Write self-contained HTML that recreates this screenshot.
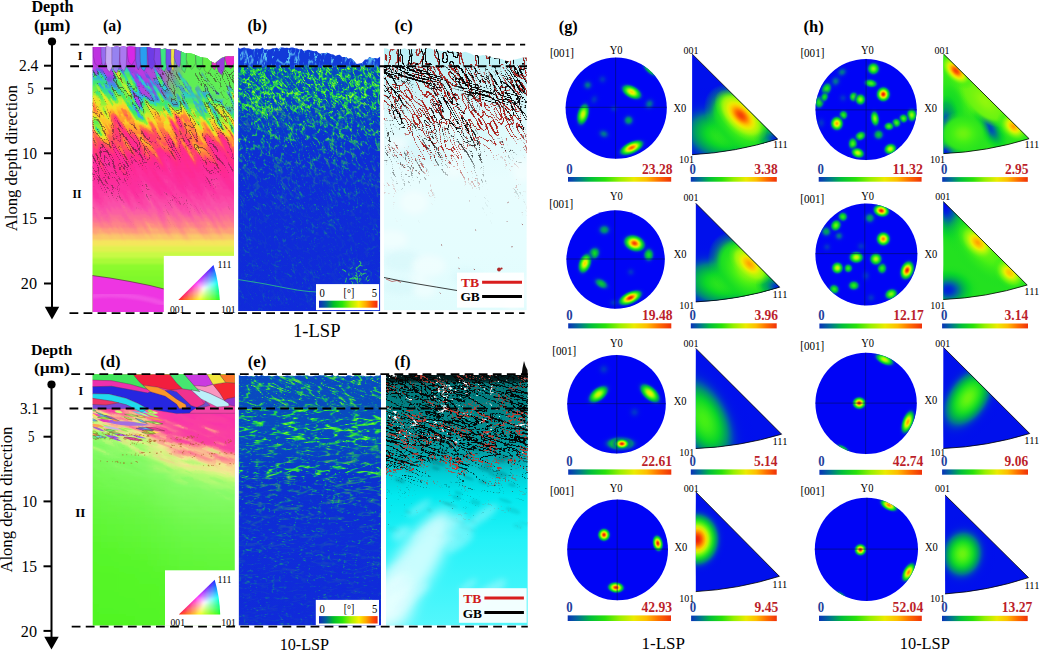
<!DOCTYPE html>
<html><head><meta charset="utf-8"><title>EBSD figure</title>
<style>html,body{margin:0;padding:0;background:#fff;overflow:hidden}svg{display:block}text{font-family:'Liberation Serif','DejaVu Serif',serif}</style></head>
<body>
<svg width="1039" height="652" viewBox="0 0 1039 652">
<defs>
<linearGradient id="cb" x1="0" x2="1" y1="0" y2="0"><stop offset="0%" stop-color="#0a32b9"/><stop offset="10%" stop-color="#006e96"/><stop offset="22%" stop-color="#00be3c"/><stop offset="36%" stop-color="#28e10a"/><stop offset="50%" stop-color="#96f000"/><stop offset="64%" stop-color="#ebeb00"/><stop offset="76%" stop-color="#ffbe00"/><stop offset="88%" stop-color="#ff6e00"/><stop offset="100%" stop-color="#f0320a"/></linearGradient>
<filter id="bl1" x="-5%" y="-5%" width="110%" height="110%"><feGaussianBlur stdDeviation="0.45"/></filter>
<filter id="bl2" x="-5%" y="-5%" width="110%" height="110%"><feGaussianBlur stdDeviation="1.2"/></filter>
<filter id="bl3" x="-10%" y="-10%" width="120%" height="120%"><feGaussianBlur stdDeviation="3"/></filter>
<filter id="bl1k" x="-10%" y="-10%" width="120%" height="120%"><feGaussianBlur stdDeviation="0.9"/></filter>
<filter id="bl4" x="-30%" y="-30%" width="160%" height="160%"><feGaussianBlur stdDeviation="7"/></filter>
<filter id="bl0" x="-5%" y="-5%" width="110%" height="110%"><feGaussianBlur stdDeviation="0.3"/></filter>
<clipPath id="cp1"><path d="M92.5 47L96 47.2L99.5 47L103 47.4L106.5 46.7L110 47L113.3 46.9L116.7 46.6L120 47L123.3 46.5L126.7 46.9L130 46.6L133.3 46.7L136.7 47.1L140 47.6L143.3 47L146.7 47.1L150 47.6L153 48.2L156 48.2L159 48.3L162 49.2L165 48.5L168.5 49.6L171.9 49.3L175.4 49.3L178.6 50.4L181.8 51.7L185 53.3L189 53.2L193 54.1L196.5 55.6L200 56.9L203.5 57.8L207 58.1L210 61.1L215 63.2L218 60.7L221.5 57.9L224.8 56.8L228 56.1L231 56.2L234 56L234 312L92.5 312Z"/></clipPath>
<linearGradient id="r2"><stop offset="0" stop-color="#ae3ce5"/><stop offset="0.1" stop-color="#aa3ce6"/><stop offset="0.2" stop-color="#aa3ce6"/><stop offset="0.4" stop-color="#aa3ce6"/><stop offset="0.5" stop-color="#9f56d1"/><stop offset="0.6" stop-color="#5fee55"/><stop offset="0.8" stop-color="#5fee55"/><stop offset="0.9" stop-color="#5fee55"/><stop offset="1" stop-color="#5fee55"/></linearGradient>
<linearGradient id="r3"><stop offset="0" stop-color="#b33ce4"/><stop offset="0.1" stop-color="#af3ce5"/><stop offset="0.2" stop-color="#ab3ce6"/><stop offset="0.4" stop-color="#aa3ce6"/><stop offset="0.5" stop-color="#9f56d1"/><stop offset="0.6" stop-color="#5fee55"/><stop offset="0.8" stop-color="#5fee55"/><stop offset="0.9" stop-color="#5fee55"/><stop offset="1" stop-color="#5fee55"/></linearGradient>
<linearGradient id="r4"><stop offset="0" stop-color="#b83ce3"/><stop offset="0.1" stop-color="#b43ce4"/><stop offset="0.2" stop-color="#b03ce5"/><stop offset="0.4" stop-color="#ac3ce6"/><stop offset="0.5" stop-color="#9f56d1"/><stop offset="0.6" stop-color="#5fee55"/><stop offset="0.8" stop-color="#5fee55"/><stop offset="0.9" stop-color="#5fee55"/><stop offset="1" stop-color="#5fee55"/></linearGradient>
<linearGradient id="r5"><stop offset="0" stop-color="#bd3ce1"/><stop offset="0.1" stop-color="#b93ce2"/><stop offset="0.2" stop-color="#b53ce3"/><stop offset="0.4" stop-color="#b13ce4"/><stop offset="0.5" stop-color="#a156d0"/><stop offset="0.6" stop-color="#5fee55"/><stop offset="0.8" stop-color="#5fee55"/><stop offset="0.9" stop-color="#5fee55"/><stop offset="1" stop-color="#5fee55"/></linearGradient>
<linearGradient id="r6"><stop offset="0" stop-color="#983ce1"/><stop offset="0.1" stop-color="#be3ce1"/><stop offset="0.2" stop-color="#ba3ce2"/><stop offset="0.4" stop-color="#b63ce3"/><stop offset="0.5" stop-color="#a656cf"/><stop offset="0.6" stop-color="#5fee55"/><stop offset="0.8" stop-color="#5fee55"/><stop offset="0.9" stop-color="#5fee55"/><stop offset="1" stop-color="#5fee55"/></linearGradient>
<linearGradient id="r7"><stop offset="0" stop-color="#4269eb"/><stop offset="0.1" stop-color="#8741e3"/><stop offset="0.2" stop-color="#b53ce1"/><stop offset="0.4" stop-color="#bb3ce2"/><stop offset="0.5" stop-color="#aa56ce"/><stop offset="0.6" stop-color="#5fee55"/><stop offset="0.8" stop-color="#5fee55"/><stop offset="0.9" stop-color="#5fee55"/><stop offset="1" stop-color="#5fee55"/></linearGradient>
<linearGradient id="r8"><stop offset="0" stop-color="#2bd3c0"/><stop offset="0.1" stop-color="#3b84eb"/><stop offset="0.2" stop-color="#7449e5"/><stop offset="0.4" stop-color="#ab3ce1"/><stop offset="0.5" stop-color="#ae56cd"/><stop offset="0.6" stop-color="#5fee55"/><stop offset="0.8" stop-color="#5fee55"/><stop offset="0.9" stop-color="#5fee55"/><stop offset="1" stop-color="#5fee55"/></linearGradient>
<linearGradient id="r9"><stop offset="0" stop-color="#47eb5f"/><stop offset="0.1" stop-color="#2edba2"/><stop offset="0.2" stop-color="#339feb"/><stop offset="0.4" stop-color="#6150e8"/><stop offset="0.5" stop-color="#9856cc"/><stop offset="0.6" stop-color="#5fee55"/><stop offset="0.8" stop-color="#5fee55"/><stop offset="0.9" stop-color="#5fee55"/><stop offset="1" stop-color="#5fee55"/></linearGradient>
<linearGradient id="r10"><stop offset="0" stop-color="#76f23e"/><stop offset="0.1" stop-color="#50ec58"/><stop offset="0.2" stop-color="#30e284"/><stop offset="0.4" stop-color="#2cbaeb"/><stop offset="0.5" stop-color="#4f65dd"/><stop offset="0.6" stop-color="#5fee55"/><stop offset="0.8" stop-color="#5fee55"/><stop offset="0.9" stop-color="#5fee55"/><stop offset="1" stop-color="#5fee55"/></linearGradient>
<linearGradient id="r11"><stop offset="0" stop-color="#bcf12e"/><stop offset="0.1" stop-color="#83f23a"/><stop offset="0.2" stop-color="#5aee52"/><stop offset="0.4" stop-color="#35e86c"/><stop offset="0.5" stop-color="#29ccdd"/><stop offset="0.6" stop-color="#4a93bd"/><stop offset="0.8" stop-color="#5fee55"/><stop offset="0.9" stop-color="#5fee55"/><stop offset="1" stop-color="#5fee55"/></linearGradient>
<linearGradient id="r12"><stop offset="0" stop-color="#e7e628"/><stop offset="0.1" stop-color="#caf02b"/><stop offset="0.2" stop-color="#91f137"/><stop offset="0.4" stop-color="#63ef4b"/><stop offset="0.5" stop-color="#3eea65"/><stop offset="0.6" stop-color="#2cd3bf"/><stop offset="0.8" stop-color="#3a86ea"/><stop offset="0.9" stop-color="#5fee55"/><stop offset="1" stop-color="#5fee55"/></linearGradient>
<linearGradient id="r13"><stop offset="0" stop-color="#ffd328"/><stop offset="0.1" stop-color="#ede228"/><stop offset="0.2" stop-color="#d8f028"/><stop offset="0.4" stop-color="#a0f134"/><stop offset="0.5" stop-color="#6df044"/><stop offset="0.6" stop-color="#48eb5f"/><stop offset="0.8" stop-color="#2edba0"/><stop offset="0.9" stop-color="#33a0eb"/><stop offset="1" stop-color="#5fde64"/></linearGradient>
<linearGradient id="r14"><stop offset="0" stop-color="#ffb02b"/><stop offset="0.1" stop-color="#ffcc29"/><stop offset="0.2" stop-color="#f3df28"/><stop offset="0.4" stop-color="#deec28"/><stop offset="0.5" stop-color="#b1f130"/><stop offset="0.6" stop-color="#79f23c"/><stop offset="0.8" stop-color="#54ed56"/><stop offset="0.9" stop-color="#31e676"/><stop offset="1" stop-color="#28c7eb"/></linearGradient>
<linearGradient id="r15"><stop offset="0" stop-color="#ff9031"/><stop offset="0.1" stop-color="#ffa92c"/><stop offset="0.2" stop-color="#ffc22a"/><stop offset="0.4" stop-color="#fcd928"/><stop offset="0.5" stop-color="#e9e528"/><stop offset="0.6" stop-color="#d6f028"/><stop offset="0.8" stop-color="#a4f133"/><stop offset="0.9" stop-color="#74f13f"/><stop offset="1" stop-color="#53ed57"/></linearGradient>
<linearGradient id="r16"><stop offset="0" stop-color="#ff7146"/><stop offset="0.1" stop-color="#ff8637"/><stop offset="0.2" stop-color="#ff9c2d"/><stop offset="0.4" stop-color="#ffb22b"/><stop offset="0.5" stop-color="#ffc829"/><stop offset="0.6" stop-color="#f9db28"/><stop offset="0.8" stop-color="#e9e528"/><stop offset="0.9" stop-color="#d8ef28"/><stop offset="1" stop-color="#adf131"/></linearGradient>
<linearGradient id="r17"><stop offset="0" stop-color="#ff515b"/><stop offset="0.1" stop-color="#ff644e"/><stop offset="0.2" stop-color="#ff7742"/><stop offset="0.4" stop-color="#ff8a35"/><stop offset="0.5" stop-color="#ff9d2c"/><stop offset="0.6" stop-color="#ffb02b"/><stop offset="0.8" stop-color="#ffc429"/><stop offset="0.9" stop-color="#ffd728"/><stop offset="1" stop-color="#f0e028"/></linearGradient>
<linearGradient id="r18"><stop offset="0" stop-color="#ff426b"/><stop offset="0.1" stop-color="#ff4863"/><stop offset="0.2" stop-color="#ff525a"/><stop offset="0.4" stop-color="#ff624f"/><stop offset="0.5" stop-color="#ff7245"/><stop offset="0.6" stop-color="#ff833a"/><stop offset="0.8" stop-color="#ff932f"/><stop offset="0.9" stop-color="#ffa32c"/><stop offset="1" stop-color="#ffb42b"/></linearGradient>
<linearGradient id="r19"><stop offset="0" stop-color="#ff367a"/><stop offset="0.1" stop-color="#ff3b74"/><stop offset="0.2" stop-color="#ff406d"/><stop offset="0.4" stop-color="#ff4567"/><stop offset="0.5" stop-color="#ff4a60"/><stop offset="0.6" stop-color="#ff5558"/><stop offset="0.8" stop-color="#ff634f"/><stop offset="0.9" stop-color="#ff7046"/><stop offset="1" stop-color="#ff7d3d"/></linearGradient>
<linearGradient id="r20"><stop offset="0" stop-color="#ff2a8a"/><stop offset="0.1" stop-color="#ff2e85"/><stop offset="0.2" stop-color="#ff327f"/><stop offset="0.4" stop-color="#ff367a"/><stop offset="0.5" stop-color="#ff3a75"/><stop offset="0.6" stop-color="#ff3e70"/><stop offset="0.8" stop-color="#ff426b"/><stop offset="0.9" stop-color="#ff4666"/><stop offset="1" stop-color="#ff4a60"/></linearGradient>
<linearGradient id="r21"><stop offset="0" stop-color="#ff298e"/><stop offset="0.1" stop-color="#ff298e"/><stop offset="0.2" stop-color="#ff288d"/><stop offset="0.4" stop-color="#ff288c"/><stop offset="0.5" stop-color="#ff2a8a"/><stop offset="0.6" stop-color="#ff2d86"/><stop offset="0.8" stop-color="#ff3082"/><stop offset="0.9" stop-color="#ff337e"/><stop offset="1" stop-color="#ff367a"/></linearGradient>
<linearGradient id="r22"><stop offset="0" stop-color="#fe2a91"/><stop offset="0.1" stop-color="#fe2a91"/><stop offset="0.2" stop-color="#fe2a90"/><stop offset="0.4" stop-color="#fe2a90"/><stop offset="0.5" stop-color="#fe298f"/><stop offset="0.6" stop-color="#ff298f"/><stop offset="0.8" stop-color="#ff298f"/><stop offset="0.9" stop-color="#ff298e"/><stop offset="1" stop-color="#ff298e"/></linearGradient>
<linearGradient id="r23"><stop offset="0" stop-color="#fe2b94"/><stop offset="0.1" stop-color="#fe2b94"/><stop offset="0.2" stop-color="#fe2b94"/><stop offset="0.4" stop-color="#fe2b94"/><stop offset="0.5" stop-color="#fe2b93"/><stop offset="0.6" stop-color="#fe2b93"/><stop offset="0.8" stop-color="#fe2b93"/><stop offset="0.9" stop-color="#fe2b93"/><stop offset="1" stop-color="#fe2b92"/></linearGradient>
<g id="baseA" filter="url(#bl2)"><rect x="32.5" y="20" width="261.5" height="330" fill="#ff2c96"/><rect x="62.5" y="36" width="201.5" height="6.7" fill="url(#r2)"/><rect x="62.5" y="42" width="201.5" height="6.7" fill="url(#r3)"/><rect x="62.5" y="48" width="201.5" height="6.7" fill="url(#r4)"/><rect x="62.5" y="54" width="201.5" height="6.7" fill="url(#r5)"/><rect x="62.5" y="60" width="201.5" height="6.7" fill="url(#r6)"/><rect x="62.5" y="66" width="201.5" height="6.7" fill="url(#r7)"/><rect x="62.5" y="72" width="201.5" height="6.7" fill="url(#r8)"/><rect x="62.5" y="78" width="201.5" height="6.7" fill="url(#r9)"/><rect x="62.5" y="84" width="201.5" height="6.7" fill="url(#r10)"/><rect x="62.5" y="90" width="201.5" height="6.7" fill="url(#r11)"/><rect x="62.5" y="96" width="201.5" height="6.7" fill="url(#r12)"/><rect x="62.5" y="102" width="201.5" height="6.7" fill="url(#r13)"/><rect x="62.5" y="108" width="201.5" height="6.7" fill="url(#r14)"/><rect x="62.5" y="114" width="201.5" height="6.7" fill="url(#r15)"/><rect x="62.5" y="120" width="201.5" height="6.7" fill="url(#r16)"/><rect x="62.5" y="126" width="201.5" height="6.7" fill="url(#r17)"/><rect x="62.5" y="132" width="201.5" height="6.7" fill="url(#r18)"/><rect x="62.5" y="138" width="201.5" height="6.7" fill="url(#r19)"/><rect x="62.5" y="144" width="201.5" height="6.7" fill="url(#r20)"/><rect x="62.5" y="150" width="201.5" height="6.7" fill="url(#r21)"/><rect x="62.5" y="156" width="201.5" height="6.7" fill="url(#r22)"/><rect x="62.5" y="162" width="201.5" height="6.7" fill="url(#r23)"/><rect x="62.5" y="168" width="201.5" height="6.7" fill="#fd2c97"/><rect x="62.5" y="174" width="201.5" height="6.7" fill="#fd2e9a"/><rect x="62.5" y="180" width="201.5" height="6.7" fill="#fc2f9d"/><rect x="62.5" y="186" width="201.5" height="6.7" fill="#fc32a0"/><rect x="62.5" y="192" width="201.5" height="6.7" fill="#fb3ca3"/><rect x="62.5" y="198" width="201.5" height="6.7" fill="#fb46a6"/><rect x="62.5" y="204" width="201.5" height="6.7" fill="#fa50a9"/><rect x="62.5" y="210" width="201.5" height="6.7" fill="#fb5ea3"/><rect x="62.5" y="216" width="201.5" height="6.7" fill="#fc7096"/><rect x="62.5" y="222" width="201.5" height="6.7" fill="#fe8389"/><rect x="62.5" y="228" width="201.5" height="6.7" fill="#fe9f7a"/><rect x="62.5" y="234" width="201.5" height="6.7" fill="#fcc56c"/><rect x="62.5" y="240" width="201.5" height="6.7" fill="#f6e65d"/><rect x="62.5" y="246" width="201.5" height="6.7" fill="#e0f150"/><rect x="62.5" y="252" width="201.5" height="6.7" fill="#c8fa44"/><rect x="62.5" y="258" width="201.5" height="6.7" fill="#aafa39"/><rect x="62.5" y="264" width="201.5" height="6.7" fill="#8cfa2d"/><rect x="62.5" y="270" width="201.5" height="6.7" fill="#85f92b"/><rect x="62.5" y="276" width="201.5" height="6.7" fill="#7ff82a"/><rect x="62.5" y="282" width="201.5" height="6.7" fill="#78f728"/><rect x="62.5" y="288" width="201.5" height="6.7" fill="#78f728"/><rect x="62.5" y="294" width="201.5" height="6.7" fill="#78f728"/><rect x="62.5" y="300" width="201.5" height="6.7" fill="#78f728"/><rect x="62.5" y="306" width="201.5" height="6.7" fill="#78f728"/><rect x="62.5" y="312" width="201.5" height="6.7" fill="#78f728"/><rect x="62.5" y="318" width="201.5" height="6.7" fill="#78f728"/><rect x="62.5" y="324" width="201.5" height="6.7" fill="#78f728"/><rect x="62.5" y="330" width="201.5" height="6.7" fill="#78f728"/></g>
<filter id="ga1" filterUnits="userSpaceOnUse" x="-7" y="10" width="340" height="340" color-interpolation-filters="sRGB"><feTurbulence type="fractalNoise" baseFrequency="0.028 0.14" numOctaves="2" seed="4"/><feColorMatrix type="matrix" values="1 0 0 0 0 1 0 0 0 0 1 0 0 0 0 0 0 0 0 1"/><feComponentTransfer result="n"><feFuncR type="discrete" tableValues="0 0.1 0.22 0.32 0.4 0.46 0.54 0.6 0.68 0.78 0.9 1"/><feFuncG type="discrete" tableValues="0 0.1 0.22 0.32 0.4 0.46 0.54 0.6 0.68 0.78 0.9 1"/></feComponentTransfer><feDisplacementMap in="SourceGraphic" in2="n" scale="75" xChannelSelector="R" yChannelSelector="G"/></filter>
<filter id="ga2" filterUnits="userSpaceOnUse" x="-7" y="10" width="340" height="340" color-interpolation-filters="sRGB"><feTurbulence type="fractalNoise" baseFrequency="0.028 0.14" numOctaves="2" seed="4"/><feColorMatrix type="matrix" values="1 0 0 0 0 1 0 0 0 0 1 0 0 0 0 0 0 0 0 1"/><feComponentTransfer result="n"><feFuncR type="discrete" tableValues="0 0.1 0.22 0.32 0.4 0.46 0.54 0.6 0.68 0.78 0.9 1"/><feFuncG type="discrete" tableValues="0 0.1 0.22 0.32 0.4 0.46 0.54 0.6 0.68 0.78 0.9 1"/></feComponentTransfer><feDisplacementMap in="SourceGraphic" in2="n" scale="25" xChannelSelector="R" yChannelSelector="G"/></filter>
<linearGradient id="mg25" gradientUnits="userSpaceOnUse" x1="0" x2="0" y1="40" y2="320"><stop offset="0%" stop-color="#ffffff"/><stop offset="35.7%" stop-color="#ffffff"/><stop offset="55.4%" stop-color="#000000"/><stop offset="100%" stop-color="#000000"/></linearGradient>
<mask id="m24" maskUnits="userSpaceOnUse" x="92.5" y="40" width="141.5" height="280"><rect x="92.5" y="40" width="141.5" height="280" fill="url(#mg25)"/></mask>
<linearGradient id="mg27" gradientUnits="userSpaceOnUse" x1="0" x2="0" y1="40" y2="320"><stop offset="0%" stop-color="#ffffff"/><stop offset="58.9%" stop-color="#ffffff"/><stop offset="73.2%" stop-color="#000000"/><stop offset="100%" stop-color="#000000"/></linearGradient>
<mask id="m26" maskUnits="userSpaceOnUse" x="92.5" y="40" width="141.5" height="280"><rect x="92.5" y="40" width="141.5" height="280" fill="url(#mg27)"/></mask>
<filter id="al1" x="0" y="0" width="100%" height="100%" color-interpolation-filters="sRGB"><feTurbulence type="fractalNoise" baseFrequency="0.028 0.14" numOctaves="2" seed="4"/><feColorMatrix type="matrix" values="0 0 0 0 0.235 0 0 0 0 0.118 0 0 0 0 0.157 1 0 0 0 0"/><feComponentTransfer result="T"><feFuncA type="discrete" tableValues="0 0 1 1 0 0 1 1 0 0 1 1 0 0 1 1"/></feComponentTransfer><feMorphology in="T" operator="dilate" radius="1" result="D"/><feComposite in="D" in2="T" operator="out"/><feComposite in2="SourceGraphic" operator="in" result="v"/><feTurbulence type="fractalNoise" baseFrequency="0.02 0.05" numOctaves="2" seed="13"/><feColorMatrix type="matrix" values="0 0 0 0 0 0 0 0 0 0 0 0 0 0 0 1 0 0 0 0"/><feComponentTransfer result="p"><feFuncA type="table" tableValues="0.4 0.4 0.4 0.49 0.7 0.91 1 1 1 1"/></feComponentTransfer><feComposite in="v" in2="p" operator="in"/><feComponentTransfer><feFuncA type="table" tableValues="0 0 0 0 0 0.7 1 1 1 1 1"/></feComponentTransfer></filter>
<linearGradient id="dg28" gradientUnits="userSpaceOnUse" x1="163" x2="163" y1="40" y2="320" gradientTransform="rotate(-60 163 180)"><stop offset="0%" stop-color="#000" stop-opacity="0.00"/><stop offset="9.3%" stop-color="#000" stop-opacity="0.00"/><stop offset="11.4%" stop-color="#000" stop-opacity="0.70"/><stop offset="35.7%" stop-color="#000" stop-opacity="0.66"/><stop offset="46.4%" stop-color="#000" stop-opacity="0.56"/><stop offset="55.4%" stop-color="#000" stop-opacity="0.50"/><stop offset="62.5%" stop-color="#000" stop-opacity="0.42"/><stop offset="100%" stop-color="#000" stop-opacity="0.30"/></linearGradient>
<clipPath id="cp29"><path d="M238.1 47.4L240.1 48.7L242.2 48L244.2 47.4L246.2 48.3L248.3 48.2L250.3 48.7L252.3 49.5L254.4 48.9L256.4 48.6L258.4 48.8L260.5 48.9L262.5 47.6L264.5 49.4L266.6 49.2L268.6 49.4L270.6 49.2L272.7 48.3L274.7 48.3L276.7 47.7L278.8 48.9L280.8 47.6L282.8 47.6L284.9 47.9L286.9 47.8L288.9 48.2L291 47.6L293 47.5L295.1 48.2L297.3 48.5L299.5 49.4L301.6 49.1L303.7 51L305.8 50.6L307.9 49.7L310 50.1L312.1 50.7L314.3 51.2L316.5 51L318.6 53.1L320.7 53.7L322.8 52.9L324.9 53.2L327 52.7L329.1 53.2L331.2 54.2L333.4 54.4L335.5 56.1L337.7 54.9L339.8 54.8L342 57.1L344.1 57L346.1 57L348.2 58.7L350.6 58.1L353 59.7L356.7 64L359.4 63.5L362 63L365 59.6L367.3 59.4L369.4 56.9L372.2 58.3L375 58L377.6 58.4L380.3 56.5L380.3 311L238.1 311Z"/></clipPath>
<linearGradient id="vg30" gradientUnits="userSpaceOnUse" x1="0" x2="0" y1="40" y2="320"><stop offset="0%" stop-color="#123ad8"/><stop offset="9.3%" stop-color="#123ad8"/><stop offset="10.7%" stop-color="#0846c4"/><stop offset="25%" stop-color="#083acc"/><stop offset="42.9%" stop-color="#0e2cd6"/><stop offset="100%" stop-color="#102ada"/></linearGradient>
<filter id="kv1" x="0" y="0" width="100%" height="100%" color-interpolation-filters="sRGB"><feTurbulence type="turbulence" baseFrequency="0.095 0.21" numOctaves="2" seed="5"/><feColorMatrix type="matrix" values="1 0 0 0 0 1 0 0 0 0 1 0 0 0 0 1 0 0 0 0"/><feComponentTransfer><feFuncR type="table" tableValues="0.78 0.47 0.2 0.08 0.04 0.04 0.04 0.04 0.04 0.04 0.04 0.04 0.04 0.04 0.04 0.04 0.04 0.04 0.04 0.04 0.04 0.04 0.04 0.04 0.04 0.04"/><feFuncG type="table" tableValues="0.96 0.94 0.88 0.75 0.47 0.47 0.47 0.47 0.47 0.47 0.47 0.47 0.47 0.47 0.47 0.47 0.47 0.47 0.47 0.47 0.47 0.47 0.47 0.47 0.47 0.47"/><feFuncB type="table" tableValues="0.2 0.2 0.24 0.39 0.67 0.67 0.67 0.67 0.67 0.67 0.67 0.67 0.67 0.67 0.67 0.67 0.67 0.67 0.67 0.67 0.67 0.67 0.67 0.67 0.67 0.67"/><feFuncA type="table" tableValues="1 1 1 0.9 0.55 0.2 0 0 0 0 0 0 0 0 0 0 0 0 0 0 0 0 0 0 0 0"/></feComponentTransfer></filter>
<filter id="kv6" x="0" y="0" width="100%" height="100%" color-interpolation-filters="sRGB"><feTurbulence type="turbulence" baseFrequency="0.13 0.25" numOctaves="2" seed="31"/><feColorMatrix type="matrix" values="1 0 0 0 0 1 0 0 0 0 1 0 0 0 0 1 0 0 0 0"/><feComponentTransfer><feFuncR type="table" tableValues="0.8 0.59 0.35 0.16 0.06 0.06 0.06 0.06 0.06 0.06 0.06 0.06 0.06 0.06 0.06 0.06 0.06 0.06 0.06 0.06 0.06 0.06 0.06 0.06 0.06 0.06"/><feFuncG type="table" tableValues="0.97 0.96 0.92 0.84 0.63 0.63 0.63 0.63 0.63 0.63 0.63 0.63 0.63 0.63 0.63 0.63 0.63 0.63 0.63 0.63 0.63 0.63 0.63 0.63 0.63 0.63"/><feFuncB type="table" tableValues="0.2 0.2 0.22 0.31 0.51 0.51 0.51 0.51 0.51 0.51 0.51 0.51 0.51 0.51 0.51 0.51 0.51 0.51 0.51 0.51 0.51 0.51 0.51 0.51 0.51 0.51"/><feFuncA type="table" tableValues="1 1 1 1 0.75 0.35 0.1 0 0 0 0 0 0 0 0 0 0 0 0 0 0 0 0 0 0 0"/></feComponentTransfer></filter>
<filter id="kv2" x="0" y="0" width="100%" height="100%" color-interpolation-filters="sRGB"><feTurbulence type="turbulence" baseFrequency="0.09 0.21" numOctaves="2" seed="12"/><feColorMatrix type="matrix" values="1 0 0 0 0 1 0 0 0 0 1 0 0 0 0 1 0 0 0 0"/><feComponentTransfer><feFuncR type="table" tableValues="0.24 0.12 0.04 0.04 0.04 0.04 0.04 0.04 0.04 0.04 0.04 0.04 0.04 0.04 0.04 0.04 0.04 0.04 0.04 0.04 0.04 0.04 0.04 0.04 0.04 0.04"/><feFuncG type="table" tableValues="0.88 0.78 0.59 0.43 0.43 0.43 0.43 0.43 0.43 0.43 0.43 0.43 0.43 0.43 0.43 0.43 0.43 0.43 0.43 0.43 0.43 0.43 0.43 0.43 0.43 0.43"/><feFuncB type="table" tableValues="0.24 0.35 0.55 0.71 0.71 0.71 0.71 0.71 0.71 0.71 0.71 0.71 0.71 0.71 0.71 0.71 0.71 0.71 0.71 0.71 0.71 0.71 0.71 0.71 0.71 0.71"/><feFuncA type="table" tableValues="1 1 0.7 0.3 0 0 0 0 0 0 0 0 0 0 0 0 0 0 0 0 0 0 0 0 0 0"/></feComponentTransfer></filter>
<filter id="kv3" x="0" y="0" width="100%" height="100%" color-interpolation-filters="sRGB"><feTurbulence type="turbulence" baseFrequency="0.22 0.06" numOctaves="1" seed="3"/><feColorMatrix type="matrix" values="1 0 0 0 0 1 0 0 0 0 1 0 0 0 0 1 0 0 0 0"/><feComponentTransfer><feFuncR type="table" tableValues="0.35 0.27 0.16 0.16 0.16 0.16 0.16 0.16 0.16 0.16 0.16 0.16 0.16 0.16 0.16 0.16 0.16 0.16 0.16 0.16 0.16 0.16 0.16 0.16 0.16 0.16"/><feFuncG type="table" tableValues="0.75 0.59 0.39 0.39 0.39 0.39 0.39 0.39 0.39 0.39 0.39 0.39 0.39 0.39 0.39 0.39 0.39 0.39 0.39 0.39 0.39 0.39 0.39 0.39 0.39 0.39"/><feFuncB type="table" tableValues="0.94 0.92 0.88 0.88 0.88 0.88 0.88 0.88 0.88 0.88 0.88 0.88 0.88 0.88 0.88 0.88 0.88 0.88 0.88 0.88 0.88 0.88 0.88 0.88 0.88 0.88"/><feFuncA type="table" tableValues="1 0.9 0.45 0 0 0 0 0 0 0 0 0 0 0 0 0 0 0 0 0 0 0 0 0 0 0"/></feComponentTransfer></filter>
<linearGradient id="mg32" gradientUnits="userSpaceOnUse" x1="0" x2="0" y1="40" y2="320"><stop offset="0%" stop-color="#000000"/><stop offset="8.6%" stop-color="#000000"/><stop offset="10%" stop-color="#ffffff"/><stop offset="25.7%" stop-color="#ffffff"/><stop offset="32.1%" stop-color="#cccccc"/><stop offset="40%" stop-color="#808080"/><stop offset="48.2%" stop-color="#383838"/><stop offset="60.7%" stop-color="#141414"/><stop offset="100%" stop-color="#080808"/></linearGradient>
<mask id="m31" maskUnits="userSpaceOnUse" x="238.1" y="40" width="142.2" height="280"><rect x="238.1" y="40" width="142.2" height="280" fill="url(#mg32)"/></mask>
<linearGradient id="mg34" gradientUnits="userSpaceOnUse" x1="0" x2="0" y1="40" y2="320"><stop offset="0%" stop-color="#000000"/><stop offset="8.9%" stop-color="#000000"/><stop offset="10%" stop-color="#ffffff"/><stop offset="20.7%" stop-color="#ffffff"/><stop offset="27.1%" stop-color="#595959"/><stop offset="33.9%" stop-color="#000000"/><stop offset="100%" stop-color="#000000"/></linearGradient>
<mask id="m33" maskUnits="userSpaceOnUse" x="238.1" y="40" width="142.2" height="280"><rect x="238.1" y="40" width="142.2" height="280" fill="url(#mg34)"/></mask>
<linearGradient id="mg36" gradientUnits="userSpaceOnUse" x1="0" x2="0" y1="40" y2="320"><stop offset="0%" stop-color="#000000"/><stop offset="9.3%" stop-color="#000000"/><stop offset="10.7%" stop-color="#e6e6e6"/><stop offset="35.7%" stop-color="#cccccc"/><stop offset="50%" stop-color="#8c8c8c"/><stop offset="71.4%" stop-color="#4c4c4c"/><stop offset="100%" stop-color="#404040"/></linearGradient>
<mask id="m35" maskUnits="userSpaceOnUse" x="238.1" y="40" width="142.2" height="280"><rect x="238.1" y="40" width="142.2" height="280" fill="url(#mg36)"/></mask>
<linearGradient id="mg38" gradientUnits="userSpaceOnUse" x1="0" x2="0" y1="40" y2="320"><stop offset="0%" stop-color="#ffffff"/><stop offset="7.9%" stop-color="#ffffff"/><stop offset="10%" stop-color="#000000"/><stop offset="100%" stop-color="#000000"/></linearGradient>
<mask id="m37" maskUnits="userSpaceOnUse" x="238.1" y="40" width="142.2" height="280"><rect x="238.1" y="40" width="142.2" height="280" fill="url(#mg38)"/></mask>
<clipPath id="cp39"><path d="M383.9 48.2L386.5 48.4L389.1 49.5L391.7 49.1L394.3 49.2L396.9 49.2L399.5 49.3L402.1 49L404.7 48.2L407.2 49.5L409.8 49.4L412.4 49L415 49.1L417.6 49.3L420.2 48.3L422.8 49.4L425.4 48.6L428 48.3L430.6 48.6L433.5 49.7L436.4 49.1L439.3 50.2L442.2 50.9L445.1 50.4L448 50.5L450.9 51L453.8 51.6L456.6 52L459.5 52.1L462.4 52.4L465.3 51.8L468.2 52.8L471.1 53.8L474 55.5L477 55L480 55.7L483 55L485.8 55.4L488.5 56.1L491.3 57.1L494.1 57.9L497 58.6L501.7 59.1L504.9 60.4L508 61.2L510.9 60.7L513.8 59.7L517.3 59.1L522 57.8L526.8 57.2L526.8 310.4L383.9 310.4Z"/></clipPath>
<linearGradient id="vg40" gradientUnits="userSpaceOnUse" x1="0" x2="0" y1="40" y2="315"><stop offset="0%" stop-color="#b8f0f6"/><stop offset="12.7%" stop-color="#c4f2f7"/><stop offset="29.1%" stop-color="#defafc"/><stop offset="50.9%" stop-color="#e8fdfe"/><stop offset="76.4%" stop-color="#e5fdfe"/><stop offset="100%" stop-color="#e0fcfd"/></linearGradient>
<filter id="cl1" x="0" y="0" width="100%" height="100%" color-interpolation-filters="sRGB"><feTurbulence type="fractalNoise" baseFrequency="0.03 0.11" numOctaves="2" seed="4"/><feColorMatrix type="matrix" values="0 0 0 0 0.675 0 0 0 0 0.141 0 0 0 0 0.125 1 0 0 0 0"/><feComponentTransfer result="T"><feFuncA type="discrete" tableValues="0 0 1 1 0 0 1 1 0 0 1 1 0 0 1 1"/></feComponentTransfer><feMorphology in="T" operator="dilate" radius="1" result="D"/><feComposite in="D" in2="T" operator="out"/><feComposite in2="SourceGraphic" operator="in" result="v"/><feTurbulence type="fractalNoise" baseFrequency="0.02 0.05" numOctaves="2" seed="3"/><feColorMatrix type="matrix" values="0 0 0 0 0 0 0 0 0 0 0 0 0 0 0 1 0 0 0 0"/><feComponentTransfer result="p"><feFuncA type="table" tableValues="0.45 0.45 0.45 0.53 0.73 0.92 1 1 1 1"/></feComponentTransfer><feComposite in="v" in2="p" operator="in"/><feComponentTransfer><feFuncA type="table" tableValues="0 0 0 0 0 0.7 1 1 1 1 1"/></feComponentTransfer></filter>
<filter id="cl2" x="0" y="0" width="100%" height="100%" color-interpolation-filters="sRGB"><feTurbulence type="fractalNoise" baseFrequency="0.026 0.1" numOctaves="2" seed="17"/><feColorMatrix type="matrix" values="0 0 0 0 0.039 0 0 0 0 0.039 0 0 0 0 0.039 1 0 0 0 0"/><feComponentTransfer result="T"><feFuncA type="discrete" tableValues="0 0 1 1 0 0 1 1 0 0 1 1 0 0 1 1"/></feComponentTransfer><feMorphology in="T" operator="dilate" radius="1" result="D"/><feComposite in="D" in2="T" operator="out"/><feComposite in2="SourceGraphic" operator="in" result="v"/><feTurbulence type="fractalNoise" baseFrequency="0.018 0.05" numOctaves="2" seed="8"/><feColorMatrix type="matrix" values="0 0 0 0 0 0 0 0 0 0 0 0 0 0 0 1 0 0 0 0"/><feComponentTransfer result="p"><feFuncA type="table" tableValues="0.45 0.45 0.45 0.53 0.73 0.92 1 1 1 1"/></feComponentTransfer><feComposite in="v" in2="p" operator="in"/><feComponentTransfer><feFuncA type="table" tableValues="0 0 0 0 0 0.7 1 1 1 1 1"/></feComponentTransfer></filter>
<filter id="cl3" x="0" y="0" width="100%" height="100%" color-interpolation-filters="sRGB"><feTurbulence type="fractalNoise" baseFrequency="0.1 0.03" numOctaves="2" seed="6"/><feColorMatrix type="matrix" values="0 0 0 0 0.627 0 0 0 0 0.157 0 0 0 0 0.141 1 0 0 0 0"/><feComponentTransfer result="T"><feFuncA type="discrete" tableValues="0 0 0 1 1 1 0 0 0 1 1 1"/></feComponentTransfer><feMorphology in="T" operator="dilate" radius="1" result="D"/><feComposite in="D" in2="T" operator="out"/><feComposite in2="SourceGraphic" operator="in" result="v"/><feComponentTransfer><feFuncA type="table" tableValues="0 0 0 0 0 0.7 1 1 1 1 1"/></feComponentTransfer></filter>
<filter id="cl5" x="0" y="0" width="100%" height="100%" color-interpolation-filters="sRGB"><feTurbulence type="fractalNoise" baseFrequency="0.09 0.028" numOctaves="2" seed="29"/><feColorMatrix type="matrix" values="0 0 0 0 0.047 0 0 0 0 0.047 0 0 0 0 0.047 1 0 0 0 0"/><feComponentTransfer result="T"><feFuncA type="discrete" tableValues="0 0 0 1 1 1 0 0 0 1 1 1"/></feComponentTransfer><feMorphology in="T" operator="dilate" radius="1" result="D"/><feComposite in="D" in2="T" operator="out"/><feComposite in2="SourceGraphic" operator="in" result="v"/><feComponentTransfer><feFuncA type="table" tableValues="0 0 0 0 0 0.7 1 1 1 1 1"/></feComponentTransfer></filter>
<filter id="cl4" x="0" y="0" width="100%" height="100%" color-interpolation-filters="sRGB"><feTurbulence type="fractalNoise" baseFrequency="0.02 0.16" numOctaves="2" seed="31"/><feColorMatrix type="matrix" values="0 0 0 0 0.031 0 0 0 0 0.031 0 0 0 0 0.031 1 0 0 0 0"/><feComponentTransfer result="T"><feFuncA type="discrete" tableValues="0 0 1 1 0 0 1 1 0 0 1 1 0 0 1 1"/></feComponentTransfer><feMorphology in="T" operator="dilate" radius="1" result="D"/><feComposite in="D" in2="T" operator="out"/><feComposite in2="SourceGraphic" operator="in" result="v"/><feTurbulence type="fractalNoise" baseFrequency="0.03 0.08" numOctaves="2" seed="21"/><feColorMatrix type="matrix" values="0 0 0 0 0 0 0 0 0 0 0 0 0 0 0 1 0 0 0 0"/><feComponentTransfer result="p"><feFuncA type="table" tableValues="0.5 0.5 0.5 0.57 0.75 0.93 1 1 1 1"/></feComponentTransfer><feComposite in="v" in2="p" operator="in"/><feComponentTransfer><feFuncA type="table" tableValues="0 0 0 0 0 0.7 1 1 1 1 1"/></feComponentTransfer></filter>
<linearGradient id="dg41" gradientUnits="userSpaceOnUse" x1="455" x2="455" y1="40" y2="320" gradientTransform="rotate(-60 455 180)"><stop offset="0%" stop-color="#000" stop-opacity="0.00"/><stop offset="7.9%" stop-color="#000" stop-opacity="0.00"/><stop offset="9.6%" stop-color="#000" stop-opacity="1.00"/><stop offset="21.4%" stop-color="#000" stop-opacity="0.96"/><stop offset="30.4%" stop-color="#000" stop-opacity="0.76"/><stop offset="37.5%" stop-color="#000" stop-opacity="0.62"/><stop offset="42.9%" stop-color="#000" stop-opacity="0.52"/><stop offset="50%" stop-color="#000" stop-opacity="0.45"/><stop offset="58.9%" stop-color="#000" stop-opacity="0.41"/><stop offset="100%" stop-color="#000" stop-opacity="0.37"/></linearGradient>
<linearGradient id="dg42" gradientUnits="userSpaceOnUse" x1="455" x2="455" y1="40" y2="320" gradientTransform="rotate(-60 455 180)"><stop offset="0%" stop-color="#000" stop-opacity="0.00"/><stop offset="7.9%" stop-color="#000" stop-opacity="0.00"/><stop offset="9.6%" stop-color="#000" stop-opacity="0.80"/><stop offset="19.6%" stop-color="#000" stop-opacity="0.76"/><stop offset="25.7%" stop-color="#000" stop-opacity="0.68"/><stop offset="33.9%" stop-color="#000" stop-opacity="0.60"/><stop offset="41.1%" stop-color="#000" stop-opacity="0.51"/><stop offset="48.2%" stop-color="#000" stop-opacity="0.45"/><stop offset="57.1%" stop-color="#000" stop-opacity="0.41"/><stop offset="100%" stop-color="#000" stop-opacity="0.37"/></linearGradient>
<linearGradient id="dg43" gradientUnits="userSpaceOnUse" x1="455" x2="455" y1="40" y2="320" gradientTransform="rotate(-5 455 60)"><stop offset="0%" stop-color="#000" stop-opacity="1.00"/><stop offset="8.2%" stop-color="#000" stop-opacity="1.00"/><stop offset="10.4%" stop-color="#000" stop-opacity="0.00"/><stop offset="100%" stop-color="#000" stop-opacity="0.00"/></linearGradient>
<linearGradient id="dg44" gradientUnits="userSpaceOnUse" x1="455" x2="455" y1="40" y2="320" gradientTransform="rotate(4 455 60)"><stop offset="0%" stop-color="#000" stop-opacity="1.00"/><stop offset="8.2%" stop-color="#000" stop-opacity="1.00"/><stop offset="10.4%" stop-color="#000" stop-opacity="0.00"/><stop offset="100%" stop-color="#000" stop-opacity="0.00"/></linearGradient>
<clipPath id="cp45"><path d="M383 65L400 65L450 76L527 98L527 110L470 98L420 86L383 78Z"/></clipPath>
<linearGradient id="dg46" gradientUnits="userSpaceOnUse" x1="455" x2="455" y1="40" y2="320" gradientTransform="rotate(-16 455 90)"><stop offset="0%" stop-color="#000" stop-opacity="0.85"/><stop offset="100%" stop-color="#000" stop-opacity="0.85"/></linearGradient>
<clipPath id="cp47"><path d="M92.7 374.4L234.8 374.4L234.8 625.5L92.7 625.5Z"/></clipPath>
<linearGradient id="r48"><stop offset="0" stop-color="#fc6797"/><stop offset="0.1" stop-color="#fa41a0"/><stop offset="0.2" stop-color="#fa3ba4"/><stop offset="0.4" stop-color="#fa35a8"/><stop offset="0.5" stop-color="#fa32aa"/><stop offset="0.6" stop-color="#fa32aa"/><stop offset="0.8" stop-color="#fa32aa"/><stop offset="0.9" stop-color="#fa32aa"/><stop offset="1" stop-color="#fa32aa"/></linearGradient>
<linearGradient id="r49"><stop offset="0" stop-color="#fe8b8f"/><stop offset="0.1" stop-color="#fc5d9a"/><stop offset="0.2" stop-color="#fa3ea2"/><stop offset="0.4" stop-color="#fa38a6"/><stop offset="0.5" stop-color="#fa32aa"/><stop offset="0.6" stop-color="#fa32aa"/><stop offset="0.8" stop-color="#fa32aa"/><stop offset="0.9" stop-color="#fa32aa"/><stop offset="1" stop-color="#fa32aa"/></linearGradient>
<linearGradient id="r50"><stop offset="0" stop-color="#fbba90"/><stop offset="0.1" stop-color="#fe8191"/><stop offset="0.2" stop-color="#fa41a1"/><stop offset="0.4" stop-color="#fa3ba5"/><stop offset="0.5" stop-color="#fa35a8"/><stop offset="0.6" stop-color="#fa32aa"/><stop offset="0.8" stop-color="#fa32aa"/><stop offset="0.9" stop-color="#fa32aa"/><stop offset="1" stop-color="#fa32aa"/></linearGradient>
<linearGradient id="r51"><stop offset="0" stop-color="#f5ec95"/><stop offset="0.1" stop-color="#fdac8f"/><stop offset="0.2" stop-color="#fb549c"/><stop offset="0.4" stop-color="#fa3da3"/><stop offset="0.5" stop-color="#fa37a7"/><stop offset="0.6" stop-color="#fa32aa"/><stop offset="0.8" stop-color="#fa32aa"/><stop offset="0.9" stop-color="#fa32aa"/><stop offset="1" stop-color="#fa32aa"/></linearGradient>
<linearGradient id="r52"><stop offset="0" stop-color="#d6f681"/><stop offset="0.1" stop-color="#f7df95"/><stop offset="0.2" stop-color="#fd7893"/><stop offset="0.4" stop-color="#fa40a1"/><stop offset="0.5" stop-color="#fa3aa5"/><stop offset="0.6" stop-color="#fa35a8"/><stop offset="0.8" stop-color="#fa32aa"/><stop offset="0.9" stop-color="#fa32aa"/><stop offset="1" stop-color="#fa32aa"/></linearGradient>
<linearGradient id="r53"><stop offset="0" stop-color="#bafa75"/><stop offset="0.1" stop-color="#dff387"/><stop offset="0.2" stop-color="#fe9f8d"/><stop offset="0.4" stop-color="#fa499e"/><stop offset="0.5" stop-color="#fa3da3"/><stop offset="0.6" stop-color="#fa37a7"/><stop offset="0.8" stop-color="#fa34a8"/><stop offset="0.9" stop-color="#fa33a9"/><stop offset="1" stop-color="#fa33aa"/></linearGradient>
<linearGradient id="r54"><stop offset="0" stop-color="#a0fa6f"/><stop offset="0.1" stop-color="#c1fa76"/><stop offset="0.2" stop-color="#f9d293"/><stop offset="0.4" stop-color="#fd6d96"/><stop offset="0.5" stop-color="#fa3fa2"/><stop offset="0.6" stop-color="#fa3aa5"/><stop offset="0.8" stop-color="#fa37a7"/><stop offset="0.9" stop-color="#fa36a8"/><stop offset="1" stop-color="#fa35a8"/></linearGradient>
<linearGradient id="r55"><stop offset="0" stop-color="#87fa69"/><stop offset="0.1" stop-color="#a7fa70"/><stop offset="0.2" stop-color="#e7f18c"/><stop offset="0.4" stop-color="#ff918d"/><stop offset="0.5" stop-color="#fa42a0"/><stop offset="0.6" stop-color="#fa3da3"/><stop offset="0.8" stop-color="#fa3aa5"/><stop offset="0.9" stop-color="#fa39a6"/><stop offset="1" stop-color="#fa38a6"/></linearGradient>
<linearGradient id="r56"><stop offset="0" stop-color="#83fa65"/><stop offset="0.1" stop-color="#8dfa6a"/><stop offset="0.2" stop-color="#c8fa78"/><stop offset="0.4" stop-color="#fac291"/><stop offset="0.5" stop-color="#fc6498"/><stop offset="0.6" stop-color="#fa3fa2"/><stop offset="0.8" stop-color="#fa3ca3"/><stop offset="0.9" stop-color="#fa3ba4"/><stop offset="1" stop-color="#fa3ba5"/></linearGradient>
<linearGradient id="r57"><stop offset="0" stop-color="#80f960"/><stop offset="0.1" stop-color="#84fa66"/><stop offset="0.2" stop-color="#aefa72"/><stop offset="0.4" stop-color="#f0ee92"/><stop offset="0.5" stop-color="#fe888f"/><stop offset="0.6" stop-color="#fa44a0"/><stop offset="0.8" stop-color="#fa3fa2"/><stop offset="0.9" stop-color="#fa3ea3"/><stop offset="1" stop-color="#fa3da3"/></linearGradient>
<linearGradient id="r58"><stop offset="0" stop-color="#7cf95c"/><stop offset="0.1" stop-color="#81fa61"/><stop offset="0.2" stop-color="#94fa6c"/><stop offset="0.4" stop-color="#d2f77e"/><stop offset="0.5" stop-color="#fcb690"/><stop offset="0.6" stop-color="#fc6897"/><stop offset="0.8" stop-color="#fa42a0"/><stop offset="0.9" stop-color="#fa41a1"/><stop offset="1" stop-color="#fa40a1"/></linearGradient>
<linearGradient id="r59"><stop offset="0" stop-color="#79f958"/><stop offset="0.1" stop-color="#7df95d"/><stop offset="0.2" stop-color="#85fa67"/><stop offset="0.4" stop-color="#b6fa74"/><stop offset="0.5" stop-color="#f6e996"/><stop offset="0.6" stop-color="#fe8c8e"/><stop offset="0.8" stop-color="#fc6398"/><stop offset="0.9" stop-color="#fb529c"/><stop offset="1" stop-color="#fa4a9e"/></linearGradient>
<linearGradient id="r60"><stop offset="0" stop-color="#75f953"/><stop offset="0.1" stop-color="#7af959"/><stop offset="0.2" stop-color="#82fa63"/><stop offset="0.4" stop-color="#9cfa6e"/><stop offset="0.5" stop-color="#d9f583"/><stop offset="0.6" stop-color="#fbbb90"/><stop offset="0.8" stop-color="#fe8790"/><stop offset="0.9" stop-color="#fd7694"/><stop offset="1" stop-color="#fd6e96"/></linearGradient>
<linearGradient id="r61"><stop offset="0" stop-color="#72f84f"/><stop offset="0.1" stop-color="#76f955"/><stop offset="0.2" stop-color="#7ef95e"/><stop offset="0.4" stop-color="#86fa68"/><stop offset="0.5" stop-color="#bcfa75"/><stop offset="0.6" stop-color="#f4ec95"/><stop offset="0.8" stop-color="#fcb48f"/><stop offset="0.9" stop-color="#fe9c8d"/><stop offset="1" stop-color="#ff928d"/></linearGradient>
<linearGradient id="r62"><stop offset="0" stop-color="#6ef84b"/><stop offset="0.1" stop-color="#73f850"/><stop offset="0.2" stop-color="#7bf95a"/><stop offset="0.4" stop-color="#83fa64"/><stop offset="0.5" stop-color="#a2fa6f"/><stop offset="0.6" stop-color="#d6f681"/><stop offset="0.8" stop-color="#f6e895"/><stop offset="0.9" stop-color="#f9d093"/><stop offset="1" stop-color="#fac491"/></linearGradient>
<linearGradient id="r63"><stop offset="0" stop-color="#6bf847"/><stop offset="0.1" stop-color="#6ff84c"/><stop offset="0.2" stop-color="#77f956"/><stop offset="0.4" stop-color="#7ff960"/><stop offset="0.5" stop-color="#88fa69"/><stop offset="0.6" stop-color="#bafa75"/><stop offset="0.8" stop-color="#daf584"/><stop offset="0.9" stop-color="#e8f08d"/><stop offset="1" stop-color="#efee92"/></linearGradient>
<linearGradient id="r64"><stop offset="0" stop-color="#69f844"/><stop offset="0.1" stop-color="#6cf848"/><stop offset="0.2" stop-color="#74f951"/><stop offset="0.4" stop-color="#7cf95b"/><stop offset="0.5" stop-color="#84fa65"/><stop offset="0.6" stop-color="#a0fa6f"/><stop offset="0.8" stop-color="#bdfa76"/><stop offset="0.9" stop-color="#c9fa79"/><stop offset="1" stop-color="#d1f77e"/></linearGradient>
<linearGradient id="r65"><stop offset="0" stop-color="#67f841"/><stop offset="0.1" stop-color="#6af845"/><stop offset="0.2" stop-color="#70f84d"/><stop offset="0.4" stop-color="#78f957"/><stop offset="0.5" stop-color="#80f961"/><stop offset="0.6" stop-color="#87fa69"/><stop offset="0.8" stop-color="#a3fa70"/><stop offset="0.9" stop-color="#affa72"/><stop offset="1" stop-color="#b5fa74"/></linearGradient>
<linearGradient id="r66"><stop offset="0" stop-color="#65f73e"/><stop offset="0.1" stop-color="#68f842"/><stop offset="0.2" stop-color="#6df849"/><stop offset="0.4" stop-color="#75f953"/><stop offset="0.5" stop-color="#7df95c"/><stop offset="0.6" stop-color="#83fa64"/><stop offset="0.8" stop-color="#89fa6a"/><stop offset="0.9" stop-color="#95fa6c"/><stop offset="1" stop-color="#9bfa6e"/></linearGradient>
<linearGradient id="r67"><stop offset="0" stop-color="#63f73b"/><stop offset="0.1" stop-color="#66f73f"/><stop offset="0.2" stop-color="#6af845"/><stop offset="0.4" stop-color="#71f84e"/><stop offset="0.5" stop-color="#79f958"/><stop offset="0.6" stop-color="#80f960"/><stop offset="0.8" stop-color="#84fa65"/><stop offset="0.9" stop-color="#85fa67"/><stop offset="1" stop-color="#86fa68"/></linearGradient>
<linearGradient id="r68"><stop offset="0" stop-color="#61f738"/><stop offset="0.1" stop-color="#64f73c"/><stop offset="0.2" stop-color="#68f842"/><stop offset="0.4" stop-color="#6ef84a"/><stop offset="0.5" stop-color="#76f954"/><stop offset="0.6" stop-color="#7cf95c"/><stop offset="0.8" stop-color="#80fa61"/><stop offset="0.9" stop-color="#82fa63"/><stop offset="1" stop-color="#83fa64"/></linearGradient>
<linearGradient id="r69"><stop offset="0" stop-color="#5ff735"/><stop offset="0.1" stop-color="#62f739"/><stop offset="0.2" stop-color="#66f73f"/><stop offset="0.4" stop-color="#6bf846"/><stop offset="0.5" stop-color="#72f84f"/><stop offset="0.6" stop-color="#79f958"/><stop offset="0.8" stop-color="#7df95c"/><stop offset="0.9" stop-color="#7ef95e"/><stop offset="1" stop-color="#7ff95f"/></linearGradient>
<linearGradient id="r70"><stop offset="0" stop-color="#5df732"/><stop offset="0.1" stop-color="#60f736"/><stop offset="0.2" stop-color="#64f73c"/><stop offset="0.4" stop-color="#69f843"/><stop offset="0.5" stop-color="#6ff84b"/><stop offset="0.6" stop-color="#75f953"/><stop offset="0.8" stop-color="#79f958"/><stop offset="0.9" stop-color="#7bf95a"/><stop offset="1" stop-color="#7cf95b"/></linearGradient>
<linearGradient id="r71"><stop offset="0" stop-color="#5bf62f"/><stop offset="0.1" stop-color="#5ef733"/><stop offset="0.2" stop-color="#62f739"/><stop offset="0.4" stop-color="#67f740"/><stop offset="0.5" stop-color="#6bf847"/><stop offset="0.6" stop-color="#72f84f"/><stop offset="0.8" stop-color="#76f954"/><stop offset="0.9" stop-color="#77f956"/><stop offset="1" stop-color="#78f957"/></linearGradient>
<linearGradient id="r72"><stop offset="0" stop-color="#59f62c"/><stop offset="0.1" stop-color="#5cf630"/><stop offset="0.2" stop-color="#60f736"/><stop offset="0.4" stop-color="#65f73d"/><stop offset="0.5" stop-color="#69f844"/><stop offset="0.6" stop-color="#6ef84b"/><stop offset="0.8" stop-color="#72f850"/><stop offset="0.9" stop-color="#74f952"/><stop offset="1" stop-color="#75f953"/></linearGradient>
<linearGradient id="r73"><stop offset="0" stop-color="#58f62a"/><stop offset="0.1" stop-color="#5af62d"/><stop offset="0.2" stop-color="#5ef733"/><stop offset="0.4" stop-color="#63f73a"/><stop offset="0.5" stop-color="#67f841"/><stop offset="0.6" stop-color="#6bf847"/><stop offset="0.8" stop-color="#6ff84b"/><stop offset="0.9" stop-color="#70f84d"/><stop offset="1" stop-color="#71f84e"/></linearGradient>
<linearGradient id="r74"><stop offset="0" stop-color="#57f629"/><stop offset="0.1" stop-color="#58f62a"/><stop offset="0.2" stop-color="#5cf630"/><stop offset="0.4" stop-color="#61f737"/><stop offset="0.5" stop-color="#65f73e"/><stop offset="0.6" stop-color="#69f844"/><stop offset="0.8" stop-color="#6cf847"/><stop offset="0.9" stop-color="#6df849"/><stop offset="1" stop-color="#6ef84a"/></linearGradient>
<linearGradient id="r75"><stop offset="0" stop-color="#56f629"/><stop offset="0.1" stop-color="#57f629"/><stop offset="0.2" stop-color="#5af62d"/><stop offset="0.4" stop-color="#5ff734"/><stop offset="0.5" stop-color="#63f73b"/><stop offset="0.6" stop-color="#67f841"/><stop offset="0.8" stop-color="#6af844"/><stop offset="0.9" stop-color="#6af846"/><stop offset="1" stop-color="#6bf846"/></linearGradient>
<linearGradient id="r76"><stop offset="0" stop-color="#56f628"/><stop offset="0.1" stop-color="#57f629"/><stop offset="0.2" stop-color="#58f62a"/><stop offset="0.4" stop-color="#5df631"/><stop offset="0.5" stop-color="#61f738"/><stop offset="0.6" stop-color="#65f73e"/><stop offset="0.8" stop-color="#68f841"/><stop offset="0.9" stop-color="#68f843"/><stop offset="1" stop-color="#69f843"/></linearGradient>
<linearGradient id="r77"><stop offset="0" stop-color="#55f528"/><stop offset="0.1" stop-color="#56f628"/><stop offset="0.2" stop-color="#57f62a"/><stop offset="0.4" stop-color="#5bf62e"/><stop offset="0.5" stop-color="#5ff735"/><stop offset="0.6" stop-color="#63f73b"/><stop offset="0.8" stop-color="#66f73e"/><stop offset="0.9" stop-color="#66f740"/><stop offset="1" stop-color="#67f740"/></linearGradient>
<linearGradient id="r78"><stop offset="0" stop-color="#54f527"/><stop offset="0.1" stop-color="#55f528"/><stop offset="0.2" stop-color="#57f629"/><stop offset="0.4" stop-color="#59f62b"/><stop offset="0.5" stop-color="#5df732"/><stop offset="0.6" stop-color="#61f738"/><stop offset="0.8" stop-color="#64f73b"/><stop offset="0.9" stop-color="#64f73d"/><stop offset="1" stop-color="#65f73d"/></linearGradient>
<linearGradient id="r79"><stop offset="0" stop-color="#54f527"/><stop offset="0.1" stop-color="#55f527"/><stop offset="0.2" stop-color="#56f628"/><stop offset="0.4" stop-color="#58f62a"/><stop offset="0.5" stop-color="#5bf62f"/><stop offset="0.6" stop-color="#5ff735"/><stop offset="0.8" stop-color="#62f738"/><stop offset="0.9" stop-color="#62f73a"/><stop offset="1" stop-color="#63f73a"/></linearGradient>
<linearGradient id="r80"><stop offset="0" stop-color="#53f526"/><stop offset="0.1" stop-color="#54f527"/><stop offset="0.2" stop-color="#55f528"/><stop offset="0.4" stop-color="#57f629"/><stop offset="0.5" stop-color="#59f62c"/><stop offset="0.6" stop-color="#5df732"/><stop offset="0.8" stop-color="#60f735"/><stop offset="0.9" stop-color="#60f737"/><stop offset="1" stop-color="#61f737"/></linearGradient>
<linearGradient id="r81"><stop offset="0" stop-color="#52f526"/><stop offset="0.1" stop-color="#53f526"/><stop offset="0.2" stop-color="#55f527"/><stop offset="0.4" stop-color="#56f629"/><stop offset="0.5" stop-color="#58f62a"/><stop offset="0.6" stop-color="#5bf62f"/><stop offset="0.8" stop-color="#5ef732"/><stop offset="0.9" stop-color="#5ef734"/><stop offset="1" stop-color="#5ff734"/></linearGradient>
<linearGradient id="r82"><stop offset="0" stop-color="#52f525"/><stop offset="0.1" stop-color="#53f526"/><stop offset="0.2" stop-color="#54f527"/><stop offset="0.4" stop-color="#56f628"/><stop offset="0.5" stop-color="#57f629"/><stop offset="0.6" stop-color="#59f62c"/><stop offset="0.8" stop-color="#5cf62f"/><stop offset="0.9" stop-color="#5cf631"/><stop offset="1" stop-color="#5df631"/></linearGradient>
<linearGradient id="r83"><stop offset="0" stop-color="#51f524"/><stop offset="0.1" stop-color="#52f525"/><stop offset="0.2" stop-color="#53f526"/><stop offset="0.4" stop-color="#55f528"/><stop offset="0.5" stop-color="#56f629"/><stop offset="0.6" stop-color="#58f62a"/><stop offset="0.8" stop-color="#5af62c"/><stop offset="0.9" stop-color="#5af62e"/><stop offset="1" stop-color="#5bf62e"/></linearGradient>
<linearGradient id="r84"><stop offset="0" stop-color="#50f424"/><stop offset="0.1" stop-color="#51f525"/><stop offset="0.2" stop-color="#53f526"/><stop offset="0.4" stop-color="#54f527"/><stop offset="0.5" stop-color="#56f628"/><stop offset="0.6" stop-color="#57f629"/><stop offset="0.8" stop-color="#58f62a"/><stop offset="0.9" stop-color="#58f62b"/><stop offset="1" stop-color="#59f62b"/></linearGradient>
<linearGradient id="r85"><stop offset="0" stop-color="#50f423"/><stop offset="0.1" stop-color="#51f524"/><stop offset="0.2" stop-color="#52f525"/><stop offset="0.4" stop-color="#54f527"/><stop offset="0.5" stop-color="#55f528"/><stop offset="0.6" stop-color="#56f629"/><stop offset="0.8" stop-color="#57f629"/><stop offset="0.9" stop-color="#57f62a"/><stop offset="1" stop-color="#58f62a"/></linearGradient>
<linearGradient id="r86"><stop offset="0" stop-color="#4ff423"/><stop offset="0.1" stop-color="#50f424"/><stop offset="0.2" stop-color="#51f525"/><stop offset="0.4" stop-color="#53f526"/><stop offset="0.5" stop-color="#54f527"/><stop offset="0.6" stop-color="#56f628"/><stop offset="0.8" stop-color="#57f629"/><stop offset="0.9" stop-color="#57f629"/><stop offset="1" stop-color="#57f629"/></linearGradient>
<linearGradient id="r87"><stop offset="0" stop-color="#4ef422"/><stop offset="0.1" stop-color="#4ff423"/><stop offset="0.2" stop-color="#51f524"/><stop offset="0.4" stop-color="#52f525"/><stop offset="0.5" stop-color="#54f527"/><stop offset="0.6" stop-color="#55f528"/><stop offset="0.8" stop-color="#56f628"/><stop offset="0.9" stop-color="#56f629"/><stop offset="1" stop-color="#56f629"/></linearGradient>
<linearGradient id="r88"><stop offset="0" stop-color="#4ef422"/><stop offset="0.1" stop-color="#4ff422"/><stop offset="0.2" stop-color="#50f424"/><stop offset="0.4" stop-color="#52f525"/><stop offset="0.5" stop-color="#53f526"/><stop offset="0.6" stop-color="#54f527"/><stop offset="0.8" stop-color="#55f528"/><stop offset="0.9" stop-color="#55f528"/><stop offset="1" stop-color="#56f628"/></linearGradient>
<linearGradient id="r89"><stop offset="0" stop-color="#4ef422"/><stop offset="0.1" stop-color="#4ef422"/><stop offset="0.2" stop-color="#4ff423"/><stop offset="0.4" stop-color="#51f524"/><stop offset="0.5" stop-color="#52f526"/><stop offset="0.6" stop-color="#54f527"/><stop offset="0.8" stop-color="#55f527"/><stop offset="0.9" stop-color="#55f527"/><stop offset="1" stop-color="#55f528"/></linearGradient>
<linearGradient id="r90"><stop offset="0" stop-color="#4ef422"/><stop offset="0.1" stop-color="#4ef422"/><stop offset="0.2" stop-color="#4ff423"/><stop offset="0.4" stop-color="#50f424"/><stop offset="0.5" stop-color="#52f525"/><stop offset="0.6" stop-color="#53f526"/><stop offset="0.8" stop-color="#54f527"/><stop offset="0.9" stop-color="#54f527"/><stop offset="1" stop-color="#54f527"/></linearGradient>
<linearGradient id="r91"><stop offset="0" stop-color="#4ef422"/><stop offset="0.1" stop-color="#4ef422"/><stop offset="0.2" stop-color="#4ef422"/><stop offset="0.4" stop-color="#50f423"/><stop offset="0.5" stop-color="#51f525"/><stop offset="0.6" stop-color="#52f526"/><stop offset="0.8" stop-color="#53f526"/><stop offset="0.9" stop-color="#53f526"/><stop offset="1" stop-color="#54f527"/></linearGradient>
<linearGradient id="r92"><stop offset="0" stop-color="#4ef422"/><stop offset="0.1" stop-color="#4ef422"/><stop offset="0.2" stop-color="#4ef422"/><stop offset="0.4" stop-color="#4ff423"/><stop offset="0.5" stop-color="#50f424"/><stop offset="0.6" stop-color="#52f525"/><stop offset="0.8" stop-color="#53f526"/><stop offset="0.9" stop-color="#53f526"/><stop offset="1" stop-color="#53f526"/></linearGradient>
<g id="baseD" filter="url(#bl2)"><rect x="32.7" y="340" width="262.1" height="330" fill="#55ee35"/><rect x="62.7" y="380" width="202.1" height="6.7" fill="url(#r48)"/><rect x="62.7" y="386" width="202.1" height="6.7" fill="url(#r49)"/><rect x="62.7" y="392" width="202.1" height="6.7" fill="url(#r50)"/><rect x="62.7" y="398" width="202.1" height="6.7" fill="url(#r51)"/><rect x="62.7" y="404" width="202.1" height="6.7" fill="url(#r52)"/><rect x="62.7" y="410" width="202.1" height="6.7" fill="url(#r53)"/><rect x="62.7" y="416" width="202.1" height="6.7" fill="url(#r54)"/><rect x="62.7" y="422" width="202.1" height="6.7" fill="url(#r55)"/><rect x="62.7" y="428" width="202.1" height="6.7" fill="url(#r56)"/><rect x="62.7" y="434" width="202.1" height="6.7" fill="url(#r57)"/><rect x="62.7" y="440" width="202.1" height="6.7" fill="url(#r58)"/><rect x="62.7" y="446" width="202.1" height="6.7" fill="url(#r59)"/><rect x="62.7" y="452" width="202.1" height="6.7" fill="url(#r60)"/><rect x="62.7" y="458" width="202.1" height="6.7" fill="url(#r61)"/><rect x="62.7" y="464" width="202.1" height="6.7" fill="url(#r62)"/><rect x="62.7" y="470" width="202.1" height="6.7" fill="url(#r63)"/><rect x="62.7" y="476" width="202.1" height="6.7" fill="url(#r64)"/><rect x="62.7" y="482" width="202.1" height="6.7" fill="url(#r65)"/><rect x="62.7" y="488" width="202.1" height="6.7" fill="url(#r66)"/><rect x="62.7" y="494" width="202.1" height="6.7" fill="url(#r67)"/><rect x="62.7" y="500" width="202.1" height="6.7" fill="url(#r68)"/><rect x="62.7" y="506" width="202.1" height="6.7" fill="url(#r69)"/><rect x="62.7" y="512" width="202.1" height="6.7" fill="url(#r70)"/><rect x="62.7" y="518" width="202.1" height="6.7" fill="url(#r71)"/><rect x="62.7" y="524" width="202.1" height="6.7" fill="url(#r72)"/><rect x="62.7" y="530" width="202.1" height="6.7" fill="url(#r73)"/><rect x="62.7" y="536" width="202.1" height="6.7" fill="url(#r74)"/><rect x="62.7" y="542" width="202.1" height="6.7" fill="url(#r75)"/><rect x="62.7" y="548" width="202.1" height="6.7" fill="url(#r76)"/><rect x="62.7" y="554" width="202.1" height="6.7" fill="url(#r77)"/><rect x="62.7" y="560" width="202.1" height="6.7" fill="url(#r78)"/><rect x="62.7" y="566" width="202.1" height="6.7" fill="url(#r79)"/><rect x="62.7" y="572" width="202.1" height="6.7" fill="url(#r80)"/><rect x="62.7" y="578" width="202.1" height="6.7" fill="url(#r81)"/><rect x="62.7" y="584" width="202.1" height="6.7" fill="url(#r82)"/><rect x="62.7" y="590" width="202.1" height="6.7" fill="url(#r83)"/><rect x="62.7" y="596" width="202.1" height="6.7" fill="url(#r84)"/><rect x="62.7" y="602" width="202.1" height="6.7" fill="url(#r85)"/><rect x="62.7" y="608" width="202.1" height="6.7" fill="url(#r86)"/><rect x="62.7" y="614" width="202.1" height="6.7" fill="url(#r87)"/><rect x="62.7" y="620" width="202.1" height="6.7" fill="url(#r88)"/><rect x="62.7" y="626" width="202.1" height="6.7" fill="url(#r89)"/><rect x="62.7" y="632" width="202.1" height="6.7" fill="url(#r90)"/><rect x="62.7" y="638" width="202.1" height="6.7" fill="url(#r91)"/><rect x="62.7" y="644" width="202.1" height="6.7" fill="url(#r92)"/></g>
<filter id="gd1" filterUnits="userSpaceOnUse" x="-6" y="330" width="340" height="340" color-interpolation-filters="sRGB"><feTurbulence type="fractalNoise" baseFrequency="0.03 0.15" numOctaves="2" seed="9"/><feColorMatrix type="matrix" values="1 0 0 0 0 1 0 0 0 0 1 0 0 0 0 0 0 0 0 1"/><feComponentTransfer result="n"><feFuncR type="discrete" tableValues="0 0.1 0.22 0.32 0.4 0.46 0.54 0.6 0.68 0.78 0.9 1"/><feFuncG type="discrete" tableValues="0 0.1 0.22 0.32 0.4 0.46 0.54 0.6 0.68 0.78 0.9 1"/></feComponentTransfer><feDisplacementMap in="SourceGraphic" in2="n" scale="70" xChannelSelector="R" yChannelSelector="G"/></filter>
<filter id="gd2" filterUnits="userSpaceOnUse" x="-6" y="330" width="340" height="340" color-interpolation-filters="sRGB"><feTurbulence type="fractalNoise" baseFrequency="0.03 0.15" numOctaves="2" seed="9"/><feColorMatrix type="matrix" values="1 0 0 0 0 1 0 0 0 0 1 0 0 0 0 0 0 0 0 1"/><feComponentTransfer result="n"><feFuncR type="discrete" tableValues="0 0.1 0.22 0.32 0.4 0.46 0.54 0.6 0.68 0.78 0.9 1"/><feFuncG type="discrete" tableValues="0 0.1 0.22 0.32 0.4 0.46 0.54 0.6 0.68 0.78 0.9 1"/></feComponentTransfer><feDisplacementMap in="SourceGraphic" in2="n" scale="22" xChannelSelector="R" yChannelSelector="G"/></filter>
<linearGradient id="mg94" gradientUnits="userSpaceOnUse" x1="0" x2="0" y1="370" y2="630"><stop offset="0%" stop-color="#ffffff"/><stop offset="26.9%" stop-color="#ffffff"/><stop offset="39.2%" stop-color="#000000"/><stop offset="100%" stop-color="#000000"/></linearGradient>
<mask id="m93" maskUnits="userSpaceOnUse" x="92.7" y="370" width="142.1" height="260"><rect x="92.7" y="370" width="142.1" height="260" fill="url(#mg94)"/></mask>
<linearGradient id="mg96" gradientUnits="userSpaceOnUse" x1="0" x2="0" y1="370" y2="630"><stop offset="0%" stop-color="#ffffff"/><stop offset="38.5%" stop-color="#ffffff"/><stop offset="57.7%" stop-color="#000000"/><stop offset="100%" stop-color="#000000"/></linearGradient>
<mask id="m95" maskUnits="userSpaceOnUse" x="92.7" y="370" width="142.1" height="260"><rect x="92.7" y="370" width="142.1" height="260" fill="url(#mg96)"/></mask>
<clipPath id="cp97"><path d="M238.6 375L241.1 376.1L243.7 376.1L246.2 375.7L248.8 376.2L251.3 376.1L253.9 376.4L256.4 375.2L258.9 376.3L261.5 375L264 376.1L266.6 375.9L269.1 375.7L271.7 376.4L274.2 375.9L276.7 375.6L279.3 376.2L281.8 376.3L284.4 375.9L286.9 375.6L289.5 375.7L292 375.7L294.5 376.1L297.1 375.4L299.6 375.6L302.2 375.8L304.7 375.6L307.3 375.5L309.8 376.2L312.3 376.3L314.9 375.7L317.4 375.7L320 375.3L322.5 375.5L325.1 375.2L327.6 375.9L330.1 375.9L332.7 375.1L335.2 376.4L337.8 375.5L340.3 376.3L342.9 376.3L345.4 376.4L347.9 375.3L350.5 375.6L353 376.4L355.6 375L358.1 375.1L360.7 375.8L363.2 375.7L365.7 376.4L368.3 376.2L370.8 375.8L373.4 376.5L375.9 375.8L378.5 375.8L381 375L381 625.6L238.6 625.6Z"/></clipPath>
<linearGradient id="vg98" gradientUnits="userSpaceOnUse" x1="0" x2="0" y1="375" y2="626"><stop offset="0%" stop-color="#0a48c4"/><stop offset="13.1%" stop-color="#084cbe"/><stop offset="29.9%" stop-color="#0842c6"/><stop offset="41.8%" stop-color="#0c30d0"/><stop offset="65.7%" stop-color="#0f2cd8"/><stop offset="100%" stop-color="#102ada"/></linearGradient>
<filter id="kv4" x="0" y="0" width="100%" height="100%" color-interpolation-filters="sRGB"><feTurbulence type="turbulence" baseFrequency="0.05 0.21" numOctaves="2" seed="21"/><feColorMatrix type="matrix" values="1 0 0 0 0 1 0 0 0 0 1 0 0 0 0 1 0 0 0 0"/><feComponentTransfer><feFuncR type="table" tableValues="0.78 0.47 0.2 0.08 0.04 0.04 0.04 0.04 0.04 0.04 0.04 0.04 0.04 0.04 0.04 0.04 0.04 0.04 0.04 0.04 0.04 0.04 0.04 0.04 0.04 0.04"/><feFuncG type="table" tableValues="0.96 0.94 0.88 0.75 0.47 0.47 0.47 0.47 0.47 0.47 0.47 0.47 0.47 0.47 0.47 0.47 0.47 0.47 0.47 0.47 0.47 0.47 0.47 0.47 0.47 0.47"/><feFuncB type="table" tableValues="0.2 0.2 0.24 0.39 0.67 0.67 0.67 0.67 0.67 0.67 0.67 0.67 0.67 0.67 0.67 0.67 0.67 0.67 0.67 0.67 0.67 0.67 0.67 0.67 0.67 0.67"/><feFuncA type="table" tableValues="1 1 1 0.9 0.55 0.2 0 0 0 0 0 0 0 0 0 0 0 0 0 0 0 0 0 0 0 0"/></feComponentTransfer></filter>
<filter id="kv7" x="0" y="0" width="100%" height="100%" color-interpolation-filters="sRGB"><feTurbulence type="turbulence" baseFrequency="0.06 0.22" numOctaves="2" seed="37"/><feColorMatrix type="matrix" values="1 0 0 0 0 1 0 0 0 0 1 0 0 0 0 1 0 0 0 0"/><feComponentTransfer><feFuncR type="table" tableValues="0.78 0.47 0.2 0.08 0.04 0.04 0.04 0.04 0.04 0.04 0.04 0.04 0.04 0.04 0.04 0.04 0.04 0.04 0.04 0.04 0.04 0.04 0.04 0.04 0.04 0.04"/><feFuncG type="table" tableValues="0.96 0.94 0.88 0.75 0.47 0.47 0.47 0.47 0.47 0.47 0.47 0.47 0.47 0.47 0.47 0.47 0.47 0.47 0.47 0.47 0.47 0.47 0.47 0.47 0.47 0.47"/><feFuncB type="table" tableValues="0.2 0.2 0.24 0.39 0.67 0.67 0.67 0.67 0.67 0.67 0.67 0.67 0.67 0.67 0.67 0.67 0.67 0.67 0.67 0.67 0.67 0.67 0.67 0.67 0.67 0.67"/><feFuncA type="table" tableValues="1 1 1 0.9 0.55 0.2 0 0 0 0 0 0 0 0 0 0 0 0 0 0 0 0 0 0 0 0"/></feComponentTransfer></filter>
<filter id="kv5" x="0" y="0" width="100%" height="100%" color-interpolation-filters="sRGB"><feTurbulence type="turbulence" baseFrequency="0.09 0.26" numOctaves="2" seed="9"/><feColorMatrix type="matrix" values="1 0 0 0 0 1 0 0 0 0 1 0 0 0 0 1 0 0 0 0"/><feComponentTransfer><feFuncR type="table" tableValues="0.24 0.12 0.04 0.04 0.04 0.04 0.04 0.04 0.04 0.04 0.04 0.04 0.04 0.04 0.04 0.04 0.04 0.04 0.04 0.04 0.04 0.04 0.04 0.04 0.04 0.04"/><feFuncG type="table" tableValues="0.88 0.78 0.59 0.43 0.43 0.43 0.43 0.43 0.43 0.43 0.43 0.43 0.43 0.43 0.43 0.43 0.43 0.43 0.43 0.43 0.43 0.43 0.43 0.43 0.43 0.43"/><feFuncB type="table" tableValues="0.24 0.35 0.55 0.71 0.71 0.71 0.71 0.71 0.71 0.71 0.71 0.71 0.71 0.71 0.71 0.71 0.71 0.71 0.71 0.71 0.71 0.71 0.71 0.71 0.71 0.71"/><feFuncA type="table" tableValues="1 1 0.7 0.3 0 0 0 0 0 0 0 0 0 0 0 0 0 0 0 0 0 0 0 0 0 0"/></feComponentTransfer></filter>
<linearGradient id="mg100" gradientUnits="userSpaceOnUse" x1="0" x2="0" y1="370" y2="630"><stop offset="0%" stop-color="#cccccc"/><stop offset="13.1%" stop-color="#cccccc"/><stop offset="15%" stop-color="#000000"/><stop offset="100%" stop-color="#000000"/></linearGradient>
<mask id="m99" maskUnits="userSpaceOnUse" x="238.6" y="370" width="142.4" height="260"><rect x="238.6" y="370" width="142.4" height="260" fill="url(#mg100)"/></mask>
<linearGradient id="mg102" gradientUnits="userSpaceOnUse" x1="0" x2="0" y1="370" y2="630"><stop offset="0%" stop-color="#000000"/><stop offset="13.5%" stop-color="#000000"/><stop offset="15.4%" stop-color="#ffffff"/><stop offset="26.9%" stop-color="#ffffff"/><stop offset="31.5%" stop-color="#808080"/><stop offset="35.4%" stop-color="#8c8c8c"/><stop offset="37.3%" stop-color="#f2f2f2"/><stop offset="40%" stop-color="#f2f2f2"/><stop offset="42.3%" stop-color="#666666"/><stop offset="50%" stop-color="#474747"/><stop offset="61.5%" stop-color="#1f1f1f"/><stop offset="100%" stop-color="#080808"/></linearGradient>
<mask id="m101" maskUnits="userSpaceOnUse" x="238.6" y="370" width="142.4" height="260"><rect x="238.6" y="370" width="142.4" height="260" fill="url(#mg102)"/></mask>
<linearGradient id="mg104" gradientUnits="userSpaceOnUse" x1="0" x2="0" y1="370" y2="630"><stop offset="0%" stop-color="#e6e6e6"/><stop offset="38.5%" stop-color="#d9d9d9"/><stop offset="57.7%" stop-color="#999999"/><stop offset="80.8%" stop-color="#666666"/><stop offset="100%" stop-color="#4c4c4c"/></linearGradient>
<mask id="m103" maskUnits="userSpaceOnUse" x="238.6" y="370" width="142.4" height="260"><rect x="238.6" y="370" width="142.4" height="260" fill="url(#mg104)"/></mask>
<clipPath id="cp105"><path d="M386 375L527.8 375L527.8 625.6L386 625.6Z"/></clipPath>
<linearGradient id="vg106" gradientUnits="userSpaceOnUse" x1="0" x2="0" y1="375" y2="626"><stop offset="0%" stop-color="#003c3e"/><stop offset="3.2%" stop-color="#007678"/><stop offset="13.9%" stop-color="#008486"/><stop offset="25.9%" stop-color="#02969a"/><stop offset="33.1%" stop-color="#02a8ae"/><stop offset="39.4%" stop-color="#00ced6"/><stop offset="47.8%" stop-color="#00e8ee"/><stop offset="65.7%" stop-color="#24f2f8"/><stop offset="100%" stop-color="#54f7fc"/></linearGradient>
<filter id="fl1" x="0" y="0" width="100%" height="100%" color-interpolation-filters="sRGB"><feTurbulence type="fractalNoise" baseFrequency="0.014 0.075" numOctaves="2" seed="14"/><feColorMatrix type="matrix" values="0 0 0 0 0.016 0 0 0 0 0.024 0 0 0 0 0.024 1 0 0 0 0"/><feComponentTransfer result="T"><feFuncA type="discrete" tableValues="0 0 1 1 0 0 1 1 0 0 1 1 0 0 1 1"/></feComponentTransfer><feMorphology in="T" operator="dilate" radius="1" result="D"/><feComposite in="D" in2="T" operator="out"/><feComposite in2="SourceGraphic" operator="in" result="v"/><feTurbulence type="fractalNoise" baseFrequency="0.02 0.05" numOctaves="2" seed="5"/><feColorMatrix type="matrix" values="0 0 0 0 0 0 0 0 0 0 0 0 0 0 0 1 0 0 0 0"/><feComponentTransfer result="p"><feFuncA type="table" tableValues="0.6 0.6 0.6 0.66 0.8 0.94 1 1 1 1"/></feComponentTransfer><feComposite in="v" in2="p" operator="in"/><feComponentTransfer><feFuncA type="table" tableValues="0 0 0 0 0 0.7 1 1 1 1 1"/></feComponentTransfer></filter>
<filter id="fl4" x="0" y="0" width="100%" height="100%" color-interpolation-filters="sRGB"><feTurbulence type="fractalNoise" baseFrequency="0.05 0.15" numOctaves="2" seed="33"/><feColorMatrix type="matrix" values="0 0 0 0 0.016 0 0 0 0 0.024 0 0 0 0 0.024 1 0 0 0 0"/><feComponentTransfer result="T"><feFuncA type="discrete" tableValues="0 0 1 1 0 0 1 1 0 0 1 1 0 0 1 1"/></feComponentTransfer><feMorphology in="T" operator="dilate" radius="1" result="D"/><feComposite in="D" in2="T" operator="out"/><feComposite in2="SourceGraphic" operator="in" result="v"/><feTurbulence type="fractalNoise" baseFrequency="0.025 0.06" numOctaves="2" seed="15"/><feColorMatrix type="matrix" values="0 0 0 0 0 0 0 0 0 0 0 0 0 0 0 1 0 0 0 0"/><feComponentTransfer result="p"><feFuncA type="table" tableValues="0.45 0.45 0.45 0.53 0.73 0.92 1 1 1 1"/></feComponentTransfer><feComposite in="v" in2="p" operator="in"/><feComponentTransfer><feFuncA type="table" tableValues="0 0 0 0 0 0.7 1 1 1 1 1"/></feComponentTransfer></filter>
<filter id="fl2" x="0" y="0" width="100%" height="100%" color-interpolation-filters="sRGB"><feTurbulence type="fractalNoise" baseFrequency="0.05 0.16" numOctaves="2" seed="23"/><feColorMatrix type="matrix" values="0 0 0 0 0.745 0 0 0 0 0.243 0 0 0 0 0.204 1 0 0 0 0"/><feComponentTransfer result="T"><feFuncA type="discrete" tableValues="0 0 1 1 0 0 1 1 0 0 1 1 0 0 1 1"/></feComponentTransfer><feMorphology in="T" operator="dilate" radius="1" result="D"/><feComposite in="D" in2="T" operator="out"/><feComposite in2="SourceGraphic" operator="in" result="v"/><feTurbulence type="fractalNoise" baseFrequency="0.05 0.1" numOctaves="2" seed="9"/><feColorMatrix type="matrix" values="0 0 0 0 0 0 0 0 0 0 0 0 0 0 0 1 0 0 0 0"/><feComponentTransfer result="p"><feFuncA type="table" tableValues="0.2 0.2 0.2 0.32 0.6 0.88 1 1 1 1"/></feComponentTransfer><feComposite in="v" in2="p" operator="in"/><feComponentTransfer><feFuncA type="table" tableValues="0 0 0 0 0 0.7 1 1 1 1 1"/></feComponentTransfer></filter>
<filter id="fl3" x="0" y="0" width="100%" height="100%" color-interpolation-filters="sRGB"><feTurbulence type="turbulence" baseFrequency="0.09 0.2" numOctaves="2" seed="41"/><feColorMatrix type="matrix" values="0 0 0 0 0.941 0 0 0 0 0.965 0 0 0 0 0.965 1 0 0 0 0"/><feComponentTransfer><feFuncA type="table" tableValues="1 0.8 0.6 0.4 0.2 0 0 0 0 0 0 0 0 0 0 0 0 0 0 0 0 0 0 0 0 0"/></feComponentTransfer><feComposite in2="SourceGraphic" operator="in" result="v"/><feTurbulence type="fractalNoise" baseFrequency="0.03 0.06" numOctaves="2" seed="19"/><feColorMatrix type="matrix" values="0 0 0 0 0 0 0 0 0 0 0 0 0 0 0 1 0 0 0 0"/><feComponentTransfer result="p"><feFuncA type="table" tableValues="0.4 0.4 0.4 0.49 0.7 0.91 1 1 1 1"/></feComponentTransfer><feComposite in="v" in2="p" operator="in"/><feComponentTransfer><feFuncA type="table" tableValues="0 0 0 0 0 0.6 1 1 1 1 1"/></feComponentTransfer></filter>
<linearGradient id="dg107" gradientUnits="userSpaceOnUse" x1="457" x2="457" y1="370" y2="630" gradientTransform="rotate(-18 457 500)"><stop offset="0%" stop-color="#000" stop-opacity="1.00"/><stop offset="26.9%" stop-color="#000" stop-opacity="0.95"/><stop offset="31.5%" stop-color="#000" stop-opacity="0.80"/><stop offset="36.2%" stop-color="#000" stop-opacity="0.66"/><stop offset="40.8%" stop-color="#000" stop-opacity="0.54"/><stop offset="48.1%" stop-color="#000" stop-opacity="0.46"/><stop offset="61.5%" stop-color="#000" stop-opacity="0.40"/><stop offset="100%" stop-color="#000" stop-opacity="0.34"/></linearGradient>
<linearGradient id="dg108" gradientUnits="userSpaceOnUse" x1="457" x2="457" y1="370" y2="630" gradientTransform="rotate(-18 457 500)"><stop offset="0%" stop-color="#000" stop-opacity="1.00"/><stop offset="6.2%" stop-color="#000" stop-opacity="1.00"/><stop offset="9.2%" stop-color="#000" stop-opacity="0.62"/><stop offset="14.6%" stop-color="#000" stop-opacity="0.62"/><stop offset="16.9%" stop-color="#000" stop-opacity="0.74"/><stop offset="26.9%" stop-color="#000" stop-opacity="0.74"/><stop offset="31.5%" stop-color="#000" stop-opacity="0.60"/><stop offset="36.9%" stop-color="#000" stop-opacity="0.50"/><stop offset="50%" stop-color="#000" stop-opacity="0.40"/><stop offset="100%" stop-color="#000" stop-opacity="0.34"/></linearGradient>
<linearGradient id="dg109" gradientUnits="userSpaceOnUse" x1="457" x2="457" y1="370" y2="630" gradientTransform="rotate(-18 457 500)"><stop offset="0%" stop-color="#000" stop-opacity="0.56"/><stop offset="13.1%" stop-color="#000" stop-opacity="0.56"/><stop offset="16.2%" stop-color="#000" stop-opacity="0.66"/><stop offset="26.9%" stop-color="#000" stop-opacity="0.68"/><stop offset="36.9%" stop-color="#000" stop-opacity="0.66"/><stop offset="40.8%" stop-color="#000" stop-opacity="0.54"/><stop offset="45.4%" stop-color="#000" stop-opacity="0.44"/><stop offset="100%" stop-color="#000" stop-opacity="0.34"/></linearGradient>
<linearGradient id="dg110" gradientUnits="userSpaceOnUse" x1="457" x2="457" y1="370" y2="630" gradientTransform="rotate(-18 457 500)"><stop offset="0%" stop-color="#000" stop-opacity="0.95"/><stop offset="26.9%" stop-color="#000" stop-opacity="0.92"/><stop offset="32.7%" stop-color="#000" stop-opacity="0.60"/><stop offset="100%" stop-color="#000" stop-opacity="0.30"/></linearGradient>
<clipPath id="kc111"><path d="M178.3 300.1L219.8 300.1A141.7 141.7 0 0 0 213.5 264.9Z"/></clipPath>
<clipPath id="kc112"><path d="M178.8 614.4L220.2 614.4A141.3 141.3 0 0 0 214.7 579.7Z"/></clipPath>
<linearGradient id="cb2" x1="0" x2="1" y1="0" y2="0"><stop offset="0%" stop-color="#1028be"/><stop offset="12%" stop-color="#006496"/><stop offset="25%" stop-color="#00be28"/><stop offset="40%" stop-color="#28e60a"/><stop offset="55%" stop-color="#aaf000"/><stop offset="68%" stop-color="#faf000"/><stop offset="80%" stop-color="#ffaa00"/><stop offset="92%" stop-color="#ff5000"/><stop offset="100%" stop-color="#f02814"/></linearGradient>
<clipPath id="pc113"><circle cx="616.2" cy="108.2" r="50.6"/></clipPath>
<radialGradient id="b3_0"><stop offset="0%" stop-color="#007a8c" stop-opacity="1.00"/><stop offset="7.1%" stop-color="#00778f" stop-opacity="0.98"/><stop offset="14.3%" stop-color="#006f99" stop-opacity="0.91"/><stop offset="21.4%" stop-color="#0062a6" stop-opacity="0.81"/><stop offset="28.6%" stop-color="#0051b5" stop-opacity="0.69"/><stop offset="35.7%" stop-color="#003fc4" stop-opacity="0.56"/><stop offset="42.9%" stop-color="#002dd3" stop-opacity="0.44"/><stop offset="50%" stop-color="#0021dd" stop-opacity="0.32"/><stop offset="57.1%" stop-color="#0019e4" stop-opacity="0.23"/><stop offset="64.3%" stop-color="#0012ea" stop-opacity="0.16"/><stop offset="71.4%" stop-color="#000dee" stop-opacity="0.10"/><stop offset="78.6%" stop-color="#000af1" stop-opacity="0.06"/><stop offset="85.7%" stop-color="#0007f3" stop-opacity="0.04"/><stop offset="92.9%" stop-color="#0006f4" stop-opacity="0.02"/><stop offset="100%" stop-color="#0005f5" stop-opacity="0.00"/></radialGradient>
<radialGradient id="b2_0"><stop offset="0%" stop-color="#004db8" stop-opacity="0.67"/><stop offset="7.1%" stop-color="#004bb9" stop-opacity="0.65"/><stop offset="14.3%" stop-color="#0045be" stop-opacity="0.61"/><stop offset="21.4%" stop-color="#003cc6" stop-opacity="0.54"/><stop offset="28.6%" stop-color="#0031d0" stop-opacity="0.46"/><stop offset="35.7%" stop-color="#0026d9" stop-opacity="0.38"/><stop offset="42.9%" stop-color="#001edf" stop-opacity="0.29"/><stop offset="50%" stop-color="#0017e5" stop-opacity="0.22"/><stop offset="57.1%" stop-color="#0012ea" stop-opacity="0.15"/><stop offset="64.3%" stop-color="#000dee" stop-opacity="0.10"/><stop offset="71.4%" stop-color="#000af1" stop-opacity="0.07"/><stop offset="78.6%" stop-color="#0008f3" stop-opacity="0.04"/><stop offset="85.7%" stop-color="#0006f4" stop-opacity="0.02"/><stop offset="92.9%" stop-color="#0005f5" stop-opacity="0.01"/><stop offset="100%" stop-color="#0005f5" stop-opacity="0.00"/></radialGradient>
<radialGradient id="b4_0"><stop offset="0%" stop-color="#00a55a" stop-opacity="1.00"/><stop offset="7.1%" stop-color="#00a15f" stop-opacity="1.00"/><stop offset="14.3%" stop-color="#00966c" stop-opacity="1.00"/><stop offset="21.4%" stop-color="#00857f" stop-opacity="1.00"/><stop offset="28.6%" stop-color="#007097" stop-opacity="0.92"/><stop offset="35.7%" stop-color="#0059ae" stop-opacity="0.75"/><stop offset="42.9%" stop-color="#0042c1" stop-opacity="0.58"/><stop offset="50%" stop-color="#002dd3" stop-opacity="0.43"/><stop offset="57.1%" stop-color="#0020de" stop-opacity="0.31"/><stop offset="64.3%" stop-color="#0017e6" stop-opacity="0.21"/><stop offset="71.4%" stop-color="#0010ec" stop-opacity="0.13"/><stop offset="78.6%" stop-color="#000bf0" stop-opacity="0.08"/><stop offset="85.7%" stop-color="#0008f2" stop-opacity="0.05"/><stop offset="92.9%" stop-color="#0006f4" stop-opacity="0.03"/><stop offset="100%" stop-color="#0005f5" stop-opacity="0.00"/></radialGradient>
<radialGradient id="b7_0"><stop offset="0%" stop-color="#2de61c" stop-opacity="1.00"/><stop offset="7.1%" stop-color="#29e41e" stop-opacity="1.00"/><stop offset="14.3%" stop-color="#1edf21" stop-opacity="1.00"/><stop offset="21.4%" stop-color="#0cd827" stop-opacity="1.00"/><stop offset="28.6%" stop-color="#05bf40" stop-opacity="1.00"/><stop offset="35.7%" stop-color="#00a35d" stop-opacity="1.00"/><stop offset="42.9%" stop-color="#007d89" stop-opacity="1.00"/><stop offset="50%" stop-color="#005aad" stop-opacity="0.76"/><stop offset="57.1%" stop-color="#003bc7" stop-opacity="0.54"/><stop offset="64.3%" stop-color="#0025da" stop-opacity="0.36"/><stop offset="71.4%" stop-color="#0019e4" stop-opacity="0.23"/><stop offset="78.6%" stop-color="#0011eb" stop-opacity="0.15"/><stop offset="85.7%" stop-color="#000cef" stop-opacity="0.09"/><stop offset="92.9%" stop-color="#0008f2" stop-opacity="0.05"/><stop offset="100%" stop-color="#0006f4" stop-opacity="0.00"/></radialGradient>
<radialGradient id="b12_0"><stop offset="0%" stop-color="#d2f303" stop-opacity="1.00"/><stop offset="7.1%" stop-color="#c9f404" stop-opacity="1.00"/><stop offset="14.3%" stop-color="#b1f608" stop-opacity="1.00"/><stop offset="21.4%" stop-color="#88f60d" stop-opacity="1.00"/><stop offset="28.6%" stop-color="#52f113" stop-opacity="1.00"/><stop offset="35.7%" stop-color="#27e31e" stop-opacity="1.00"/><stop offset="42.9%" stop-color="#08cc33" stop-opacity="1.00"/><stop offset="50%" stop-color="#00a15f" stop-opacity="1.00"/><stop offset="57.1%" stop-color="#007098" stop-opacity="0.92"/><stop offset="64.3%" stop-color="#0047bd" stop-opacity="0.62"/><stop offset="71.4%" stop-color="#0028d7" stop-opacity="0.40"/><stop offset="78.6%" stop-color="#001ae3" stop-opacity="0.25"/><stop offset="85.7%" stop-color="#0011eb" stop-opacity="0.15"/><stop offset="92.9%" stop-color="#000bf0" stop-opacity="0.08"/><stop offset="100%" stop-color="#0008f3" stop-opacity="0.00"/></radialGradient>
<radialGradient id="b14_0"><stop offset="0%" stop-color="#f5d700" stop-opacity="1.00"/><stop offset="7.1%" stop-color="#f2de00" stop-opacity="1.00"/><stop offset="14.3%" stop-color="#eaf000" stop-opacity="1.00"/><stop offset="21.4%" stop-color="#bff506" stop-opacity="1.00"/><stop offset="28.6%" stop-color="#86f60d" stop-opacity="1.00"/><stop offset="35.7%" stop-color="#43ef15" stop-opacity="1.00"/><stop offset="42.9%" stop-color="#17dc24" stop-opacity="1.00"/><stop offset="50%" stop-color="#03b649" stop-opacity="1.00"/><stop offset="57.1%" stop-color="#008481" stop-opacity="1.00"/><stop offset="64.3%" stop-color="#0056b0" stop-opacity="0.73"/><stop offset="71.4%" stop-color="#0032cf" stop-opacity="0.47"/><stop offset="78.6%" stop-color="#001ee0" stop-opacity="0.29"/><stop offset="85.7%" stop-color="#0013e9" stop-opacity="0.17"/><stop offset="92.9%" stop-color="#000def" stop-opacity="0.10"/><stop offset="100%" stop-color="#0009f2" stop-opacity="0.00"/></radialGradient>
<radialGradient id="b18_0"><stop offset="0%" stop-color="#fc6102" stop-opacity="1.00"/><stop offset="7.1%" stop-color="#ff6e00" stop-opacity="1.00"/><stop offset="14.3%" stop-color="#ff9500" stop-opacity="1.00"/><stop offset="21.4%" stop-color="#faca00" stop-opacity="1.00"/><stop offset="28.6%" stop-color="#e1f101" stop-opacity="1.00"/><stop offset="35.7%" stop-color="#96f70b" stop-opacity="1.00"/><stop offset="42.9%" stop-color="#43ef15" stop-opacity="1.00"/><stop offset="50%" stop-color="#10da26" stop-opacity="1.00"/><stop offset="57.1%" stop-color="#01a956" stop-opacity="1.00"/><stop offset="64.3%" stop-color="#007296" stop-opacity="0.93"/><stop offset="71.4%" stop-color="#0044bf" stop-opacity="0.60"/><stop offset="78.6%" stop-color="#0026d9" stop-opacity="0.37"/><stop offset="85.7%" stop-color="#0018e5" stop-opacity="0.22"/><stop offset="92.9%" stop-color="#000fec" stop-opacity="0.12"/><stop offset="100%" stop-color="#000af1" stop-opacity="0.00"/></radialGradient>
<clipPath id="tc114"><path d="M692.1 53.9L692.1 154.7A344.2 344.2 0 0 0 777.6 139.1Z"/></clipPath>
<radialGradient id="b10_14"><stop offset="0%" stop-color="#91f70c" stop-opacity="1.00"/><stop offset="7.1%" stop-color="#8df60c" stop-opacity="1.00"/><stop offset="14.3%" stop-color="#83f50d" stop-opacity="1.00"/><stop offset="21.4%" stop-color="#72f40f" stop-opacity="1.00"/><stop offset="28.6%" stop-color="#5ef211" stop-opacity="1.00"/><stop offset="35.7%" stop-color="#49f014" stop-opacity="1.00"/><stop offset="42.9%" stop-color="#3aeb18" stop-opacity="1.00"/><stop offset="50%" stop-color="#2ee61c" stop-opacity="1.00"/><stop offset="57.1%" stop-color="#23e220" stop-opacity="1.00"/><stop offset="64.3%" stop-color="#1bde22" stop-opacity="1.00"/><stop offset="71.4%" stop-color="#15dc24" stop-opacity="0.84"/><stop offset="78.6%" stop-color="#11da26" stop-opacity="0.52"/><stop offset="85.7%" stop-color="#0ed927" stop-opacity="0.31"/><stop offset="92.9%" stop-color="#0cd827" stop-opacity="0.17"/><stop offset="100%" stop-color="#0bd828" stop-opacity="0.00"/></radialGradient>
<radialGradient id="b1_13"><stop offset="0%" stop-color="#0022dc" stop-opacity="1.00"/><stop offset="7.1%" stop-color="#0025da" stop-opacity="1.00"/><stop offset="14.3%" stop-color="#0030d0" stop-opacity="1.00"/><stop offset="21.4%" stop-color="#0043c0" stop-opacity="1.00"/><stop offset="28.6%" stop-color="#005bac" stop-opacity="1.00"/><stop offset="35.7%" stop-color="#007394" stop-opacity="1.00"/><stop offset="42.9%" stop-color="#008a7a" stop-opacity="1.00"/><stop offset="50%" stop-color="#009e62" stop-opacity="1.00"/><stop offset="57.1%" stop-color="#01ac53" stop-opacity="1.00"/><stop offset="64.3%" stop-color="#03b649" stop-opacity="1.00"/><stop offset="71.4%" stop-color="#05bd42" stop-opacity="0.84"/><stop offset="78.6%" stop-color="#06c23d" stop-opacity="0.52"/><stop offset="85.7%" stop-color="#07c639" stop-opacity="0.31"/><stop offset="92.9%" stop-color="#07c837" stop-opacity="0.17"/><stop offset="100%" stop-color="#07c936" stop-opacity="0.00"/></radialGradient>
<radialGradient id="b19_23"><stop offset="0%" stop-color="#f33f06" stop-opacity="1.00"/><stop offset="7.1%" stop-color="#f54705" stop-opacity="1.00"/><stop offset="14.3%" stop-color="#fa5c02" stop-opacity="1.00"/><stop offset="21.4%" stop-color="#ff7c00" stop-opacity="1.00"/><stop offset="28.6%" stop-color="#ffa400" stop-opacity="1.00"/><stop offset="35.7%" stop-color="#fbc800" stop-opacity="1.00"/><stop offset="42.9%" stop-color="#f1e200" stop-opacity="1.00"/><stop offset="50%" stop-color="#def102" stop-opacity="1.00"/><stop offset="57.1%" stop-color="#c1f406" stop-opacity="1.00"/><stop offset="64.3%" stop-color="#aaf709" stop-opacity="1.00"/><stop offset="71.4%" stop-color="#98f70b" stop-opacity="0.84"/><stop offset="78.6%" stop-color="#8af60c" stop-opacity="0.52"/><stop offset="85.7%" stop-color="#80f50e" stop-opacity="0.31"/><stop offset="92.9%" stop-color="#7bf50e" stop-opacity="0.17"/><stop offset="100%" stop-color="#77f40f" stop-opacity="0.00"/></radialGradient>
<clipPath id="pc115"><circle cx="615.6" cy="259.5" r="49.2"/></clipPath>
<radialGradient id="b5_0"><stop offset="0%" stop-color="#06c43b" stop-opacity="1.00"/><stop offset="7.1%" stop-color="#06c13e" stop-opacity="1.00"/><stop offset="14.3%" stop-color="#04b748" stop-opacity="1.00"/><stop offset="21.4%" stop-color="#00a758" stop-opacity="1.00"/><stop offset="28.6%" stop-color="#008e75" stop-opacity="1.00"/><stop offset="35.7%" stop-color="#007295" stop-opacity="0.94"/><stop offset="42.9%" stop-color="#0056b0" stop-opacity="0.73"/><stop offset="50%" stop-color="#003cc6" stop-opacity="0.54"/><stop offset="57.1%" stop-color="#0027d8" stop-opacity="0.38"/><stop offset="64.3%" stop-color="#001be2" stop-opacity="0.26"/><stop offset="71.4%" stop-color="#0013e9" stop-opacity="0.17"/><stop offset="78.6%" stop-color="#000dee" stop-opacity="0.10"/><stop offset="85.7%" stop-color="#0009f1" stop-opacity="0.06"/><stop offset="92.9%" stop-color="#0007f3" stop-opacity="0.03"/><stop offset="100%" stop-color="#0006f5" stop-opacity="0.00"/></radialGradient>
<radialGradient id="b6_0"><stop offset="0%" stop-color="#14db25" stop-opacity="1.00"/><stop offset="7.1%" stop-color="#11da26" stop-opacity="1.00"/><stop offset="14.3%" stop-color="#09d32c" stop-opacity="1.00"/><stop offset="21.4%" stop-color="#05c03f" stop-opacity="1.00"/><stop offset="28.6%" stop-color="#01aa55" stop-opacity="1.00"/><stop offset="35.7%" stop-color="#008a79" stop-opacity="1.00"/><stop offset="42.9%" stop-color="#006a9f" stop-opacity="0.88"/><stop offset="50%" stop-color="#004bba" stop-opacity="0.65"/><stop offset="57.1%" stop-color="#0030d0" stop-opacity="0.46"/><stop offset="64.3%" stop-color="#0020de" stop-opacity="0.31"/><stop offset="71.4%" stop-color="#0016e6" stop-opacity="0.20"/><stop offset="78.6%" stop-color="#000fec" stop-opacity="0.12"/><stop offset="85.7%" stop-color="#000bf0" stop-opacity="0.07"/><stop offset="92.9%" stop-color="#0008f3" stop-opacity="0.04"/><stop offset="100%" stop-color="#0006f4" stop-opacity="0.00"/></radialGradient>
<radialGradient id="b19_0"><stop offset="0%" stop-color="#f33f06" stop-opacity="1.00"/><stop offset="7.1%" stop-color="#f74e04" stop-opacity="1.00"/><stop offset="14.3%" stop-color="#ff7700" stop-opacity="1.00"/><stop offset="21.4%" stop-color="#ffb600" stop-opacity="1.00"/><stop offset="28.6%" stop-color="#eee900" stop-opacity="1.00"/><stop offset="35.7%" stop-color="#a9f709" stop-opacity="1.00"/><stop offset="42.9%" stop-color="#52f113" stop-opacity="1.00"/><stop offset="50%" stop-color="#18dd23" stop-opacity="1.00"/><stop offset="57.1%" stop-color="#02b14e" stop-opacity="1.00"/><stop offset="64.3%" stop-color="#00788e" stop-opacity="0.99"/><stop offset="71.4%" stop-color="#0049bb" stop-opacity="0.64"/><stop offset="78.6%" stop-color="#0027d7" stop-opacity="0.39"/><stop offset="85.7%" stop-color="#0019e4" stop-opacity="0.23"/><stop offset="92.9%" stop-color="#0010ec" stop-opacity="0.13"/><stop offset="100%" stop-color="#000af1" stop-opacity="0.00"/></radialGradient>
<radialGradient id="b20_0"><stop offset="0%" stop-color="#eb1e0a" stop-opacity="1.00"/><stop offset="7.1%" stop-color="#ef2d08" stop-opacity="1.00"/><stop offset="14.3%" stop-color="#fa5803" stop-opacity="1.00"/><stop offset="21.4%" stop-color="#ff9a00" stop-opacity="1.00"/><stop offset="28.6%" stop-color="#f4da00" stop-opacity="1.00"/><stop offset="35.7%" stop-color="#bbf506" stop-opacity="1.00"/><stop offset="42.9%" stop-color="#62f311" stop-opacity="1.00"/><stop offset="50%" stop-color="#20e021" stop-opacity="1.00"/><stop offset="57.1%" stop-color="#04b847" stop-opacity="1.00"/><stop offset="64.3%" stop-color="#007f86" stop-opacity="1.00"/><stop offset="71.4%" stop-color="#004eb7" stop-opacity="0.67"/><stop offset="78.6%" stop-color="#002ad5" stop-opacity="0.41"/><stop offset="85.7%" stop-color="#001ae3" stop-opacity="0.24"/><stop offset="92.9%" stop-color="#0010eb" stop-opacity="0.14"/><stop offset="100%" stop-color="#000bf0" stop-opacity="0.00"/></radialGradient>
<clipPath id="tc116"><path d="M695.8 203.3L695.8 301.9A336.6 336.6 0 0 0 779.6 287.2Z"/></clipPath>
<radialGradient id="b16_23"><stop offset="0%" stop-color="#ffa300" stop-opacity="1.00"/><stop offset="7.1%" stop-color="#ffa800" stop-opacity="1.00"/><stop offset="14.3%" stop-color="#ffb700" stop-opacity="1.00"/><stop offset="21.4%" stop-color="#fbc800" stop-opacity="1.00"/><stop offset="28.6%" stop-color="#f4d900" stop-opacity="1.00"/><stop offset="35.7%" stop-color="#edeb00" stop-opacity="1.00"/><stop offset="42.9%" stop-color="#d7f203" stop-opacity="1.00"/><stop offset="50%" stop-color="#bff506" stop-opacity="1.00"/><stop offset="57.1%" stop-color="#abf708" stop-opacity="1.00"/><stop offset="64.3%" stop-color="#9bf80b" stop-opacity="1.00"/><stop offset="71.4%" stop-color="#8df60c" stop-opacity="0.84"/><stop offset="78.6%" stop-color="#83f50d" stop-opacity="0.52"/><stop offset="85.7%" stop-color="#7cf50e" stop-opacity="0.31"/><stop offset="92.9%" stop-color="#78f40e" stop-opacity="0.17"/><stop offset="100%" stop-color="#76f40f" stop-opacity="0.00"/></radialGradient>
<clipPath id="pc117"><circle cx="616.5" cy="404.2" r="49.3"/></clipPath>
<radialGradient id="b13_0"><stop offset="0%" stop-color="#edec00" stop-opacity="1.00"/><stop offset="7.1%" stop-color="#e8f000" stop-opacity="1.00"/><stop offset="14.3%" stop-color="#cef304" stop-opacity="1.00"/><stop offset="21.4%" stop-color="#a5f709" stop-opacity="1.00"/><stop offset="28.6%" stop-color="#6cf310" stop-opacity="1.00"/><stop offset="35.7%" stop-color="#35e91a" stop-opacity="1.00"/><stop offset="42.9%" stop-color="#0cd827" stop-opacity="1.00"/><stop offset="50%" stop-color="#01ac53" stop-opacity="1.00"/><stop offset="57.1%" stop-color="#007a8c" stop-opacity="1.00"/><stop offset="64.3%" stop-color="#004eb7" stop-opacity="0.67"/><stop offset="71.4%" stop-color="#002dd3" stop-opacity="0.44"/><stop offset="78.6%" stop-color="#001ce1" stop-opacity="0.27"/><stop offset="85.7%" stop-color="#0012ea" stop-opacity="0.16"/><stop offset="92.9%" stop-color="#000cef" stop-opacity="0.09"/><stop offset="100%" stop-color="#0008f2" stop-opacity="0.00"/></radialGradient>
<radialGradient id="b9_0"><stop offset="0%" stop-color="#6cf310" stop-opacity="1.00"/><stop offset="7.1%" stop-color="#64f311" stop-opacity="1.00"/><stop offset="14.3%" stop-color="#4ef113" stop-opacity="1.00"/><stop offset="21.4%" stop-color="#35e91a" stop-opacity="1.00"/><stop offset="28.6%" stop-color="#1ade23" stop-opacity="1.00"/><stop offset="35.7%" stop-color="#07c639" stop-opacity="1.00"/><stop offset="42.9%" stop-color="#00a25d" stop-opacity="1.00"/><stop offset="50%" stop-color="#007790" stop-opacity="0.97"/><stop offset="57.1%" stop-color="#0050b5" stop-opacity="0.69"/><stop offset="64.3%" stop-color="#0031cf" stop-opacity="0.47"/><stop offset="71.4%" stop-color="#001fdf" stop-opacity="0.30"/><stop offset="78.6%" stop-color="#0015e8" stop-opacity="0.19"/><stop offset="85.7%" stop-color="#000eed" stop-opacity="0.11"/><stop offset="92.9%" stop-color="#000af1" stop-opacity="0.06"/><stop offset="100%" stop-color="#0007f3" stop-opacity="0.00"/></radialGradient>
<clipPath id="tc118"><path d="M695.8 348.4L695.8 448.5A341.8 341.8 0 0 0 781.6 434.2Z"/></clipPath>
<radialGradient id="b8_0"><stop offset="0%" stop-color="#46f014" stop-opacity="1.00"/><stop offset="7.1%" stop-color="#41ee16" stop-opacity="1.00"/><stop offset="14.3%" stop-color="#34e91a" stop-opacity="1.00"/><stop offset="21.4%" stop-color="#21e020" stop-opacity="1.00"/><stop offset="28.6%" stop-color="#0ad52a" stop-opacity="1.00"/><stop offset="35.7%" stop-color="#03b54a" stop-opacity="1.00"/><stop offset="42.9%" stop-color="#009073" stop-opacity="1.00"/><stop offset="50%" stop-color="#0069a0" stop-opacity="0.87"/><stop offset="57.1%" stop-color="#0046be" stop-opacity="0.61"/><stop offset="64.3%" stop-color="#002ad5" stop-opacity="0.42"/><stop offset="71.4%" stop-color="#001ce1" stop-opacity="0.27"/><stop offset="78.6%" stop-color="#0013e9" stop-opacity="0.17"/><stop offset="85.7%" stop-color="#000dee" stop-opacity="0.10"/><stop offset="92.9%" stop-color="#0009f2" stop-opacity="0.06"/><stop offset="100%" stop-color="#0007f4" stop-opacity="0.00"/></radialGradient>
<clipPath id="pc119"><circle cx="617.6" cy="549.9" r="50.4"/></clipPath>
<clipPath id="tc120"><path d="M695.8 491.9L695.8 591.6A340.4 340.4 0 0 0 779.4 576.3Z"/></clipPath>
<clipPath id="pc121"><circle cx="866.1" cy="109.5" r="50.6"/></clipPath>
<radialGradient id="b10_0"><stop offset="0%" stop-color="#91f70c" stop-opacity="1.00"/><stop offset="7.1%" stop-color="#88f60d" stop-opacity="1.00"/><stop offset="14.3%" stop-color="#70f40f" stop-opacity="1.00"/><stop offset="21.4%" stop-color="#4bf013" stop-opacity="1.00"/><stop offset="28.6%" stop-color="#2be51d" stop-opacity="1.00"/><stop offset="35.7%" stop-color="#0bd728" stop-opacity="1.00"/><stop offset="42.9%" stop-color="#02b14e" stop-opacity="1.00"/><stop offset="50%" stop-color="#008580" stop-opacity="1.00"/><stop offset="57.1%" stop-color="#005bac" stop-opacity="0.77"/><stop offset="64.3%" stop-color="#0039c9" stop-opacity="0.52"/><stop offset="71.4%" stop-color="#0022dc" stop-opacity="0.34"/><stop offset="78.6%" stop-color="#0017e6" stop-opacity="0.21"/><stop offset="85.7%" stop-color="#000fed" stop-opacity="0.12"/><stop offset="92.9%" stop-color="#000af1" stop-opacity="0.07"/><stop offset="100%" stop-color="#0007f3" stop-opacity="0.00"/></radialGradient>
<radialGradient id="b16_0"><stop offset="0%" stop-color="#ffa300" stop-opacity="1.00"/><stop offset="7.1%" stop-color="#ffaf00" stop-opacity="1.00"/><stop offset="14.3%" stop-color="#facb00" stop-opacity="1.00"/><stop offset="21.4%" stop-color="#edec00" stop-opacity="1.00"/><stop offset="28.6%" stop-color="#b5f607" stop-opacity="1.00"/><stop offset="35.7%" stop-color="#6cf310" stop-opacity="1.00"/><stop offset="42.9%" stop-color="#2de61c" stop-opacity="1.00"/><stop offset="50%" stop-color="#07ca35" stop-opacity="1.00"/><stop offset="57.1%" stop-color="#00976a" stop-opacity="1.00"/><stop offset="64.3%" stop-color="#0064a4" stop-opacity="0.83"/><stop offset="71.4%" stop-color="#003bc7" stop-opacity="0.54"/><stop offset="78.6%" stop-color="#0022dc" stop-opacity="0.33"/><stop offset="85.7%" stop-color="#0016e7" stop-opacity="0.20"/><stop offset="92.9%" stop-color="#000eed" stop-opacity="0.11"/><stop offset="100%" stop-color="#0009f1" stop-opacity="0.00"/></radialGradient>
<clipPath id="tc122"><path d="M943.5 53.9L943.5 153.6A340.4 340.4 0 0 0 1029.1 138.7Z"/></clipPath>
<radialGradient id="b9_17"><stop offset="0%" stop-color="#6cf310" stop-opacity="1.00"/><stop offset="7.1%" stop-color="#6af310" stop-opacity="1.00"/><stop offset="14.3%" stop-color="#64f311" stop-opacity="1.00"/><stop offset="21.4%" stop-color="#5cf212" stop-opacity="1.00"/><stop offset="28.6%" stop-color="#52f113" stop-opacity="1.00"/><stop offset="35.7%" stop-color="#47f014" stop-opacity="1.00"/><stop offset="42.9%" stop-color="#40ee16" stop-opacity="1.00"/><stop offset="50%" stop-color="#3aeb18" stop-opacity="1.00"/><stop offset="57.1%" stop-color="#35e91a" stop-opacity="1.00"/><stop offset="64.3%" stop-color="#31e71b" stop-opacity="1.00"/><stop offset="71.4%" stop-color="#2ee61c" stop-opacity="0.84"/><stop offset="78.6%" stop-color="#2be51d" stop-opacity="0.52"/><stop offset="85.7%" stop-color="#2ae41d" stop-opacity="0.31"/><stop offset="92.9%" stop-color="#29e41e" stop-opacity="0.17"/><stop offset="100%" stop-color="#29e41e" stop-opacity="0.00"/></radialGradient>
<radialGradient id="b4_17"><stop offset="0%" stop-color="#00a55a" stop-opacity="1.00"/><stop offset="7.1%" stop-color="#00a758" stop-opacity="1.00"/><stop offset="14.3%" stop-color="#02ad52" stop-opacity="1.00"/><stop offset="21.4%" stop-color="#03b54a" stop-opacity="1.00"/><stop offset="28.6%" stop-color="#05c03f" stop-opacity="1.00"/><stop offset="35.7%" stop-color="#08cb34" stop-opacity="1.00"/><stop offset="42.9%" stop-color="#0ad629" stop-opacity="1.00"/><stop offset="50%" stop-color="#11da26" stop-opacity="1.00"/><stop offset="57.1%" stop-color="#18dd23" stop-opacity="1.00"/><stop offset="64.3%" stop-color="#1ddf22" stop-opacity="1.00"/><stop offset="71.4%" stop-color="#21e120" stop-opacity="0.84"/><stop offset="78.6%" stop-color="#24e21f" stop-opacity="0.52"/><stop offset="85.7%" stop-color="#25e21f" stop-opacity="0.31"/><stop offset="92.9%" stop-color="#27e31e" stop-opacity="0.17"/><stop offset="100%" stop-color="#27e31e" stop-opacity="0.00"/></radialGradient>
<radialGradient id="b1_15"><stop offset="0%" stop-color="#0022dc" stop-opacity="1.00"/><stop offset="7.1%" stop-color="#0025d9" stop-opacity="1.00"/><stop offset="14.3%" stop-color="#0033ce" stop-opacity="1.00"/><stop offset="21.4%" stop-color="#004aba" stop-opacity="1.00"/><stop offset="28.6%" stop-color="#0066a2" stop-opacity="1.00"/><stop offset="35.7%" stop-color="#008283" stop-opacity="1.00"/><stop offset="42.9%" stop-color="#009d63" stop-opacity="1.00"/><stop offset="50%" stop-color="#02b14e" stop-opacity="1.00"/><stop offset="57.1%" stop-color="#05c03f" stop-opacity="1.00"/><stop offset="64.3%" stop-color="#08cb34" stop-opacity="1.00"/><stop offset="71.4%" stop-color="#09d42b" stop-opacity="0.84"/><stop offset="78.6%" stop-color="#0cd827" stop-opacity="0.52"/><stop offset="85.7%" stop-color="#0fd926" stop-opacity="0.31"/><stop offset="92.9%" stop-color="#11da26" stop-opacity="0.17"/><stop offset="100%" stop-color="#13db25" stop-opacity="0.00"/></radialGradient>
<radialGradient id="b2_12"><stop offset="0%" stop-color="#004db8" stop-opacity="1.00"/><stop offset="7.1%" stop-color="#0050b5" stop-opacity="1.00"/><stop offset="14.3%" stop-color="#0059ae" stop-opacity="1.00"/><stop offset="21.4%" stop-color="#0065a3" stop-opacity="1.00"/><stop offset="28.6%" stop-color="#007493" stop-opacity="1.00"/><stop offset="35.7%" stop-color="#008481" stop-opacity="1.00"/><stop offset="42.9%" stop-color="#00936f" stop-opacity="1.00"/><stop offset="50%" stop-color="#00a05f" stop-opacity="1.00"/><stop offset="57.1%" stop-color="#01aa55" stop-opacity="1.00"/><stop offset="64.3%" stop-color="#02b04f" stop-opacity="1.00"/><stop offset="71.4%" stop-color="#03b54a" stop-opacity="0.84"/><stop offset="78.6%" stop-color="#04b946" stop-opacity="0.52"/><stop offset="85.7%" stop-color="#04bb44" stop-opacity="0.31"/><stop offset="92.9%" stop-color="#05bc43" stop-opacity="0.17"/><stop offset="100%" stop-color="#05bd42" stop-opacity="0.00"/></radialGradient>
<radialGradient id="b2_17"><stop offset="0%" stop-color="#004db8" stop-opacity="1.00"/><stop offset="7.1%" stop-color="#0052b3" stop-opacity="1.00"/><stop offset="14.3%" stop-color="#0061a7" stop-opacity="1.00"/><stop offset="21.4%" stop-color="#007691" stop-opacity="1.00"/><stop offset="28.6%" stop-color="#008f74" stop-opacity="1.00"/><stop offset="35.7%" stop-color="#01a857" stop-opacity="1.00"/><stop offset="42.9%" stop-color="#04bb44" stop-opacity="1.00"/><stop offset="50%" stop-color="#08cc33" stop-opacity="1.00"/><stop offset="57.1%" stop-color="#0cd827" stop-opacity="1.00"/><stop offset="64.3%" stop-color="#15dc24" stop-opacity="1.00"/><stop offset="71.4%" stop-color="#1cde22" stop-opacity="0.84"/><stop offset="78.6%" stop-color="#21e020" stop-opacity="0.52"/><stop offset="85.7%" stop-color="#24e21f" stop-opacity="0.31"/><stop offset="92.9%" stop-color="#26e21f" stop-opacity="0.17"/><stop offset="100%" stop-color="#27e31e" stop-opacity="0.00"/></radialGradient>
<radialGradient id="b10_22"><stop offset="0%" stop-color="#91f70c" stop-opacity="1.00"/><stop offset="7.1%" stop-color="#90f70c" stop-opacity="1.00"/><stop offset="14.3%" stop-color="#8df60c" stop-opacity="1.00"/><stop offset="21.4%" stop-color="#89f60d" stop-opacity="1.00"/><stop offset="28.6%" stop-color="#83f50d" stop-opacity="1.00"/><stop offset="35.7%" stop-color="#7df50e" stop-opacity="1.00"/><stop offset="42.9%" stop-color="#78f40e" stop-opacity="1.00"/><stop offset="50%" stop-color="#73f40f" stop-opacity="1.00"/><stop offset="57.1%" stop-color="#6ef410" stop-opacity="1.00"/><stop offset="64.3%" stop-color="#6bf310" stop-opacity="1.00"/><stop offset="71.4%" stop-color="#69f310" stop-opacity="0.84"/><stop offset="78.6%" stop-color="#67f310" stop-opacity="0.52"/><stop offset="85.7%" stop-color="#66f310" stop-opacity="0.31"/><stop offset="92.9%" stop-color="#65f311" stop-opacity="0.17"/><stop offset="100%" stop-color="#64f311" stop-opacity="0.00"/></radialGradient>
<radialGradient id="b16_18"><stop offset="0%" stop-color="#ffa300" stop-opacity="1.00"/><stop offset="7.1%" stop-color="#ffaa00" stop-opacity="1.00"/><stop offset="14.3%" stop-color="#ffbd00" stop-opacity="1.00"/><stop offset="21.4%" stop-color="#f8d000" stop-opacity="1.00"/><stop offset="28.6%" stop-color="#efe600" stop-opacity="1.00"/><stop offset="35.7%" stop-color="#d7f203" stop-opacity="1.00"/><stop offset="42.9%" stop-color="#b4f607" stop-opacity="1.00"/><stop offset="50%" stop-color="#93f70b" stop-opacity="1.00"/><stop offset="57.1%" stop-color="#74f40f" stop-opacity="1.00"/><stop offset="64.3%" stop-color="#5bf212" stop-opacity="1.00"/><stop offset="71.4%" stop-color="#49f014" stop-opacity="0.84"/><stop offset="78.6%" stop-color="#40ed16" stop-opacity="0.52"/><stop offset="85.7%" stop-color="#3aeb18" stop-opacity="0.31"/><stop offset="92.9%" stop-color="#37ea19" stop-opacity="0.17"/><stop offset="100%" stop-color="#34e91a" stop-opacity="0.00"/></radialGradient>
<radialGradient id="b19_18"><stop offset="0%" stop-color="#f33f06" stop-opacity="1.00"/><stop offset="7.1%" stop-color="#f64805" stop-opacity="1.00"/><stop offset="14.3%" stop-color="#fc6202" stop-opacity="1.00"/><stop offset="21.4%" stop-color="#ff8900" stop-opacity="1.00"/><stop offset="28.6%" stop-color="#ffb800" stop-opacity="1.00"/><stop offset="35.7%" stop-color="#f4da00" stop-opacity="1.00"/><stop offset="42.9%" stop-color="#ddf102" stop-opacity="1.00"/><stop offset="50%" stop-color="#b4f607" stop-opacity="1.00"/><stop offset="57.1%" stop-color="#8ef60c" stop-opacity="1.00"/><stop offset="64.3%" stop-color="#6df310" stop-opacity="1.00"/><stop offset="71.4%" stop-color="#55f112" stop-opacity="0.84"/><stop offset="78.6%" stop-color="#44ef15" stop-opacity="0.52"/><stop offset="85.7%" stop-color="#3dec17" stop-opacity="0.31"/><stop offset="92.9%" stop-color="#38ea19" stop-opacity="0.17"/><stop offset="100%" stop-color="#35e91a" stop-opacity="0.00"/></radialGradient>
<clipPath id="pc123"><circle cx="866.4" cy="254.5" r="51"/></clipPath>
<radialGradient id="b11_0"><stop offset="0%" stop-color="#b3f607" stop-opacity="1.00"/><stop offset="7.1%" stop-color="#abf709" stop-opacity="1.00"/><stop offset="14.3%" stop-color="#92f70c" stop-opacity="1.00"/><stop offset="21.4%" stop-color="#69f310" stop-opacity="1.00"/><stop offset="28.6%" stop-color="#3cec17" stop-opacity="1.00"/><stop offset="35.7%" stop-color="#19dd23" stop-opacity="1.00"/><stop offset="42.9%" stop-color="#05be41" stop-opacity="1.00"/><stop offset="50%" stop-color="#00936f" stop-opacity="1.00"/><stop offset="57.1%" stop-color="#0066a3" stop-opacity="0.84"/><stop offset="64.3%" stop-color="#0040c3" stop-opacity="0.57"/><stop offset="71.4%" stop-color="#0025d9" stop-opacity="0.37"/><stop offset="78.6%" stop-color="#0019e4" stop-opacity="0.23"/><stop offset="85.7%" stop-color="#0010ec" stop-opacity="0.13"/><stop offset="92.9%" stop-color="#000bf0" stop-opacity="0.08"/><stop offset="100%" stop-color="#0008f3" stop-opacity="0.00"/></radialGradient>
<radialGradient id="b17_0"><stop offset="0%" stop-color="#ff8200" stop-opacity="1.00"/><stop offset="7.1%" stop-color="#ff8f00" stop-opacity="1.00"/><stop offset="14.3%" stop-color="#ffb400" stop-opacity="1.00"/><stop offset="21.4%" stop-color="#f4db00" stop-opacity="1.00"/><stop offset="28.6%" stop-color="#cbf304" stop-opacity="1.00"/><stop offset="35.7%" stop-color="#81f50d" stop-opacity="1.00"/><stop offset="42.9%" stop-color="#38ea19" stop-opacity="1.00"/><stop offset="50%" stop-color="#09d42b" stop-opacity="1.00"/><stop offset="57.1%" stop-color="#00a15e" stop-opacity="1.00"/><stop offset="64.3%" stop-color="#006b9e" stop-opacity="0.88"/><stop offset="71.4%" stop-color="#0040c3" stop-opacity="0.57"/><stop offset="78.6%" stop-color="#0024db" stop-opacity="0.35"/><stop offset="85.7%" stop-color="#0017e6" stop-opacity="0.21"/><stop offset="92.9%" stop-color="#000fed" stop-opacity="0.12"/><stop offset="100%" stop-color="#000af1" stop-opacity="0.00"/></radialGradient>
<clipPath id="tc124"><path d="M943.3 201.6L943.3 299.5A334.3 334.3 0 0 0 1027.2 285Z"/></clipPath>
<radialGradient id="b0_16"><stop offset="0%" stop-color="#0004f6" stop-opacity="1.00"/><stop offset="7.1%" stop-color="#0008f2" stop-opacity="1.00"/><stop offset="14.3%" stop-color="#0015e7" stop-opacity="1.00"/><stop offset="21.4%" stop-color="#0028d7" stop-opacity="1.00"/><stop offset="28.6%" stop-color="#004cb9" stop-opacity="1.00"/><stop offset="35.7%" stop-color="#007196" stop-opacity="1.00"/><stop offset="42.9%" stop-color="#00946e" stop-opacity="1.00"/><stop offset="50%" stop-color="#02af50" stop-opacity="1.00"/><stop offset="57.1%" stop-color="#06c23d" stop-opacity="1.00"/><stop offset="64.3%" stop-color="#09d12e" stop-opacity="1.00"/><stop offset="71.4%" stop-color="#0ed927" stop-opacity="0.84"/><stop offset="78.6%" stop-color="#14db25" stop-opacity="0.52"/><stop offset="85.7%" stop-color="#18dd23" stop-opacity="0.31"/><stop offset="92.9%" stop-color="#1bde22" stop-opacity="0.17"/><stop offset="100%" stop-color="#1cdf22" stop-opacity="0.00"/></radialGradient>
<radialGradient id="b1_16"><stop offset="0%" stop-color="#0022dc" stop-opacity="1.00"/><stop offset="7.1%" stop-color="#0026d9" stop-opacity="1.00"/><stop offset="14.3%" stop-color="#0035cc" stop-opacity="1.00"/><stop offset="21.4%" stop-color="#004eb7" stop-opacity="1.00"/><stop offset="28.6%" stop-color="#006c9d" stop-opacity="1.00"/><stop offset="35.7%" stop-color="#00897a" stop-opacity="1.00"/><stop offset="42.9%" stop-color="#00a659" stop-opacity="1.00"/><stop offset="50%" stop-color="#04b946" stop-opacity="1.00"/><stop offset="57.1%" stop-color="#07c936" stop-opacity="1.00"/><stop offset="64.3%" stop-color="#0ad629" stop-opacity="1.00"/><stop offset="71.4%" stop-color="#10da26" stop-opacity="0.84"/><stop offset="78.6%" stop-color="#16dc24" stop-opacity="0.52"/><stop offset="85.7%" stop-color="#19dd23" stop-opacity="0.31"/><stop offset="92.9%" stop-color="#1bde22" stop-opacity="0.17"/><stop offset="100%" stop-color="#1ddf22" stop-opacity="0.00"/></radialGradient>
<radialGradient id="b9_16"><stop offset="0%" stop-color="#6cf310" stop-opacity="1.00"/><stop offset="7.1%" stop-color="#69f310" stop-opacity="1.00"/><stop offset="14.3%" stop-color="#63f311" stop-opacity="1.00"/><stop offset="21.4%" stop-color="#59f212" stop-opacity="1.00"/><stop offset="28.6%" stop-color="#4ef113" stop-opacity="1.00"/><stop offset="35.7%" stop-color="#43ef15" stop-opacity="1.00"/><stop offset="42.9%" stop-color="#3aeb18" stop-opacity="1.00"/><stop offset="50%" stop-color="#33e81a" stop-opacity="1.00"/><stop offset="57.1%" stop-color="#2de61c" stop-opacity="1.00"/><stop offset="64.3%" stop-color="#28e41e" stop-opacity="1.00"/><stop offset="71.4%" stop-color="#25e21f" stop-opacity="0.84"/><stop offset="78.6%" stop-color="#22e120" stop-opacity="0.52"/><stop offset="85.7%" stop-color="#20e021" stop-opacity="0.31"/><stop offset="92.9%" stop-color="#1fe021" stop-opacity="0.17"/><stop offset="100%" stop-color="#1fe021" stop-opacity="0.00"/></radialGradient>
<radialGradient id="b16_20"><stop offset="0%" stop-color="#ffa300" stop-opacity="1.00"/><stop offset="7.1%" stop-color="#ffa900" stop-opacity="1.00"/><stop offset="14.3%" stop-color="#ffbb00" stop-opacity="1.00"/><stop offset="21.4%" stop-color="#f9cc00" stop-opacity="1.00"/><stop offset="28.6%" stop-color="#f1e100" stop-opacity="1.00"/><stop offset="35.7%" stop-color="#e2f101" stop-opacity="1.00"/><stop offset="42.9%" stop-color="#c2f405" stop-opacity="1.00"/><stop offset="50%" stop-color="#a6f709" stop-opacity="1.00"/><stop offset="57.1%" stop-color="#8bf60c" stop-opacity="1.00"/><stop offset="64.3%" stop-color="#75f40f" stop-opacity="1.00"/><stop offset="71.4%" stop-color="#64f311" stop-opacity="0.84"/><stop offset="78.6%" stop-color="#59f212" stop-opacity="0.52"/><stop offset="85.7%" stop-color="#51f113" stop-opacity="0.31"/><stop offset="92.9%" stop-color="#4cf113" stop-opacity="0.17"/><stop offset="100%" stop-color="#49f014" stop-opacity="0.00"/></radialGradient>
<radialGradient id="b15_19"><stop offset="0%" stop-color="#fdc200" stop-opacity="1.00"/><stop offset="7.1%" stop-color="#fcc600" stop-opacity="1.00"/><stop offset="14.3%" stop-color="#f8d000" stop-opacity="1.00"/><stop offset="21.4%" stop-color="#f2df00" stop-opacity="1.00"/><stop offset="28.6%" stop-color="#e9f000" stop-opacity="1.00"/><stop offset="35.7%" stop-color="#cbf304" stop-opacity="1.00"/><stop offset="42.9%" stop-color="#aef708" stop-opacity="1.00"/><stop offset="50%" stop-color="#91f70c" stop-opacity="1.00"/><stop offset="57.1%" stop-color="#77f40f" stop-opacity="1.00"/><stop offset="64.3%" stop-color="#62f311" stop-opacity="1.00"/><stop offset="71.4%" stop-color="#53f113" stop-opacity="0.84"/><stop offset="78.6%" stop-color="#48f014" stop-opacity="0.52"/><stop offset="85.7%" stop-color="#43ef15" stop-opacity="0.31"/><stop offset="92.9%" stop-color="#40ed16" stop-opacity="0.17"/><stop offset="100%" stop-color="#3eed17" stop-opacity="0.00"/></radialGradient>
<clipPath id="pc125"><circle cx="866.1" cy="403.4" r="50.7"/></clipPath>
<clipPath id="tc126"><path d="M943.3 347.2L943.3 448.5A345.9 345.9 0 0 0 1029.7 433.5Z"/></clipPath>
<clipPath id="pc127"><circle cx="866.4" cy="549.3" r="51.6"/></clipPath>
<clipPath id="tc128"><path d="M945.1 495L945.1 593.9A337.7 337.7 0 0 0 1028.5 577.6Z"/></clipPath>
</defs>
<rect width="1039" height="652" fill="#fff"/>
<path d="M52 41.5V311.6" stroke="#000" stroke-width="2" fill="none"/>
<circle cx="52" cy="41.5" r="4.1"/>
<path d="M44.8 306.8L59.2 306.8L52 319.6Z"/>
<path d="M44 65.7H52" stroke="#000" stroke-width="2"/>
<text x="18.9" y="71.3" font-size="17" textLength="19.5" lengthAdjust="spacingAndGlyphs">2.4</text>
<path d="M44 88.5H52" stroke="#000" stroke-width="2"/>
<text x="27.3" y="94.1" font-size="17" textLength="6.5" lengthAdjust="spacingAndGlyphs">5</text>
<path d="M44 153.3H52" stroke="#000" stroke-width="2"/>
<text x="22" y="158.9" font-size="17" textLength="15" lengthAdjust="spacingAndGlyphs">10</text>
<path d="M44 218.1H52" stroke="#000" stroke-width="2"/>
<text x="21.5" y="223.7" font-size="17" textLength="15.5" lengthAdjust="spacingAndGlyphs">15</text>
<path d="M44 283.5H52" stroke="#000" stroke-width="2"/>
<text x="20.8" y="289.1" font-size="17" textLength="16.2" lengthAdjust="spacingAndGlyphs">20</text>
<text x="31.4" y="12.2" font-size="16" font-weight="bold" textLength="42.2" lengthAdjust="spacingAndGlyphs">Depth</text>
<text x="34" y="31.2" font-size="16" font-weight="bold" textLength="36.4" lengthAdjust="spacingAndGlyphs">(μm)</text>
<text x="17" y="231.2" font-size="16.5" textLength="146" lengthAdjust="spacingAndGlyphs" transform="rotate(-90 17 231.2)">Along depth direction</text>
<path d="M51.5 384.5V641.5" stroke="#000" stroke-width="2" fill="none"/>
<circle cx="51.5" cy="384.5" r="4.1"/>
<path d="M44.3 636.7L58.7 636.7L51.5 649.5Z"/>
<path d="M43.5 408.4H51.5" stroke="#000" stroke-width="2"/>
<text x="19.9" y="414" font-size="17" textLength="19" lengthAdjust="spacingAndGlyphs">3.1</text>
<path d="M43.5 436.7H51.5" stroke="#000" stroke-width="2"/>
<text x="27.9" y="442.3" font-size="17" textLength="6.5" lengthAdjust="spacingAndGlyphs">5</text>
<path d="M43.5 501.4H51.5" stroke="#000" stroke-width="2"/>
<text x="22" y="507" font-size="17" textLength="15" lengthAdjust="spacingAndGlyphs">10</text>
<path d="M43.5 566.3H51.5" stroke="#000" stroke-width="2"/>
<text x="21.5" y="571.9" font-size="17" textLength="15.5" lengthAdjust="spacingAndGlyphs">15</text>
<path d="M43.5 630.9H51.5" stroke="#000" stroke-width="2"/>
<text x="20.8" y="636.5" font-size="17" textLength="16.2" lengthAdjust="spacingAndGlyphs">20</text>
<text x="30.9" y="354.9" font-size="15.5" font-weight="bold" textLength="41.3" lengthAdjust="spacingAndGlyphs">Depth</text>
<text x="33.9" y="372.9" font-size="15.5" font-weight="bold" textLength="35.9" lengthAdjust="spacingAndGlyphs">(μm)</text>
<text x="11.7" y="572.6" font-size="16.5" textLength="146" lengthAdjust="spacingAndGlyphs" transform="rotate(-90 11.7 572.6)">Along depth direction</text>
<text x="77.8" y="60.4" font-size="12" font-weight="bold">I</text>
<text x="72.6" y="198.4" font-size="12" font-weight="bold" textLength="9" lengthAdjust="spacingAndGlyphs">II</text>
<text x="78.4" y="394.8" font-size="12" font-weight="bold">I</text>
<text x="75.2" y="516.6" font-size="13" font-weight="bold" textLength="10.3" lengthAdjust="spacingAndGlyphs">II</text>
<text x="103" y="31.2" font-size="16" font-weight="bold" textLength="18.4" lengthAdjust="spacingAndGlyphs">(a)</text>
<text x="247.5" y="31.2" font-size="16" font-weight="bold" textLength="19.5" lengthAdjust="spacingAndGlyphs">(b)</text>
<text x="394.5" y="31.2" font-size="16" font-weight="bold" textLength="18.4" lengthAdjust="spacingAndGlyphs">(c)</text>
<text x="100.3" y="366.9" font-size="16" font-weight="bold" textLength="20.3" lengthAdjust="spacingAndGlyphs">(d)</text>
<text x="247.8" y="366.9" font-size="16" font-weight="bold" textLength="18.5" lengthAdjust="spacingAndGlyphs">(e)</text>
<text x="394.6" y="366.9" font-size="16" font-weight="bold" textLength="16" lengthAdjust="spacingAndGlyphs">(f)</text>
<text x="293" y="336.8" font-size="18.5" textLength="47.5" lengthAdjust="spacingAndGlyphs">1-LSP</text>
<text x="279.7" y="649.5" font-size="17.5" textLength="49.4" lengthAdjust="spacingAndGlyphs">10-LSP</text>
<g clip-path="url(#cp1)"><use href="#baseA"/><g mask="url(#m26)"><g transform="rotate(60 163 180)" filter="url(#ga2)"><use href="#baseA" transform="rotate(-60 163 180)"/></g></g><g mask="url(#m24)"><g transform="rotate(60 163 180)" filter="url(#ga1)"><use href="#baseA" transform="rotate(-60 163 180)"/></g></g><path d="M93 44L103 44L103.6 60.7L99 66.7L95 63.7L93.4 56.7Z" fill="#be32e1" stroke="#503060" stroke-width="0.3" stroke-linejoin="round"/><path d="M101 44L106 44L106.1 60.4L104 66.4L102 63.4L101.1 56.4Z" fill="#966ef0" stroke="#503060" stroke-width="0.3" stroke-linejoin="round"/><path d="M106 44L112 44L112.5 66.1L109.6 72.1L107.2 69.1L105.6 62.1Z" fill="#c8aaf5" stroke="#503060" stroke-width="0.3" stroke-linejoin="round"/><path d="M112 44L120 44L119.2 67.2L116.8 73.2L113.6 70.2L111.8 63.2Z" fill="#9682f0" stroke="#503060" stroke-width="0.3" stroke-linejoin="round"/><path d="M120 44L127 44L126.3 65.4L124.2 71.4L121.4 68.4L120 61.4Z" fill="#aa78f0" stroke="#503060" stroke-width="0.3" stroke-linejoin="round"/><path d="M127 44L135 44L135.3 59L131.8 65L128.6 62L127.5 55Z" fill="#d728e6" stroke="#503060" stroke-width="0.3" stroke-linejoin="round"/><path d="M136 44L140 44L140.8 64L138.4 70L136.8 67L135.6 60Z" fill="#785aeb" stroke="#503060" stroke-width="0.3" stroke-linejoin="round"/><path d="M140 44L147 44L147.2 65.2L144.2 71.2L141.4 68.2L140.2 61.2Z" fill="#28a0f0" stroke="#503060" stroke-width="0.3" stroke-linejoin="round"/><path d="M147 44L155 44L155.7 63.2L151.8 69.2L148.6 66.2L147.9 59.2Z" fill="#6e3ce6" stroke="#503060" stroke-width="0.3" stroke-linejoin="round"/><path d="M155 44L161 44L161.3 63.5L158.6 69.5L156.2 66.5L154.1 59.5Z" fill="#8246eb" stroke="#503060" stroke-width="0.3" stroke-linejoin="round"/><path d="M160 44L167 44L167.3 65.7L164.2 71.7L161.4 68.7L161 61.7Z" fill="#3ce682" stroke="#503060" stroke-width="0.3" stroke-linejoin="round"/><path d="M166 44L172 44L171.6 66.9L169.6 72.9L167.2 69.9L165.8 62.9Z" fill="#6e50eb" stroke="#503060" stroke-width="0.3" stroke-linejoin="round"/><path d="M171 44L175 44L174 65.6L173.4 71.6L171.8 68.6L170.9 61.6Z" fill="#f0e646" stroke="#503060" stroke-width="0.3" stroke-linejoin="round"/><path d="M175 44L182 44L181.2 61.2L179.2 67.2L176.4 64.2L174.1 57.2Z" fill="#8c5aeb" stroke="#503060" stroke-width="0.3" stroke-linejoin="round"/><path d="M181 44L187 44L186.3 66.7L184.6 72.7L182.2 69.7L180.5 62.7Z" fill="#46eb6e" stroke="#503060" stroke-width="0.3" stroke-linejoin="round"/><path d="M187 44L195 44L195.7 63.4L191.8 69.4L188.6 66.4L186.2 59.4Z" fill="#5af050" stroke="#503060" stroke-width="0.3" stroke-linejoin="round"/><path d="M195 44L203 44L203.1 64.1L199.8 70.1L196.6 67.1L195.8 60.1Z" fill="#50ee5a" stroke="#503060" stroke-width="0.3" stroke-linejoin="round"/><path d="M203 44L211 44L211.7 67.6L207.8 73.6L204.6 70.6L202.6 63.6Z" fill="#64f046" stroke="#503060" stroke-width="0.3" stroke-linejoin="round"/><path d="M211 44L217 44L216.7 64.1L214.6 70.1L212.2 67.1L211.8 60.1Z" fill="#e63cc8" stroke="#503060" stroke-width="0.3" stroke-linejoin="round"/><path d="M217 44L225 44L224.3 69.1L221.8 75.1L218.6 72.1L216.4 65.1Z" fill="#963cdc" stroke="#503060" stroke-width="0.3" stroke-linejoin="round"/><path d="M225 44L235 44L234.5 62.7L231 68.7L227 65.7L225 58.7Z" fill="#eb28c8" stroke="#503060" stroke-width="0.3" stroke-linejoin="round"/><g opacity="0.6"><g transform="rotate(60 163 180)"><rect x="-7" y="10" width="340" height="340" fill="url(#dg28)" filter="url(#al1)"/></g></g><path d="M90.5 275.3L110 278L130 281.5L150 285.5L164 289L175 293L200 300L236 306L236 315L90.5 315Z" fill="#ee35e2" stroke="#5a3040" stroke-width="0.7" stroke-linejoin="round"/><path d="M92 296Q130 292 165 304" stroke="#f56ae8" stroke-width="5" fill="none" opacity="0.5" filter="url(#bl2)"/></g>
<g clip-path="url(#cp29)"><rect x="238.1" y="40" width="142.2" height="271" fill="url(#vg30)"/><g mask="url(#m35)"><g transform="rotate(62 309 180)"><rect x="119" y="-10" width="380" height="380" filter="url(#kv2)"/></g></g><g mask="url(#m31)"><g transform="rotate(58 309 180)"><rect x="119" y="-10" width="380" height="380" filter="url(#kv1)"/></g></g><g mask="url(#m33)"><g transform="rotate(50 309 180)"><rect x="119" y="-10" width="380" height="380" filter="url(#kv6)"/></g></g><g mask="url(#m37)"><g transform="rotate(8 309 60)"><rect x="199" y="-50" width="220" height="220" filter="url(#kv3)"/></g></g><path d="M238 279.5Q262 283 286 288T330 292" stroke="#30d080" stroke-width="0.9" fill="none" opacity="0.85"/><path d="M357.9 278.5L355.6 278.5L352.5 278.2M355.1 275.5L356.9 275.9L357.5 277.5M360.5 272.3L362.2 274.3L363.6 274.5M352.6 267.1L351.8 267.6L350.3 269.1M351.2 281.2L352.5 282.3L352.3 284.6M367.1 269.5L365 270L363.6 269.8M366.5 273.9L365.4 273.2L362.7 273.7M356.5 280.9L357.2 281.6L357.9 283.6M346.4 277.8L346.1 279.8L345.2 282.6M360 278L360 280.5L358.9 282.2M357.2 277.3L357.7 278.9L357.2 281.2M348.7 273.5L348.9 275L349.1 275.7M342.1 269.6L344.1 270.2L346.1 271.8M360.5 263.1L360.1 265.3L358.3 266.3M353.5 277.1L351.9 278.2L349.3 279.4M355.7 272L357 274L356.5 276.6M359 261.6L360.1 261.4L361.2 263.6M360.1 271.5L358.1 270.8L357.9 271.7M369.6 279.6L368 280.8L367 281.1M343.9 270.3L344.5 270.7L345.7 271.3M353.9 276.7L355 278.2L356.1 279.9M356.9 266.8L356.8 268.6L356.4 270.5M353.7 279.1L352.2 278.9L349.7 278.6M360.1 274.5L359.1 276.4L359.6 277M355.5 277.1L355.8 279.4L357.1 280.2M356.1 286.5L357.5 288L357.7 289.3M360.2 273.3L361 274.7L361.8 276.2M358.8 266.6L357.8 267.1L355.5 268.7M368.3 275.9L366.5 277.6L366.1 280.3M362.5 265.9L360 265.4L358.1 266.6" stroke="#38dc50" stroke-width="0.9" fill="none" opacity="0.9"/></g>
<g clip-path="url(#cp39)"><rect x="383.9" y="40" width="142.9" height="270.4" fill="url(#vg40)"/><g filter="url(#bl3)" opacity="0.4"><ellipse cx="523.7" cy="289.4" rx="13.5" ry="10.7" fill="#ffffff"/><ellipse cx="522.2" cy="170.1" rx="10.5" ry="11.6" fill="#ffffff"/><ellipse cx="414" cy="202.5" rx="14.3" ry="11.7" fill="#ffffff"/><ellipse cx="402.8" cy="261" rx="18.6" ry="9.9" fill="#ccf3f8"/><ellipse cx="417" cy="279.9" rx="8.3" ry="5" fill="#ffffff"/><ellipse cx="454.2" cy="170.4" rx="9.7" ry="7.4" fill="#ffffff"/><ellipse cx="429.1" cy="265.9" rx="17" ry="10.9" fill="#ffffff"/><ellipse cx="401.1" cy="287" rx="18.8" ry="7" fill="#ccf3f8"/><ellipse cx="437.1" cy="156.3" rx="15.1" ry="7.5" fill="#ccf3f8"/><ellipse cx="445.1" cy="127.4" rx="9.2" ry="10.8" fill="#ffffff"/><ellipse cx="424.7" cy="289.2" rx="11.2" ry="8.6" fill="#ffffff"/><ellipse cx="411" cy="151.5" rx="18.6" ry="10.7" fill="#ccf3f8"/><ellipse cx="474.1" cy="283.8" rx="14.6" ry="10" fill="#ccf3f8"/><ellipse cx="391" cy="239.4" rx="17" ry="9.5" fill="#ffffff"/><ellipse cx="424.8" cy="72" rx="9.5" ry="8.3" fill="#ccf3f8"/><ellipse cx="433" cy="133" rx="19.7" ry="6.8" fill="#ccf3f8"/><ellipse cx="477.6" cy="133.7" rx="12.7" ry="6.2" fill="#ccf3f8"/><ellipse cx="407" cy="110.9" rx="14" ry="6.5" fill="#ccf3f8"/><ellipse cx="513.4" cy="304.1" rx="9.7" ry="6.3" fill="#ffffff"/><ellipse cx="396.9" cy="143.8" rx="10.9" ry="6.8" fill="#ffffff"/><ellipse cx="465.3" cy="277.4" rx="13" ry="7.9" fill="#ccf3f8"/><ellipse cx="458.8" cy="152.3" rx="8.7" ry="6.9" fill="#ffffff"/></g><g transform="rotate(5 455 60)"><rect x="345" y="-50" width="220" height="220" fill="url(#dg43)" filter="url(#cl3)"/></g><g transform="rotate(-4 455 60)"><rect x="345" y="-50" width="220" height="220" fill="url(#dg44)" filter="url(#cl5)"/></g><g transform="rotate(60 455 180)"><rect x="265" y="-10" width="380" height="380" fill="url(#dg41)" filter="url(#cl1)"/></g><g transform="rotate(60 455 180)"><rect x="265" y="-10" width="380" height="380" fill="url(#dg42)" filter="url(#cl2)"/></g><g clip-path="url(#cp45)"><g transform="rotate(16 455 90)"><rect x="355" y="-10" width="200" height="200" fill="url(#dg46)" filter="url(#cl4)"/></g></g><path d="M522.2 212.6l0 0.3M507.2 221.6l-0.5 -0.6M441 244.6l1.1 0.8M508.6 202.2l-1.1 0.5M511.9 247.3l0.2 -1.2M439.8 292.7l0.8 0.9M522.8 224.8l-0.9 -0.8M458.5 268.2l1.1 0.5M476.4 276.5l-0.1 0.1M389.6 278.2l-0.6 1M476.1 230.4l-0.9 -0.6M474.8 269.9l-0.9 -1M458.8 258.3l-0.3 -0.7M469.8 201l-0.5 -0.1" stroke="#7a1818" stroke-width="0.9" fill="none" opacity="0.8"/><path d="M384 277.5Q400 281 418 284T457 290.5" stroke="#101010" stroke-width="0.8" fill="none"/><path d="M386 279l6 2.5l5 -1l4 2" stroke="#a02020" stroke-width="0.6" fill="none"/><circle cx="499" cy="269.5" r="1.9" fill="#b02828"/><circle cx="501.5" cy="268.5" r="1.1" fill="#b02828"/></g>
<g clip-path="url(#cp47)"><use href="#baseD"/><g mask="url(#m95)"><g transform="rotate(20 164 500)" filter="url(#gd2)"><use href="#baseD" transform="rotate(-20 164 500)"/></g></g><g mask="url(#m93)"><g transform="rotate(20 164 500)" filter="url(#gd1)"><use href="#baseD" transform="rotate(-20 164 500)"/></g></g><g filter="url(#bl0)"><path d="M145.6 427.1Q154.7 431.4 164.7 430.9Q155.6 426.6 145.6 427.1Z" fill="#ef3ca1" stroke="#5a3020" stroke-width="0.3"/><path d="M117.6 428Q122.6 431.9 128.8 431.8Q123.9 427.9 117.6 428Z" fill="#9beb57"/><path d="M109.1 420.3Q113.2 424.2 118.6 422.2Q114.4 418.4 109.1 420.3Z" fill="#a163e6"/><path d="M96.1 412.2Q103.9 417.8 113.3 419.5Q105.5 414 96.1 412.2Z" fill="#4cccf4" stroke="#5a3020" stroke-width="0.3"/><path d="M126.2 436.7Q129.6 438.9 133.7 438.4Q130.2 436.3 126.2 436.7Z" fill="#8c6bd9"/><path d="M140.4 430.8Q149.7 434.2 159.5 432.7Q150.2 429.2 140.4 430.8Z" fill="#ffe04f"/><path d="M111.2 419Q114.2 422.4 118.7 422.1Q115.7 418.8 111.2 419Z" fill="#f89241"/><path d="M135.2 418.2Q140.5 422.5 147.3 423.4Q142 419.1 135.2 418.2Z" fill="#66c6e0" stroke="#5a3020" stroke-width="0.3"/><path d="M108 435.3Q113.5 438.6 119.9 438.3Q114.4 435 108 435.3Z" fill="#9b51eb"/><path d="M83.4 413.3Q92.6 417.3 102.6 416.8Q93.4 412.8 83.4 413.3Z" fill="#fee052"/><path d="M101.7 414Q110.1 418.8 119.6 421.1Q111.1 416.3 101.7 414Z" fill="#9e5df1" stroke="#5a3020" stroke-width="0.3"/><path d="M133.9 423Q138.1 425.5 142.6 423.8Q138.5 421.4 133.9 423Z" fill="#b4ff65"/><path d="M103.9 429.8Q109.4 433 115.5 431.1Q110 427.9 103.9 429.8Z" fill="#7cef68" stroke="#5a3020" stroke-width="0.3"/><path d="M136.4 416.1Q140.6 418.6 145.4 417.2Q141.1 414.7 136.4 416.1Z" fill="#f5e55c" stroke="#5a3020" stroke-width="0.3"/><path d="M127.2 414Q131.4 417.3 136.8 417Q132.6 413.6 127.2 414Z" fill="#aafd58"/><path d="M135.4 434.3Q140.2 436.9 145.7 436.2Q140.8 433.6 135.4 434.3Z" fill="#fadf52"/><path d="M95.7 414.7Q100.8 419.2 107.4 417.9Q102.4 413.4 95.7 414.7Z" fill="#68cbea" stroke="#5a3020" stroke-width="0.3"/><path d="M135.8 428.3Q144.4 432.1 153.6 430.2Q145 426.4 135.8 428.3Z" fill="#8859f1" stroke="#5a3020" stroke-width="0.3"/><path d="M91 412.6Q96.4 416.4 103 417.1Q97.5 413.3 91 412.6Z" fill="#ff41b7"/><path d="M91.4 426.1Q95.5 429.1 100.6 428.9Q96.5 425.9 91.4 426.1Z" fill="#f09b43"/><path d="M98.9 408.3Q102.5 410.6 106.7 410.4Q103.1 408.1 98.9 408.3Z" fill="#f79b54"/><path d="M109.1 432.2Q116.6 435.6 124.9 435.2Q117.3 431.8 109.1 432.2Z" fill="#7de662" stroke="#5a3020" stroke-width="0.3"/><path d="M146.3 416.8Q154.2 421 163.3 420.6Q155.3 416.4 146.3 416.8Z" fill="#f78f5a"/><path d="M144.8 421.1Q153.7 424.5 163.1 423.8Q154.3 420.5 144.8 421.1Z" fill="#75ff6b" stroke="#5a3020" stroke-width="0.3"/><path d="M120.3 427.6Q126.7 430.3 133.6 430.1Q127.2 427.4 120.3 427.6Z" fill="#9bf955"/><path d="M147.4 411.8Q152.6 415.1 158.3 412.9Q153.1 409.7 147.4 411.8Z" fill="#d1ff83"/><path d="M101.9 424.3Q109.6 430 119.1 431.3Q111.4 425.7 101.9 424.3Z" fill="#9bfd61"/><path d="M124.5 414.2Q131.1 417 138.1 416Q131.5 413.2 124.5 414.2Z" fill="#bdf074" stroke="#5a3020" stroke-width="0.3"/><path d="M131.3 435.1Q138.5 438.6 146.6 438.6Q139.3 435.1 131.3 435.1Z" fill="#a466ec"/><path d="M141.7 432.2Q147.2 435.2 153.4 434Q147.9 431 141.7 432.2Z" fill="#a3ec56" stroke="#5a3020" stroke-width="0.3"/><path d="M152.4 422.8Q156.8 425.5 161.7 424Q157.3 421.4 152.4 422.8Z" fill="#d1ff76" stroke="#5a3020" stroke-width="0.3"/><path d="M114.3 411Q118 414.6 122.8 412.7Q119.1 409 114.3 411Z" fill="#c8ff67"/><path d="M90.5 431Q93.5 434.5 98 433.6Q95 430.1 90.5 431Z" fill="#afff49" stroke="#5a3020" stroke-width="0.3"/><path d="M89.2 435.5Q97.5 439.3 106.4 437.4Q98.1 433.6 89.2 435.5Z" fill="#6ad7e4" stroke="#5a3020" stroke-width="0.3"/><path d="M131.8 411.1Q140.5 415.9 150.5 416.8Q141.7 411.9 131.8 411.1Z" fill="#69c6e7"/><path d="M97.3 419.4Q104.7 423.3 113 421.7Q105.6 417.8 97.3 419.4Z" fill="#e53aba"/><path d="M88.8 424.1Q96.2 428.2 104.5 426.8Q97.2 422.7 88.8 424.1Z" fill="#ff9e51"/><path d="M142.4 430.5Q147.4 434.4 153.7 433.3Q148.7 429.4 142.4 430.5Z" fill="#f2b253" stroke="#5a3020" stroke-width="0.3"/><path d="M131.3 407.3Q139.3 413.1 149.2 413.7Q141.2 407.8 131.3 407.3Z" fill="#53d9fd"/><path d="M97.4 417.3Q103.8 420.3 110.7 418.7Q104.3 415.7 97.4 417.3Z" fill="#a7f04a" stroke="#5a3020" stroke-width="0.3"/><path d="M123.9 416.8Q127.3 420.1 132.1 420Q128.7 416.7 123.9 416.8Z" fill="#fb9d49" stroke="#5a3020" stroke-width="0.3"/><path d="M82.4 431Q89.1 435.4 97 436.7Q90.3 432.3 82.4 431Z" fill="#76e561"/><path d="M85.8 433.5Q92.3 436.5 99.4 435.4Q92.9 432.4 85.8 433.5Z" fill="#fda354" stroke="#5a3020" stroke-width="0.3"/><path d="M89.7 408.3Q92.1 411.8 96.2 411.2Q93.8 407.8 89.7 408.3Z" fill="#6fe578" stroke="#5a3020" stroke-width="0.3"/><path d="M97.5 425.7Q102 429 107.6 430Q103 426.7 97.5 425.7Z" fill="#b5e953"/><path d="M131.9 408.4Q138.1 410.8 144.7 410Q138.5 407.6 131.9 408.4Z" fill="#b3f463" stroke="#5a3020" stroke-width="0.3"/><path d="M85.3 417.7Q90.7 421.9 97.5 421.1Q92.1 416.9 85.3 417.7Z" fill="#62c0f2" stroke="#5a3020" stroke-width="0.3"/><path d="M123.9 437.4Q132.8 441.6 142.5 440.4Q133.6 436.2 123.9 437.4Z" fill="#e1469e" stroke="#5a3020" stroke-width="0.3"/><path d="M144.9 412.6Q151.3 417.3 159.3 417.3Q152.9 412.6 144.9 412.6Z" fill="#a4ec69"/><path d="M114.1 433.9Q121 436.8 128.3 436.2Q121.5 433.3 114.1 433.9Z" fill="#a358ee"/><path d="M89.8 435.8Q93.1 440 98.4 438.7Q95.1 434.4 89.8 435.8Z" fill="#67e772" stroke="#5a3020" stroke-width="0.3"/><path d="M91.5 426.3Q97.6 430.7 105.1 431.6Q99 427.2 91.5 426.3Z" fill="#9d63d6"/><path d="M147 409.7Q149.5 413.6 153.9 412.4Q151.5 408.5 147 409.7Z" fill="#9cea4c"/><path d="M138.3 427Q145.5 430.3 153.4 430.1Q146.2 426.9 138.3 427Z" fill="#59bbfb" stroke="#5a3020" stroke-width="0.3"/><path d="M104 434.2Q112.2 439.8 122.1 441.5Q113.8 435.9 104 434.2Z" fill="#9e55e0"/><path d="M87.2 420.5Q90.1 423.9 94.4 423.1Q91.6 419.7 87.2 420.5Z" fill="#abe759"/><path d="M119 415.4Q128.2 419.1 138 420.4Q128.8 416.7 119 415.4Z" fill="#98ea63"/><path d="M137.2 412.1Q143.4 416.1 150.7 417.4Q144.5 413.3 137.2 412.1Z" fill="#cbff79"/><path d="M100.6 413.6Q104.5 415.9 108.9 414.6Q105 412.4 100.6 413.6Z" fill="#f0f85c"/><path d="M145.5 430.8Q149.8 434.8 155.5 433.5Q151.2 429.4 145.5 430.8Z" fill="#b8e44f" stroke="#5a3020" stroke-width="0.3"/></g><path d="M106.1 422Q127.7 427.7 149.9 425Q128.3 419.3 106.1 422Z" fill="#9a68ea" opacity="0.90"/><path d="M102.2 426.3Q111.6 430.5 121.8 429.7Q112.4 425.5 102.2 426.3Z" fill="#c8b0f0" opacity="0.90"/><path d="M143 435.5h1.2M136.8 435.7h1M111.6 435h1.4M134.9 435h1.5M125.7 434.6h1.7M106.7 433.1h1.4M140.6 434.5h0.9M112.3 433h1M105.5 434.3h0.7M147.1 435.5h1.8M139 435.2h0.8M128.9 434h1.1M95.7 434h1.4M122.3 434.4h0.8M127.6 435.5h1.7M118.2 435h1.1M107.2 434.8h1.5M133.9 435.6h1.4M119 434.7h0.7M118.1 434.9h1.4M107.9 433.6h1.3M117.3 435.5h0.8M131.2 434.6h1.2M147.7 436.1h0.8M138.7 435.4h0.7M126.3 435.4h1.2M130.5 435h1.1M146.5 436.4h1.1M136 436.7h1M96.7 432.9h0.6M117.3 434.9h1M108.3 434.5h1.7M123 435.5h1.1M105.1 434.5h1.6M129.5 435.1h0.9M147.7 436.3h1.6M139.6 434.8h1.3M101.7 432.9h1.6M108.7 433.1h1.1M103.4 434.2h0.9M111.8 438.7h1.1M139.9 439.5h1.7M153.9 441.5h1.7M149.2 441.3h1.4M95.1 439.4h1.4M111.7 437.7h0.9M149 439.3h1.7M149.8 441.5h1.3M150 441.5h1.5M153.1 441.1h1.2M146.8 441.4h1.3M113 437.7h1.2M99 437.1h1.2M130 440.6h0.6M153.8 440.7h1.4M153.6 440.3h1.8M100.6 438.6h0.6M138 441.1h1M163.7 440.9h1.7M97.8 438.5h1M155.1 440.5h1.2M148.4 440.1h1.1M134.4 439h1.6M123.3 438.5h1.2M163.6 441.8h1M116.8 439.2h1.4M149 441h1.7M132.3 439h0.6M109.1 438.9h1.4M151.1 440.7h1.3M139.3 440.2h1.4M110.2 438.5h1.5M101.5 436.9h1.5M159.3 440.3h1.6M150.2 439.6h1M124.2 439.1h1.4M159.5 441h0.6M103.9 438.6h1.7M125.3 439h1.3M161.6 440.7h1.1M137.4 442.3h0.8M130.1 444.4h0.7M196.8 437.4h0.8M131.7 443.1h1.5M142.2 443.3h1.5M190.3 435.9h1.4M179.6 439.6h0.9M197.9 434.8h0.6M176.2 437.5h1M180.4 439.2h1.2M133.9 443.7h1.1M176.7 439.5h1M175.4 438.6h1.1M185.9 438.6h1.3M149.6 443.1h1.4M187.6 437.7h1.8M188.4 436.8h1.1M191.9 437.4h1.3M193.3 436.2h0.6M148.3 442.2h1.6M191.2 437.9h1.6M190.8 436.4h1.6M186.9 438.8h1M136.1 444.2h0.8M183.4 437.2h1.3M177.4 437.7h0.9M183.2 437.9h0.7M187 436.7h1.3M193.6 436.9h1.2M170.6 438.4h0.8M213.9 442.7h1.1M201.9 442h1.8M192.8 444.5h1.5M180 444.8h1.2M170.4 447.4h1.6M200.8 442.9h1.5M197.7 444.7h1.6M230.2 439.8h0.8M180.6 443.7h1.3M224.8 443h1.7M174.2 445.4h0.7M230 441.4h1.4M230.6 440.9h1.1M181 446.7h0.9M171.9 445.4h1.7M227.7 440.1h1.5M215 443.9h0.7M179.6 446.6h1.4M189 445.3h0.7M189.9 443.3h1.2M180.1 444.1h1.4M171.2 445h0.6M227.9 442.7h1.6M225.3 441.4h0.7M229.2 441.7h1.1M192.1 444.2h1.4M178.4 444h1.5M204.2 444.3h0.9M195.3 443.3h1.6M190.4 444.3h1M182.5 453.7h0.7M183 451.4h1.2M139.6 453.2h1M190.4 453.3h0.7M141.1 452.8h1.5M141.5 452.7h1.6M143.1 452.5h1.6M156.2 453.2h1.7M135.4 453.3h0.8M174.4 451.8h0.7M126.3 454.7h0.9M134.6 455h1.6M160.2 451.9h1.5M149 452.4h1.6M144.1 455.1h1.2M121.9 454.9h1.6M138 455.2h1M131.2 454.8h0.6M156.3 453.5h0.7M170.7 454h1M169.5 453.6h0.7M182 452.4h1.2M211.1 453.4h1.8M195.3 454.9h0.9M224.1 452.5h1.4M193.6 456.5h1.3M211 453.7h1.6M219.2 453h1.2M209.1 453.9h1.1M191.9 457.5h0.8M213.6 453.7h1.6M230.7 453h1.6M210.5 456.2h1.5M201.1 455.2h1.1M233.7 454.3h1.6M225.6 453.7h1.7M230.3 453h1.4M202.9 454.3h1.1M116.3 461.4h1.8M130.6 463.2h1.6M135.5 461.5h1.4M106.6 461.6h1.3M136.8 462.2h1.2M114.9 461.8h1M123 462.9h1.7M117.2 462.4h1.2M100.1 461h1M112.3 461.6h0.7M119.8 462.9h1.3M123.3 463.3h1.2M218.9 464.3h1M207.7 465.3h1.1M218.9 463.8h1.6M208.2 465.3h0.9M233.2 463.9h0.8M203 465.6h0.7M213.1 465.5h0.7M208.6 466h0.8M211.2 465.5h1.3M229.5 463.5h1.5" stroke="#a85a20" stroke-width="0.8" fill="none" opacity="0.75"/><path d="M182.4 406.1L235.8 396L235.8 413.3L182.4 413.3Z" fill="#f246a5" stroke="#4a3a50" stroke-width="0.3" stroke-linejoin="round"/><path d="M91.4 372.9L132.6 372.9L139.1 381.5L147.7 389.5L130.4 384.4L111.7 380.8L91.4 380.1Z" fill="#42e45c" stroke="#4a3a50" stroke-width="0.3" stroke-linejoin="round"/><path d="M91.4 380.1L111.7 380.8L130.4 384.4L147.7 389.5L150.6 391.7L147.7 393.1L130.4 389.8L111.7 386.3L91.4 386.7Z" fill="#ee30ac" stroke="#4a3a50" stroke-width="0.3" stroke-linejoin="round"/><path d="M91.4 386.7L111.7 386.3L130.4 389.8L147.7 393.1L150.6 391.7L165.1 396.1L176.6 404.1L179.5 408.4L186.4 407.8L191.3 405.5L197.1 407.5L191.1 411L189.6 413L176.6 413.6L147.7 408.7L137.6 403.3L126.1 398.3L108.8 394L91.4 393.8Z" fill="#2626e0" stroke="#4a3a50" stroke-width="0.3" stroke-linejoin="round"/><path d="M91.4 393.8L108.8 394L126.1 398.3L137.6 403.3L147.7 408.7L142 412.2L126.1 404.8L111.7 401.2L91.4 398.2Z" fill="#20daee" stroke="#4a3a50" stroke-width="0.3" stroke-linejoin="round"/><path d="M91.4 398.2L111.7 401.2L118.9 402.9L105.9 405.2L91.4 404.4Z" fill="#ee3468" stroke="#4a3a50" stroke-width="0.3" stroke-linejoin="round"/><path d="M91.4 404.4L105.9 405.2L118.9 402.9L126.1 404.8L133.3 408.1L118.9 409L91.4 408.7Z" fill="#7846d7" stroke="#4a3a50" stroke-width="0.3" stroke-linejoin="round"/><path d="M131.9 372.9L168.7 372.9L176.6 383L182.7 388.8L170.8 390.2L157.9 387.3L143.4 385.3L139.1 381.5Z" fill="#f21e3e" stroke="#4a3a50" stroke-width="0.3" stroke-linejoin="round"/><path d="M143.4 385.3L157.9 387.3L165.1 390.5L176.6 398.9L186 404.6L186.4 407.8L179.5 408.4L176.6 404.1L165.1 396.1L150.6 391.7L147.7 389.5Z" fill="#fa982a" stroke="#4a3a50" stroke-width="0.3" stroke-linejoin="round"/><path d="M165.1 390.5L170.8 390.2L176.6 391.7L183.8 398.6L191.3 405.5L186.4 407.2L186 404.6L176.6 398.9Z" fill="#3434e0" stroke="#4a3a50" stroke-width="0.3" stroke-linejoin="round"/><path d="M176.6 391.7L170.8 390.2L182.7 388.8L191.1 390.2L201.2 398.9L204.3 404.1L197.1 407.5L191.3 405.5L183.8 398.6Z" fill="#f0328e" stroke="#4a3a50" stroke-width="0.3" stroke-linejoin="round"/><path d="M168.7 372.9L183.1 372.9L194.2 385.6L200 391.7L191.1 389.9L182.7 388.8L176.6 383Z" fill="#46e670" stroke="#4a3a50" stroke-width="0.3" stroke-linejoin="round"/><path d="M183.1 372.9L206.2 372.9L213 384.4L205.5 386.5L194.2 385.6Z" fill="#ca3ae0" stroke="#4a3a50" stroke-width="0.3" stroke-linejoin="round"/><path d="M194.2 385.6L205.5 386.5L213 384.4L219.9 393.1L224.5 400.6L209.8 393.4L197.6 389.1Z" fill="#fa96c0" stroke="#4a3a50" stroke-width="0.3" stroke-linejoin="round"/><path d="M191.1 389.9L200 391.7L197.6 389.1L209.8 393.4L224.5 400.6L228.9 403.5L228.9 406.1L217 407L205.5 401.2L201.2 398.9Z" fill="#bcf0fa" stroke="#4a3a50" stroke-width="0.3" stroke-linejoin="round"/><path d="M213 384.4L225.7 382.4L235.8 383L235.8 397.1L227.1 398.9L224.5 400.6L219.9 393.1Z" fill="#f62832" stroke="#4a3a50" stroke-width="0.3" stroke-linejoin="round"/><path d="M206.2 372.9L218.5 372.9L225.7 382.4L213 384.4Z" fill="#f2e63e" stroke="#4a3a50" stroke-width="0.3" stroke-linejoin="round"/><path d="M218.5 372.9L235.8 372.9L235.8 383L225.7 382.4Z" fill="#fa7628" stroke="#4a3a50" stroke-width="0.3" stroke-linejoin="round"/><path d="M227.1 398.9L235.8 397.1L235.8 406.4L229.3 404.9L228.9 403.5L224.5 400.6Z" fill="#9634ca" stroke="#4a3a50" stroke-width="0.3" stroke-linejoin="round"/><path d="M197.1 407.5L204.3 404.1L205.5 401.2L210.1 405.5L200 408.1Z" fill="#7052ca" stroke="#4a3a50" stroke-width="0.3" stroke-linejoin="round"/></g>
<g clip-path="url(#cp97)"><rect x="238.6" y="375" width="142.4" height="250.6" fill="url(#vg98)"/><g mask="url(#m103)"><g transform="rotate(10 310 500)"><rect x="120" y="310" width="380" height="380" filter="url(#kv5)"/></g></g><g mask="url(#m99)"><g transform="rotate(22 310 400)"><rect x="190" y="280" width="240" height="240" filter="url(#kv7)"/></g></g><g mask="url(#m101)"><g transform="rotate(-3 310 500)"><rect x="120" y="310" width="380" height="380" filter="url(#kv4)"/></g></g></g>
<g clip-path="url(#cp105)"><rect x="386" y="375" width="141.8" height="250.6" fill="url(#vg106)"/><g filter="url(#bl2)"><ellipse cx="483.2" cy="482" rx="5.1" ry="2" fill="#04686c" opacity="0.26" transform="rotate(18 483.2 482)"/><ellipse cx="435.8" cy="535.1" rx="7.1" ry="1.9" fill="#04686c" opacity="0.04" transform="rotate(18 435.8 535.1)"/><ellipse cx="400" cy="480.6" rx="5.4" ry="2" fill="#04686c" opacity="0.27" transform="rotate(18 400 480.6)"/><ellipse cx="467.4" cy="528.6" rx="8.8" ry="1.9" fill="#04686c" opacity="0.07" transform="rotate(18 467.4 528.6)"/><ellipse cx="448.4" cy="504.3" rx="9" ry="1.7" fill="#04686c" opacity="0.17" transform="rotate(18 448.4 504.3)"/><ellipse cx="461.2" cy="522.5" rx="4" ry="1.6" fill="#04686c" opacity="0.09" transform="rotate(18 461.2 522.5)"/><ellipse cx="524.7" cy="523.5" rx="6.1" ry="1.4" fill="#04686c" opacity="0.09" transform="rotate(18 524.7 523.5)"/><ellipse cx="512.8" cy="510.5" rx="7.9" ry="2.6" fill="#04686c" opacity="0.14" transform="rotate(18 512.8 510.5)"/><ellipse cx="511.9" cy="485" rx="3.9" ry="1.6" fill="#04686c" opacity="0.25" transform="rotate(18 511.9 485)"/><ellipse cx="458.5" cy="493" rx="4.1" ry="1.5" fill="#04686c" opacity="0.22" transform="rotate(18 458.5 493)"/><ellipse cx="475.3" cy="502.3" rx="5.1" ry="2.6" fill="#04686c" opacity="0.18" transform="rotate(18 475.3 502.3)"/><ellipse cx="476.3" cy="449" rx="5.5" ry="2.3" fill="#04686c" opacity="0.40" transform="rotate(18 476.3 449)"/><ellipse cx="429.5" cy="510.6" rx="3" ry="1.6" fill="#04686c" opacity="0.14" transform="rotate(18 429.5 510.6)"/><ellipse cx="505.4" cy="500.7" rx="7" ry="1.5" fill="#04686c" opacity="0.19" transform="rotate(18 505.4 500.7)"/><ellipse cx="456.6" cy="497.6" rx="4.6" ry="2.1" fill="#04686c" opacity="0.20" transform="rotate(18 456.6 497.6)"/><ellipse cx="461.4" cy="539.7" rx="6.4" ry="1.8" fill="#04686c" opacity="0.02" transform="rotate(18 461.4 539.7)"/><ellipse cx="403.2" cy="459.9" rx="7.6" ry="1.3" fill="#04686c" opacity="0.36" transform="rotate(18 403.2 459.9)"/><ellipse cx="400.2" cy="461.2" rx="6.1" ry="2.4" fill="#04686c" opacity="0.35" transform="rotate(18 400.2 461.2)"/><ellipse cx="472.9" cy="521.6" rx="3.4" ry="1.2" fill="#04686c" opacity="0.10" transform="rotate(18 472.9 521.6)"/><ellipse cx="495.3" cy="475.7" rx="7.3" ry="1.7" fill="#04686c" opacity="0.29" transform="rotate(18 495.3 475.7)"/><ellipse cx="410" cy="470.3" rx="3.6" ry="2.5" fill="#04686c" opacity="0.31" transform="rotate(18 410 470.3)"/><ellipse cx="468.6" cy="478.1" rx="5.7" ry="1.7" fill="#04686c" opacity="0.28" transform="rotate(18 468.6 478.1)"/><ellipse cx="393.8" cy="529.6" rx="6.5" ry="2.5" fill="#04686c" opacity="0.06" transform="rotate(18 393.8 529.6)"/><ellipse cx="448.3" cy="503.9" rx="4.5" ry="1.3" fill="#04686c" opacity="0.17" transform="rotate(18 448.3 503.9)"/><ellipse cx="518" cy="526.2" rx="4.9" ry="2.5" fill="#04686c" opacity="0.08" transform="rotate(18 518 526.2)"/><ellipse cx="501.7" cy="473.8" rx="6.6" ry="2.5" fill="#04686c" opacity="0.30" transform="rotate(18 501.7 473.8)"/><ellipse cx="456.3" cy="535.2" rx="4.5" ry="1.7" fill="#04686c" opacity="0.04" transform="rotate(18 456.3 535.2)"/><ellipse cx="487.9" cy="466" rx="4.9" ry="2.4" fill="#04686c" opacity="0.33" transform="rotate(18 487.9 466)"/><ellipse cx="454.7" cy="520.3" rx="4.5" ry="1.4" fill="#04686c" opacity="0.10" transform="rotate(18 454.7 520.3)"/><ellipse cx="436.8" cy="462.7" rx="8.8" ry="1.6" fill="#04686c" opacity="0.35" transform="rotate(18 436.8 462.7)"/><ellipse cx="465.6" cy="455.9" rx="6.2" ry="1.7" fill="#04686c" opacity="0.37" transform="rotate(18 465.6 455.9)"/><ellipse cx="443.2" cy="451.2" rx="3.7" ry="2.4" fill="#04686c" opacity="0.39" transform="rotate(18 443.2 451.2)"/><ellipse cx="435.8" cy="468.3" rx="4.1" ry="1.6" fill="#04686c" opacity="0.32" transform="rotate(18 435.8 468.3)"/><ellipse cx="419.6" cy="448.3" rx="7" ry="1.7" fill="#04686c" opacity="0.41" transform="rotate(18 419.6 448.3)"/><ellipse cx="408.1" cy="512.1" rx="3.6" ry="1.6" fill="#04686c" opacity="0.14" transform="rotate(18 408.1 512.1)"/><ellipse cx="504.4" cy="457.1" rx="5.7" ry="2.4" fill="#04686c" opacity="0.37" transform="rotate(18 504.4 457.1)"/><ellipse cx="500.1" cy="460.1" rx="5.1" ry="2.2" fill="#04686c" opacity="0.36" transform="rotate(18 500.1 460.1)"/><ellipse cx="439.4" cy="536" rx="4.2" ry="2.5" fill="#04686c" opacity="0.04" transform="rotate(18 439.4 536)"/><ellipse cx="457.6" cy="466.6" rx="5.7" ry="1.4" fill="#04686c" opacity="0.33" transform="rotate(18 457.6 466.6)"/><ellipse cx="486.2" cy="469.8" rx="8.4" ry="2" fill="#04686c" opacity="0.32" transform="rotate(18 486.2 469.8)"/></g><g filter="url(#bl4)"><ellipse cx="412" cy="570" rx="70" ry="20" fill="#e4ffff" opacity="0.85" transform="rotate(-58 412 570)"/><ellipse cx="392" cy="600" rx="22" ry="30" fill="#f0ffff" opacity="0.7"/></g><g filter="url(#bl3)" opacity="0.4"><ellipse cx="427.1" cy="529.6" rx="18.5" ry="3.9" fill="#d0fcff" transform="rotate(-35 427.1 529.6)"/><ellipse cx="483.5" cy="514.7" rx="17.2" ry="5.2" fill="#d0fcff" transform="rotate(-35 483.5 514.7)"/><ellipse cx="416.2" cy="592.6" rx="15.4" ry="5.6" fill="#d0fcff" transform="rotate(-35 416.2 592.6)"/><ellipse cx="449.5" cy="537.3" rx="15.5" ry="3.3" fill="#d0fcff" transform="rotate(-35 449.5 537.3)"/><ellipse cx="405.8" cy="602.1" rx="14.5" ry="5.7" fill="#d0fcff" transform="rotate(-35 405.8 602.1)"/><ellipse cx="398.2" cy="567.4" rx="15.1" ry="5" fill="#d0fcff" transform="rotate(-35 398.2 567.4)"/><ellipse cx="419.2" cy="507.9" rx="14.4" ry="3.9" fill="#d0fcff" transform="rotate(-35 419.2 507.9)"/><ellipse cx="400.1" cy="586" rx="14" ry="4.6" fill="#d0fcff" transform="rotate(-35 400.1 586)"/><ellipse cx="487.6" cy="593" rx="22.4" ry="6.4" fill="#d0fcff" transform="rotate(-35 487.6 593)"/><ellipse cx="400.8" cy="533.2" rx="10.4" ry="5.7" fill="#d0fcff" transform="rotate(-35 400.8 533.2)"/><ellipse cx="460.2" cy="542.2" rx="15.8" ry="5.6" fill="#d0fcff" transform="rotate(-35 460.2 542.2)"/><ellipse cx="464.2" cy="529.8" rx="21.9" ry="4.4" fill="#d0fcff" transform="rotate(-35 464.2 529.8)"/><ellipse cx="456.3" cy="521.8" rx="11.6" ry="6.7" fill="#d0fcff" transform="rotate(-35 456.3 521.8)"/><ellipse cx="468.1" cy="585.5" rx="10.6" ry="3.2" fill="#d0fcff" transform="rotate(-35 468.1 585.5)"/></g><rect x="386" y="372" width="141.8" height="10" fill="#040707" opacity="0.75" filter="url(#bl2)"/><g transform="rotate(18 457 500)"><rect x="267" y="310" width="380" height="380" fill="url(#dg107)" filter="url(#fl1)"/></g><g transform="rotate(14 457 500)"><rect x="267" y="310" width="380" height="380" fill="url(#dg108)" filter="url(#fl4)"/></g><g transform="rotate(18 457 500)"><rect x="267" y="310" width="380" height="380" fill="url(#dg109)" filter="url(#fl2)"/></g><g transform="rotate(18 457 500)"><rect x="267" y="310" width="380" height="380" fill="url(#dg110)" filter="url(#fl3)"/></g></g>
<path d="M521.5 375.5L522.5 368L524 361L525.5 366L527.5 370L527.8 375.5Z" fill="#0a0a0a"/>
<rect x="163.8" y="255.9" width="70.6" height="56.5" fill="#fff"/>
<g clip-path="url(#kc111)"><g filter="url(#bl1k)"><rect x="201.8" y="260.9" width="2.9" height="2.9" fill="#7000ff"/><rect x="204.3" y="260.9" width="2.9" height="2.9" fill="#5f00ff"/><rect x="206.8" y="260.9" width="2.9" height="2.9" fill="#4c00ff"/><rect x="209.3" y="260.9" width="2.9" height="2.9" fill="#3400ff"/><rect x="211.8" y="260.9" width="2.9" height="2.9" fill="#0000ff"/><rect x="214.3" y="260.9" width="2.9" height="2.9" fill="#0000ff"/><rect x="216.8" y="260.9" width="2.9" height="2.9" fill="#002cff"/><rect x="219.3" y="260.9" width="2.9" height="2.9" fill="#0046ff"/><rect x="221.8" y="260.9" width="2.9" height="2.9" fill="#005aff"/><rect x="224.3" y="260.9" width="2.9" height="2.9" fill="#006bff"/><rect x="199.3" y="263.4" width="2.9" height="2.9" fill="#8600ff"/><rect x="201.8" y="263.4" width="2.9" height="2.9" fill="#7700ff"/><rect x="204.3" y="263.4" width="2.9" height="2.9" fill="#6600ff"/><rect x="206.8" y="263.4" width="2.9" height="2.9" fill="#5300ff"/><rect x="209.3" y="263.4" width="2.9" height="2.9" fill="#3b00ff"/><rect x="211.8" y="263.4" width="2.9" height="2.9" fill="#1400ff"/><rect x="214.3" y="263.4" width="2.9" height="2.9" fill="#002dff"/><rect x="216.8" y="263.4" width="2.9" height="2.9" fill="#0049ff"/><rect x="219.3" y="263.4" width="2.9" height="2.9" fill="#005eff"/><rect x="221.8" y="263.4" width="2.9" height="2.9" fill="#0070ff"/><rect x="224.3" y="263.4" width="2.9" height="2.9" fill="#007fff"/><rect x="196.8" y="265.9" width="2.9" height="2.9" fill="#9c00ff"/><rect x="199.3" y="265.9" width="2.9" height="2.9" fill="#8e00ff"/><rect x="201.8" y="265.9" width="2.9" height="2.9" fill="#7e00ff"/><rect x="204.3" y="265.9" width="2.9" height="2.9" fill="#6d00ff"/><rect x="206.8" y="265.9" width="2.9" height="2.9" fill="#5a00ff"/><rect x="209.3" y="265.9" width="2.9" height="2.9" fill="#4200ff"/><rect x="211.8" y="265.9" width="2.9" height="2.9" fill="#1f2fff"/><rect x="214.3" y="265.9" width="2.9" height="2.9" fill="#004cff"/><rect x="216.8" y="265.9" width="2.9" height="2.9" fill="#0062ff"/><rect x="219.3" y="265.9" width="2.9" height="2.9" fill="#0074ff"/><rect x="221.8" y="265.9" width="2.9" height="2.9" fill="#0084ff"/><rect x="224.3" y="265.9" width="2.9" height="2.9" fill="#0093ff"/><rect x="226.8" y="265.9" width="2.9" height="2.9" fill="#00a1ff"/><rect x="194.3" y="268.4" width="2.9" height="2.9" fill="#b300ff"/><rect x="196.8" y="268.4" width="2.9" height="2.9" fill="#a500ff"/><rect x="199.3" y="268.4" width="2.9" height="2.9" fill="#9700ff"/><rect x="201.8" y="268.4" width="2.9" height="2.9" fill="#8700ff"/><rect x="204.3" y="268.4" width="2.9" height="2.9" fill="#7600ff"/><rect x="206.8" y="268.4" width="2.9" height="2.9" fill="#6200ff"/><rect x="209.3" y="268.4" width="2.9" height="2.9" fill="#4a31ff"/><rect x="211.8" y="268.4" width="2.9" height="2.9" fill="#294fff"/><rect x="214.3" y="268.4" width="2.9" height="2.9" fill="#0066ff"/><rect x="216.8" y="268.4" width="2.9" height="2.9" fill="#0079ff"/><rect x="219.3" y="268.4" width="2.9" height="2.9" fill="#008aff"/><rect x="221.8" y="268.4" width="2.9" height="2.9" fill="#009aff"/><rect x="224.3" y="268.4" width="2.9" height="2.9" fill="#00a8ff"/><rect x="226.8" y="268.4" width="2.9" height="2.9" fill="#00b5ff"/><rect x="191.8" y="270.9" width="2.9" height="2.9" fill="#cb00ff"/><rect x="194.3" y="270.9" width="2.9" height="2.9" fill="#be00ff"/><rect x="196.8" y="270.9" width="2.9" height="2.9" fill="#b000ff"/><rect x="199.3" y="270.9" width="2.9" height="2.9" fill="#a100ff"/><rect x="201.8" y="270.9" width="2.9" height="2.9" fill="#9100ff"/><rect x="204.3" y="270.9" width="2.9" height="2.9" fill="#7f00ff"/><rect x="206.8" y="270.9" width="2.9" height="2.9" fill="#6b34ff"/><rect x="209.3" y="270.9" width="2.9" height="2.9" fill="#5353ff"/><rect x="211.8" y="270.9" width="2.9" height="2.9" fill="#336bff"/><rect x="214.3" y="270.9" width="2.9" height="2.9" fill="#007fff"/><rect x="216.8" y="270.9" width="2.9" height="2.9" fill="#0091ff"/><rect x="219.3" y="270.9" width="2.9" height="2.9" fill="#00a1ff"/><rect x="221.8" y="270.9" width="2.9" height="2.9" fill="#00b0ff"/><rect x="224.3" y="270.9" width="2.9" height="2.9" fill="#00beff"/><rect x="226.8" y="270.9" width="2.9" height="2.9" fill="#00cbff"/><rect x="189.3" y="273.4" width="2.9" height="2.9" fill="#e500ff"/><rect x="191.8" y="273.4" width="2.9" height="2.9" fill="#d800ff"/><rect x="194.3" y="273.4" width="2.9" height="2.9" fill="#ca00ff"/><rect x="196.8" y="273.4" width="2.9" height="2.9" fill="#bc00ff"/><rect x="199.3" y="273.4" width="2.9" height="2.9" fill="#ac00ff"/><rect x="201.8" y="273.4" width="2.9" height="2.9" fill="#9b00ff"/><rect x="204.3" y="273.4" width="2.9" height="2.9" fill="#8936ff"/><rect x="206.8" y="273.4" width="2.9" height="2.9" fill="#7458ff"/><rect x="209.3" y="273.4" width="2.9" height="2.9" fill="#5c71ff"/><rect x="211.8" y="273.4" width="2.9" height="2.9" fill="#3d86ff"/><rect x="214.3" y="273.4" width="2.9" height="2.9" fill="#0099ff"/><rect x="216.8" y="273.4" width="2.9" height="2.9" fill="#00aaff"/><rect x="219.3" y="273.4" width="2.9" height="2.9" fill="#00b9ff"/><rect x="221.8" y="273.4" width="2.9" height="2.9" fill="#00c8ff"/><rect x="224.3" y="273.4" width="2.9" height="2.9" fill="#00d6ff"/><rect x="226.8" y="273.4" width="2.9" height="2.9" fill="#00e3ff"/><rect x="186.8" y="275.9" width="2.9" height="2.9" fill="#ff00fc"/><rect x="189.3" y="275.9" width="2.9" height="2.9" fill="#f500ff"/><rect x="191.8" y="275.9" width="2.9" height="2.9" fill="#e700ff"/><rect x="194.3" y="275.9" width="2.9" height="2.9" fill="#d900ff"/><rect x="196.8" y="275.9" width="2.9" height="2.9" fill="#ca00ff"/><rect x="199.3" y="275.9" width="2.9" height="2.9" fill="#b900ff"/><rect x="201.8" y="275.9" width="2.9" height="2.9" fill="#a839ff"/><rect x="204.3" y="275.9" width="2.9" height="2.9" fill="#955dff"/><rect x="206.8" y="275.9" width="2.9" height="2.9" fill="#7f77ff"/><rect x="209.3" y="275.9" width="2.9" height="2.9" fill="#668eff"/><rect x="211.8" y="275.9" width="2.9" height="2.9" fill="#47a2ff"/><rect x="214.3" y="275.9" width="2.9" height="2.9" fill="#0eb4ff"/><rect x="216.8" y="275.9" width="2.9" height="2.9" fill="#00c4ff"/><rect x="219.3" y="275.9" width="2.9" height="2.9" fill="#00d4ff"/><rect x="221.8" y="275.9" width="2.9" height="2.9" fill="#00e2ff"/><rect x="224.3" y="275.9" width="2.9" height="2.9" fill="#00f0ff"/><rect x="226.8" y="275.9" width="2.9" height="2.9" fill="#00feff"/><rect x="184.3" y="278.4" width="2.9" height="2.9" fill="#ff00e0"/><rect x="186.8" y="278.4" width="2.9" height="2.9" fill="#ff00ea"/><rect x="189.3" y="278.4" width="2.9" height="2.9" fill="#ff00f7"/><rect x="191.8" y="278.4" width="2.9" height="2.9" fill="#f900ff"/><rect x="194.3" y="278.4" width="2.9" height="2.9" fill="#ea00ff"/><rect x="196.8" y="278.4" width="2.9" height="2.9" fill="#da00ff"/><rect x="199.3" y="278.4" width="2.9" height="2.9" fill="#c93dff"/><rect x="201.8" y="278.4" width="2.9" height="2.9" fill="#b663ff"/><rect x="204.3" y="278.4" width="2.9" height="2.9" fill="#a27fff"/><rect x="206.8" y="278.4" width="2.9" height="2.9" fill="#8c97ff"/><rect x="209.3" y="278.4" width="2.9" height="2.9" fill="#72acff"/><rect x="211.8" y="278.4" width="2.9" height="2.9" fill="#52bfff"/><rect x="214.3" y="278.4" width="2.9" height="2.9" fill="#21d1ff"/><rect x="216.8" y="278.4" width="2.9" height="2.9" fill="#00e2ff"/><rect x="219.3" y="278.4" width="2.9" height="2.9" fill="#00f1ff"/><rect x="221.8" y="278.4" width="2.9" height="2.9" fill="#00fffe"/><rect x="224.3" y="278.4" width="2.9" height="2.9" fill="#00fff1"/><rect x="226.8" y="278.4" width="2.9" height="2.9" fill="#00ffe5"/><rect x="181.8" y="280.9" width="2.9" height="2.9" fill="#ff00c6"/><rect x="184.3" y="280.9" width="2.9" height="2.9" fill="#ff00cf"/><rect x="186.8" y="280.9" width="2.9" height="2.9" fill="#ff00d8"/><rect x="189.3" y="280.9" width="2.9" height="2.9" fill="#ff00e4"/><rect x="191.8" y="280.9" width="2.9" height="2.9" fill="#ff00f1"/><rect x="194.3" y="280.9" width="2.9" height="2.9" fill="#fe00ff"/><rect x="196.8" y="280.9" width="2.9" height="2.9" fill="#ed42ff"/><rect x="199.3" y="280.9" width="2.9" height="2.9" fill="#db6aff"/><rect x="201.8" y="280.9" width="2.9" height="2.9" fill="#c789ff"/><rect x="204.3" y="280.9" width="2.9" height="2.9" fill="#b2a2ff"/><rect x="206.8" y="280.9" width="2.9" height="2.9" fill="#9bb9ff"/><rect x="209.3" y="280.9" width="2.9" height="2.9" fill="#80ceff"/><rect x="211.8" y="280.9" width="2.9" height="2.9" fill="#5fe1ff"/><rect x="214.3" y="280.9" width="2.9" height="2.9" fill="#31f2ff"/><rect x="216.8" y="280.9" width="2.9" height="2.9" fill="#00fffb"/><rect x="219.3" y="280.9" width="2.9" height="2.9" fill="#00ffec"/><rect x="221.8" y="280.9" width="2.9" height="2.9" fill="#00ffe0"/><rect x="224.3" y="280.9" width="2.9" height="2.9" fill="#00ffd5"/><rect x="226.8" y="280.9" width="2.9" height="2.9" fill="#00ffcc"/><rect x="179.3" y="283.4" width="2.9" height="2.9" fill="#ff00ae"/><rect x="181.8" y="283.4" width="2.9" height="2.9" fill="#ff00b5"/><rect x="184.3" y="283.4" width="2.9" height="2.9" fill="#ff00bd"/><rect x="186.8" y="283.4" width="2.9" height="2.9" fill="#ff00c6"/><rect x="189.3" y="283.4" width="2.9" height="2.9" fill="#ff00d0"/><rect x="191.8" y="283.4" width="2.9" height="2.9" fill="#ff00db"/><rect x="194.3" y="283.4" width="2.9" height="2.9" fill="#ff41e9"/><rect x="196.8" y="283.4" width="2.9" height="2.9" fill="#ff71f9"/><rect x="199.3" y="283.4" width="2.9" height="2.9" fill="#f194ff"/><rect x="201.8" y="283.4" width="2.9" height="2.9" fill="#ddb0ff"/><rect x="204.3" y="283.4" width="2.9" height="2.9" fill="#c6c9ff"/><rect x="206.8" y="283.4" width="2.9" height="2.9" fill="#addfff"/><rect x="209.3" y="283.4" width="2.9" height="2.9" fill="#90f4ff"/><rect x="211.8" y="283.4" width="2.9" height="2.9" fill="#6bfff7"/><rect x="214.3" y="283.4" width="2.9" height="2.9" fill="#3affe7"/><rect x="216.8" y="283.4" width="2.9" height="2.9" fill="#00ffda"/><rect x="219.3" y="283.4" width="2.9" height="2.9" fill="#00ffce"/><rect x="221.8" y="283.4" width="2.9" height="2.9" fill="#00ffc4"/><rect x="224.3" y="283.4" width="2.9" height="2.9" fill="#00ffbc"/><rect x="226.8" y="283.4" width="2.9" height="2.9" fill="#00ffb4"/><rect x="176.8" y="285.9" width="2.9" height="2.9" fill="#ff0097"/><rect x="179.3" y="285.9" width="2.9" height="2.9" fill="#ff009d"/><rect x="181.8" y="285.9" width="2.9" height="2.9" fill="#ff00a3"/><rect x="184.3" y="285.9" width="2.9" height="2.9" fill="#ff00aa"/><rect x="186.8" y="285.9" width="2.9" height="2.9" fill="#ff00b2"/><rect x="189.3" y="285.9" width="2.9" height="2.9" fill="#ff00bb"/><rect x="191.8" y="285.9" width="2.9" height="2.9" fill="#ff3dc5"/><rect x="194.3" y="285.9" width="2.9" height="2.9" fill="#ff68d1"/><rect x="196.8" y="285.9" width="2.9" height="2.9" fill="#ff8fdf"/><rect x="199.3" y="285.9" width="2.9" height="2.9" fill="#ffb7f1"/><rect x="201.8" y="285.9" width="2.9" height="2.9" fill="#f7ddff"/><rect x="204.3" y="285.9" width="2.9" height="2.9" fill="#dff6ff"/><rect x="206.8" y="285.9" width="2.9" height="2.9" fill="#bafff2"/><rect x="209.3" y="285.9" width="2.9" height="2.9" fill="#91ffe0"/><rect x="211.8" y="285.9" width="2.9" height="2.9" fill="#6affd2"/><rect x="214.3" y="285.9" width="2.9" height="2.9" fill="#3fffc5"/><rect x="216.8" y="285.9" width="2.9" height="2.9" fill="#00ffbb"/><rect x="219.3" y="285.9" width="2.9" height="2.9" fill="#00ffb2"/><rect x="221.8" y="285.9" width="2.9" height="2.9" fill="#00ffaa"/><rect x="224.3" y="285.9" width="2.9" height="2.9" fill="#00ffa3"/><rect x="226.8" y="285.9" width="2.9" height="2.9" fill="#00ff9d"/><rect x="174.3" y="288.4" width="2.9" height="2.9" fill="#ff0081"/><rect x="176.8" y="288.4" width="2.9" height="2.9" fill="#ff0086"/><rect x="179.3" y="288.4" width="2.9" height="2.9" fill="#ff008a"/><rect x="181.8" y="288.4" width="2.9" height="2.9" fill="#ff0090"/><rect x="184.3" y="288.4" width="2.9" height="2.9" fill="#ff0096"/><rect x="186.8" y="288.4" width="2.9" height="2.9" fill="#ff009d"/><rect x="189.3" y="288.4" width="2.9" height="2.9" fill="#ff39a4"/><rect x="191.8" y="288.4" width="2.9" height="2.9" fill="#ff61ad"/><rect x="194.3" y="288.4" width="2.9" height="2.9" fill="#ff84b8"/><rect x="196.8" y="288.4" width="2.9" height="2.9" fill="#ffa8c4"/><rect x="199.3" y="288.4" width="2.9" height="2.9" fill="#ffced3"/><rect x="201.8" y="288.4" width="2.9" height="2.9" fill="#fff9e6"/><rect x="204.3" y="288.4" width="2.9" height="2.9" fill="#d8ffd7"/><rect x="206.8" y="288.4" width="2.9" height="2.9" fill="#b0ffc7"/><rect x="209.3" y="288.4" width="2.9" height="2.9" fill="#8dffba"/><rect x="211.8" y="288.4" width="2.9" height="2.9" fill="#69ffb0"/><rect x="214.3" y="288.4" width="2.9" height="2.9" fill="#43ffa6"/><rect x="216.8" y="288.4" width="2.9" height="2.9" fill="#00ff9e"/><rect x="219.3" y="288.4" width="2.9" height="2.9" fill="#00ff97"/><rect x="221.8" y="288.4" width="2.9" height="2.9" fill="#00ff91"/><rect x="224.3" y="288.4" width="2.9" height="2.9" fill="#00ff8c"/><rect x="226.8" y="288.4" width="2.9" height="2.9" fill="#00ff87"/><rect x="174.3" y="290.9" width="2.9" height="2.9" fill="#ff006f"/><rect x="176.8" y="290.9" width="2.9" height="2.9" fill="#ff0072"/><rect x="179.3" y="290.9" width="2.9" height="2.9" fill="#ff0076"/><rect x="181.8" y="290.9" width="2.9" height="2.9" fill="#ff007b"/><rect x="184.3" y="290.9" width="2.9" height="2.9" fill="#ff0080"/><rect x="186.8" y="290.9" width="2.9" height="2.9" fill="#ff3686"/><rect x="189.3" y="290.9" width="2.9" height="2.9" fill="#ff5b8c"/><rect x="191.8" y="290.9" width="2.9" height="2.9" fill="#ff7c94"/><rect x="194.3" y="290.9" width="2.9" height="2.9" fill="#ff9c9c"/><rect x="196.8" y="290.9" width="2.9" height="2.9" fill="#ffbda7"/><rect x="199.3" y="290.9" width="2.9" height="2.9" fill="#ffe2b3"/><rect x="201.8" y="290.9" width="2.9" height="2.9" fill="#f2ffb9"/><rect x="204.3" y="290.9" width="2.9" height="2.9" fill="#ccffab"/><rect x="206.8" y="290.9" width="2.9" height="2.9" fill="#a9ffa0"/><rect x="209.3" y="290.9" width="2.9" height="2.9" fill="#89ff97"/><rect x="211.8" y="290.9" width="2.9" height="2.9" fill="#69ff8f"/><rect x="214.3" y="290.9" width="2.9" height="2.9" fill="#46ff88"/><rect x="216.8" y="290.9" width="2.9" height="2.9" fill="#15ff82"/><rect x="219.3" y="290.9" width="2.9" height="2.9" fill="#00ff7d"/><rect x="221.8" y="290.9" width="2.9" height="2.9" fill="#00ff78"/><rect x="224.3" y="290.9" width="2.9" height="2.9" fill="#00ff74"/><rect x="226.8" y="290.9" width="2.9" height="2.9" fill="#00ff70"/><rect x="174.3" y="293.4" width="2.9" height="2.9" fill="#ff0059"/><rect x="176.8" y="293.4" width="2.9" height="2.9" fill="#ff005c"/><rect x="179.3" y="293.4" width="2.9" height="2.9" fill="#ff0060"/><rect x="181.8" y="293.4" width="2.9" height="2.9" fill="#ff0063"/><rect x="184.3" y="293.4" width="2.9" height="2.9" fill="#ff3367"/><rect x="186.8" y="293.4" width="2.9" height="2.9" fill="#ff566c"/><rect x="189.3" y="293.4" width="2.9" height="2.9" fill="#ff7471"/><rect x="191.8" y="293.4" width="2.9" height="2.9" fill="#ff9277"/><rect x="194.3" y="293.4" width="2.9" height="2.9" fill="#ffb07e"/><rect x="196.8" y="293.4" width="2.9" height="2.9" fill="#ffd086"/><rect x="199.3" y="293.4" width="2.9" height="2.9" fill="#fff390"/><rect x="201.8" y="293.4" width="2.9" height="2.9" fill="#e4ff8b"/><rect x="204.3" y="293.4" width="2.9" height="2.9" fill="#c2ff82"/><rect x="206.8" y="293.4" width="2.9" height="2.9" fill="#a3ff7b"/><rect x="209.3" y="293.4" width="2.9" height="2.9" fill="#86ff74"/><rect x="211.8" y="293.4" width="2.9" height="2.9" fill="#68ff6f"/><rect x="214.3" y="293.4" width="2.9" height="2.9" fill="#49ff6a"/><rect x="216.8" y="293.4" width="2.9" height="2.9" fill="#20ff66"/><rect x="219.3" y="293.4" width="2.9" height="2.9" fill="#00ff62"/><rect x="221.8" y="293.4" width="2.9" height="2.9" fill="#00ff5e"/><rect x="224.3" y="293.4" width="2.9" height="2.9" fill="#00ff5b"/><rect x="226.8" y="293.4" width="2.9" height="2.9" fill="#00ff58"/><rect x="174.3" y="295.9" width="2.9" height="2.9" fill="#ff003f"/><rect x="176.8" y="295.9" width="2.9" height="2.9" fill="#ff0041"/><rect x="179.3" y="295.9" width="2.9" height="2.9" fill="#ff0044"/><rect x="181.8" y="295.9" width="2.9" height="2.9" fill="#ff3146"/><rect x="184.3" y="295.9" width="2.9" height="2.9" fill="#ff5249"/><rect x="186.8" y="295.9" width="2.9" height="2.9" fill="#ff6e4c"/><rect x="189.3" y="295.9" width="2.9" height="2.9" fill="#ff8950"/><rect x="191.8" y="295.9" width="2.9" height="2.9" fill="#ffa454"/><rect x="194.3" y="295.9" width="2.9" height="2.9" fill="#ffc159"/><rect x="196.8" y="295.9" width="2.9" height="2.9" fill="#ffe05e"/><rect x="199.3" y="295.9" width="2.9" height="2.9" fill="#fbff63"/><rect x="201.8" y="295.9" width="2.9" height="2.9" fill="#d9ff5d"/><rect x="204.3" y="295.9" width="2.9" height="2.9" fill="#baff58"/><rect x="206.8" y="295.9" width="2.9" height="2.9" fill="#9eff53"/><rect x="209.3" y="295.9" width="2.9" height="2.9" fill="#83ff4f"/><rect x="211.8" y="295.9" width="2.9" height="2.9" fill="#68ff4b"/><rect x="214.3" y="295.9" width="2.9" height="2.9" fill="#4bff48"/><rect x="216.8" y="295.9" width="2.9" height="2.9" fill="#27ff46"/><rect x="219.3" y="295.9" width="2.9" height="2.9" fill="#00ff43"/><rect x="221.8" y="295.9" width="2.9" height="2.9" fill="#00ff41"/><rect x="224.3" y="295.9" width="2.9" height="2.9" fill="#00ff3f"/><rect x="226.8" y="295.9" width="2.9" height="2.9" fill="#00ff3d"/><rect x="174.3" y="298.4" width="2.9" height="2.9" fill="#ff0016"/><rect x="176.8" y="298.4" width="2.9" height="2.9" fill="#ff0017"/><rect x="179.3" y="298.4" width="2.9" height="2.9" fill="#ff2f18"/><rect x="181.8" y="298.4" width="2.9" height="2.9" fill="#ff4e19"/><rect x="184.3" y="298.4" width="2.9" height="2.9" fill="#ff691a"/><rect x="186.8" y="298.4" width="2.9" height="2.9" fill="#ff821b"/><rect x="189.3" y="298.4" width="2.9" height="2.9" fill="#ff9b1c"/><rect x="191.8" y="298.4" width="2.9" height="2.9" fill="#ffb51e"/><rect x="194.3" y="298.4" width="2.9" height="2.9" fill="#ffd11f"/><rect x="196.8" y="298.4" width="2.9" height="2.9" fill="#ffef21"/><rect x="199.3" y="298.4" width="2.9" height="2.9" fill="#eeff21"/><rect x="201.8" y="298.4" width="2.9" height="2.9" fill="#cfff1f"/><rect x="204.3" y="298.4" width="2.9" height="2.9" fill="#b4ff1d"/><rect x="206.8" y="298.4" width="2.9" height="2.9" fill="#9aff1c"/><rect x="209.3" y="298.4" width="2.9" height="2.9" fill="#81ff1b"/><rect x="211.8" y="298.4" width="2.9" height="2.9" fill="#68ff1a"/><rect x="214.3" y="298.4" width="2.9" height="2.9" fill="#4dff19"/><rect x="216.8" y="298.4" width="2.9" height="2.9" fill="#2dff18"/><rect x="219.3" y="298.4" width="2.9" height="2.9" fill="#00ff17"/><rect x="221.8" y="298.4" width="2.9" height="2.9" fill="#00ff16"/><rect x="224.3" y="298.4" width="2.9" height="2.9" fill="#00ff16"/><rect x="226.8" y="298.4" width="2.9" height="2.9" fill="#00ff15"/><rect x="174.3" y="300.9" width="2.9" height="2.9" fill="#ff0000"/><rect x="176.8" y="300.9" width="2.9" height="2.9" fill="#ff2d00"/><rect x="179.3" y="300.9" width="2.9" height="2.9" fill="#ff4b00"/><rect x="181.8" y="300.9" width="2.9" height="2.9" fill="#ff6400"/><rect x="184.3" y="300.9" width="2.9" height="2.9" fill="#ff7c00"/><rect x="186.8" y="300.9" width="2.9" height="2.9" fill="#ff9300"/><rect x="189.3" y="300.9" width="2.9" height="2.9" fill="#ffab00"/><rect x="191.8" y="300.9" width="2.9" height="2.9" fill="#ffc400"/><rect x="194.3" y="300.9" width="2.9" height="2.9" fill="#ffdf00"/><rect x="196.8" y="300.9" width="2.9" height="2.9" fill="#fffd00"/><rect x="199.3" y="300.9" width="2.9" height="2.9" fill="#e3ff00"/><rect x="201.8" y="300.9" width="2.9" height="2.9" fill="#c7ff00"/><rect x="204.3" y="300.9" width="2.9" height="2.9" fill="#aeff00"/><rect x="206.8" y="300.9" width="2.9" height="2.9" fill="#96ff00"/><rect x="209.3" y="300.9" width="2.9" height="2.9" fill="#7fff00"/><rect x="211.8" y="300.9" width="2.9" height="2.9" fill="#67ff00"/><rect x="214.3" y="300.9" width="2.9" height="2.9" fill="#4fff00"/><rect x="216.8" y="300.9" width="2.9" height="2.9" fill="#31ff00"/><rect x="219.3" y="300.9" width="2.9" height="2.9" fill="#00ff00"/><rect x="221.8" y="300.9" width="2.9" height="2.9" fill="#00ff00"/><rect x="224.3" y="300.9" width="2.9" height="2.9" fill="#00ff00"/><rect x="226.8" y="300.9" width="2.9" height="2.9" fill="#00ff00"/><rect x="174.3" y="303.4" width="2.9" height="2.9" fill="#ff2b00"/><rect x="176.8" y="303.4" width="2.9" height="2.9" fill="#ff4800"/><rect x="179.3" y="303.4" width="2.9" height="2.9" fill="#ff6000"/><rect x="181.8" y="303.4" width="2.9" height="2.9" fill="#ff7600"/><rect x="184.3" y="303.4" width="2.9" height="2.9" fill="#ff8c00"/><rect x="186.8" y="303.4" width="2.9" height="2.9" fill="#ffa200"/><rect x="189.3" y="303.4" width="2.9" height="2.9" fill="#ffb900"/><rect x="191.8" y="303.4" width="2.9" height="2.9" fill="#ffd200"/><rect x="194.3" y="303.4" width="2.9" height="2.9" fill="#ffec00"/><rect x="196.8" y="303.4" width="2.9" height="2.9" fill="#f5ff00"/><rect x="199.3" y="303.4" width="2.9" height="2.9" fill="#d9ff00"/><rect x="201.8" y="303.4" width="2.9" height="2.9" fill="#c0ff00"/><rect x="204.3" y="303.4" width="2.9" height="2.9" fill="#a9ff00"/><rect x="206.8" y="303.4" width="2.9" height="2.9" fill="#93ff00"/><rect x="209.3" y="303.4" width="2.9" height="2.9" fill="#7dff00"/><rect x="211.8" y="303.4" width="2.9" height="2.9" fill="#67ff00"/><rect x="214.3" y="303.4" width="2.9" height="2.9" fill="#50ff00"/><rect x="216.8" y="303.4" width="2.9" height="2.9" fill="#35ff00"/><rect x="219.3" y="303.4" width="2.9" height="2.9" fill="#07ff00"/><rect x="221.8" y="303.4" width="2.9" height="2.9" fill="#00ff00"/><rect x="224.3" y="303.4" width="2.9" height="2.9" fill="#00ff00"/><rect x="226.8" y="303.4" width="2.9" height="2.9" fill="#00ff00"/></g></g>
<text x="217.4" y="267.8" font-size="10.5" textLength="14.2" lengthAdjust="spacingAndGlyphs">111</text>
<text x="170" y="312.6" font-size="10.5" textLength="14.5" lengthAdjust="spacingAndGlyphs">001</text>
<text x="221.1" y="312.6" font-size="10.5" textLength="14.5" lengthAdjust="spacingAndGlyphs">101</text>
<rect x="165" y="570.3" width="70" height="55.5" fill="#fff"/>
<g clip-path="url(#kc112)"><g filter="url(#bl1k)"><rect x="202.3" y="575.7" width="2.9" height="2.9" fill="#7400ff"/><rect x="204.8" y="575.7" width="2.9" height="2.9" fill="#6400ff"/><rect x="207.3" y="575.7" width="2.9" height="2.9" fill="#5200ff"/><rect x="209.8" y="575.7" width="2.9" height="2.9" fill="#3c00ff"/><rect x="212.3" y="575.7" width="2.9" height="2.9" fill="#1a00ff"/><rect x="214.8" y="575.7" width="2.9" height="2.9" fill="#0000ff"/><rect x="217.3" y="575.7" width="2.9" height="2.9" fill="#0020ff"/><rect x="219.8" y="575.7" width="2.9" height="2.9" fill="#003fff"/><rect x="222.3" y="575.7" width="2.9" height="2.9" fill="#0055ff"/><rect x="224.8" y="575.7" width="2.9" height="2.9" fill="#0066ff"/><rect x="227.3" y="575.7" width="2.9" height="2.9" fill="#0076ff"/><rect x="199.8" y="578.2" width="2.9" height="2.9" fill="#8a00ff"/><rect x="202.3" y="578.2" width="2.9" height="2.9" fill="#7b00ff"/><rect x="204.8" y="578.2" width="2.9" height="2.9" fill="#6b00ff"/><rect x="207.3" y="578.2" width="2.9" height="2.9" fill="#5900ff"/><rect x="209.8" y="578.2" width="2.9" height="2.9" fill="#4200ff"/><rect x="212.3" y="578.2" width="2.9" height="2.9" fill="#2300ff"/><rect x="214.8" y="578.2" width="2.9" height="2.9" fill="#0022ff"/><rect x="217.3" y="578.2" width="2.9" height="2.9" fill="#0042ff"/><rect x="219.8" y="578.2" width="2.9" height="2.9" fill="#0059ff"/><rect x="222.3" y="578.2" width="2.9" height="2.9" fill="#006bff"/><rect x="224.8" y="578.2" width="2.9" height="2.9" fill="#007bff"/><rect x="227.3" y="578.2" width="2.9" height="2.9" fill="#008aff"/><rect x="197.3" y="580.7" width="2.9" height="2.9" fill="#a000ff"/><rect x="199.8" y="580.7" width="2.9" height="2.9" fill="#9200ff"/><rect x="202.3" y="580.7" width="2.9" height="2.9" fill="#8300ff"/><rect x="204.8" y="580.7" width="2.9" height="2.9" fill="#7200ff"/><rect x="207.3" y="580.7" width="2.9" height="2.9" fill="#6000ff"/><rect x="209.8" y="580.7" width="2.9" height="2.9" fill="#4900ff"/><rect x="212.3" y="580.7" width="2.9" height="2.9" fill="#2b25ff"/><rect x="214.8" y="580.7" width="2.9" height="2.9" fill="#0046ff"/><rect x="217.3" y="580.7" width="2.9" height="2.9" fill="#005dff"/><rect x="219.8" y="580.7" width="2.9" height="2.9" fill="#0070ff"/><rect x="222.3" y="580.7" width="2.9" height="2.9" fill="#0081ff"/><rect x="224.8" y="580.7" width="2.9" height="2.9" fill="#0090ff"/><rect x="227.3" y="580.7" width="2.9" height="2.9" fill="#009eff"/><rect x="194.8" y="583.2" width="2.9" height="2.9" fill="#b600ff"/><rect x="197.3" y="583.2" width="2.9" height="2.9" fill="#a900ff"/><rect x="199.8" y="583.2" width="2.9" height="2.9" fill="#9b00ff"/><rect x="202.3" y="583.2" width="2.9" height="2.9" fill="#8b00ff"/><rect x="204.8" y="583.2" width="2.9" height="2.9" fill="#7a00ff"/><rect x="207.3" y="583.2" width="2.9" height="2.9" fill="#6700ff"/><rect x="209.8" y="583.2" width="2.9" height="2.9" fill="#5129ff"/><rect x="212.3" y="583.2" width="2.9" height="2.9" fill="#334aff"/><rect x="214.8" y="583.2" width="2.9" height="2.9" fill="#0062ff"/><rect x="217.3" y="583.2" width="2.9" height="2.9" fill="#0076ff"/><rect x="219.8" y="583.2" width="2.9" height="2.9" fill="#0087ff"/><rect x="222.3" y="583.2" width="2.9" height="2.9" fill="#0097ff"/><rect x="224.8" y="583.2" width="2.9" height="2.9" fill="#00a5ff"/><rect x="227.3" y="583.2" width="2.9" height="2.9" fill="#00b3ff"/><rect x="192.3" y="585.7" width="2.9" height="2.9" fill="#ce00ff"/><rect x="194.8" y="585.7" width="2.9" height="2.9" fill="#c100ff"/><rect x="197.3" y="585.7" width="2.9" height="2.9" fill="#b400ff"/><rect x="199.8" y="585.7" width="2.9" height="2.9" fill="#a500ff"/><rect x="202.3" y="585.7" width="2.9" height="2.9" fill="#9500ff"/><rect x="204.8" y="585.7" width="2.9" height="2.9" fill="#8300ff"/><rect x="207.3" y="585.7" width="2.9" height="2.9" fill="#702cff"/><rect x="209.8" y="585.7" width="2.9" height="2.9" fill="#594fff"/><rect x="212.3" y="585.7" width="2.9" height="2.9" fill="#3b67ff"/><rect x="214.8" y="585.7" width="2.9" height="2.9" fill="#007cff"/><rect x="217.3" y="585.7" width="2.9" height="2.9" fill="#008eff"/><rect x="219.8" y="585.7" width="2.9" height="2.9" fill="#009fff"/><rect x="222.3" y="585.7" width="2.9" height="2.9" fill="#00aeff"/><rect x="224.8" y="585.7" width="2.9" height="2.9" fill="#00bcff"/><rect x="227.3" y="585.7" width="2.9" height="2.9" fill="#00caff"/><rect x="189.8" y="588.2" width="2.9" height="2.9" fill="#e900ff"/><rect x="192.3" y="588.2" width="2.9" height="2.9" fill="#dc00ff"/><rect x="194.8" y="588.2" width="2.9" height="2.9" fill="#ce00ff"/><rect x="197.3" y="588.2" width="2.9" height="2.9" fill="#c000ff"/><rect x="199.8" y="588.2" width="2.9" height="2.9" fill="#b000ff"/><rect x="202.3" y="588.2" width="2.9" height="2.9" fill="#a000ff"/><rect x="204.8" y="588.2" width="2.9" height="2.9" fill="#8d30ff"/><rect x="207.3" y="588.2" width="2.9" height="2.9" fill="#7954ff"/><rect x="209.8" y="588.2" width="2.9" height="2.9" fill="#626eff"/><rect x="212.3" y="588.2" width="2.9" height="2.9" fill="#4484ff"/><rect x="214.8" y="588.2" width="2.9" height="2.9" fill="#1097ff"/><rect x="217.3" y="588.2" width="2.9" height="2.9" fill="#00a8ff"/><rect x="219.8" y="588.2" width="2.9" height="2.9" fill="#00b8ff"/><rect x="222.3" y="588.2" width="2.9" height="2.9" fill="#00c7ff"/><rect x="224.8" y="588.2" width="2.9" height="2.9" fill="#00d5ff"/><rect x="227.3" y="588.2" width="2.9" height="2.9" fill="#00e2ff"/><rect x="187.3" y="590.7" width="2.9" height="2.9" fill="#ff00f8"/><rect x="189.8" y="590.7" width="2.9" height="2.9" fill="#f900ff"/><rect x="192.3" y="590.7" width="2.9" height="2.9" fill="#eb00ff"/><rect x="194.8" y="590.7" width="2.9" height="2.9" fill="#dd00ff"/><rect x="197.3" y="590.7" width="2.9" height="2.9" fill="#ce00ff"/><rect x="199.8" y="590.7" width="2.9" height="2.9" fill="#bd00ff"/><rect x="202.3" y="590.7" width="2.9" height="2.9" fill="#ac35ff"/><rect x="204.8" y="590.7" width="2.9" height="2.9" fill="#995aff"/><rect x="207.3" y="590.7" width="2.9" height="2.9" fill="#8475ff"/><rect x="209.8" y="590.7" width="2.9" height="2.9" fill="#6c8cff"/><rect x="212.3" y="590.7" width="2.9" height="2.9" fill="#4ea0ff"/><rect x="214.8" y="590.7" width="2.9" height="2.9" fill="#1fb3ff"/><rect x="217.3" y="590.7" width="2.9" height="2.9" fill="#00c4ff"/><rect x="219.8" y="590.7" width="2.9" height="2.9" fill="#00d3ff"/><rect x="222.3" y="590.7" width="2.9" height="2.9" fill="#00e2ff"/><rect x="224.8" y="590.7" width="2.9" height="2.9" fill="#00f0ff"/><rect x="227.3" y="590.7" width="2.9" height="2.9" fill="#00feff"/><rect x="184.8" y="593.2" width="2.9" height="2.9" fill="#ff00dd"/><rect x="187.3" y="593.2" width="2.9" height="2.9" fill="#ff00e7"/><rect x="189.8" y="593.2" width="2.9" height="2.9" fill="#ff00f3"/><rect x="192.3" y="593.2" width="2.9" height="2.9" fill="#fd00ff"/><rect x="194.8" y="593.2" width="2.9" height="2.9" fill="#ee00ff"/><rect x="197.3" y="593.2" width="2.9" height="2.9" fill="#de00ff"/><rect x="199.8" y="593.2" width="2.9" height="2.9" fill="#cd3aff"/><rect x="202.3" y="593.2" width="2.9" height="2.9" fill="#bb61ff"/><rect x="204.8" y="593.2" width="2.9" height="2.9" fill="#a77eff"/><rect x="207.3" y="593.2" width="2.9" height="2.9" fill="#9196ff"/><rect x="209.8" y="593.2" width="2.9" height="2.9" fill="#77acff"/><rect x="212.3" y="593.2" width="2.9" height="2.9" fill="#59bfff"/><rect x="214.8" y="593.2" width="2.9" height="2.9" fill="#2cd1ff"/><rect x="217.3" y="593.2" width="2.9" height="2.9" fill="#00e2ff"/><rect x="219.8" y="593.2" width="2.9" height="2.9" fill="#00f2ff"/><rect x="222.3" y="593.2" width="2.9" height="2.9" fill="#00fffd"/><rect x="224.8" y="593.2" width="2.9" height="2.9" fill="#00fff0"/><rect x="227.3" y="593.2" width="2.9" height="2.9" fill="#00ffe4"/><rect x="182.3" y="595.7" width="2.9" height="2.9" fill="#ff00c3"/><rect x="184.8" y="595.7" width="2.9" height="2.9" fill="#ff00cb"/><rect x="187.3" y="595.7" width="2.9" height="2.9" fill="#ff00d5"/><rect x="189.8" y="595.7" width="2.9" height="2.9" fill="#ff00e0"/><rect x="192.3" y="595.7" width="2.9" height="2.9" fill="#ff00ec"/><rect x="194.8" y="595.7" width="2.9" height="2.9" fill="#ff00fb"/><rect x="197.3" y="595.7" width="2.9" height="2.9" fill="#f240ff"/><rect x="199.8" y="595.7" width="2.9" height="2.9" fill="#e06aff"/><rect x="202.3" y="595.7" width="2.9" height="2.9" fill="#cc89ff"/><rect x="204.8" y="595.7" width="2.9" height="2.9" fill="#b7a3ff"/><rect x="207.3" y="595.7" width="2.9" height="2.9" fill="#a0baff"/><rect x="209.8" y="595.7" width="2.9" height="2.9" fill="#85cfff"/><rect x="212.3" y="595.7" width="2.9" height="2.9" fill="#65e2ff"/><rect x="214.8" y="595.7" width="2.9" height="2.9" fill="#39f4ff"/><rect x="217.3" y="595.7" width="2.9" height="2.9" fill="#00fff9"/><rect x="219.8" y="595.7" width="2.9" height="2.9" fill="#00ffeb"/><rect x="222.3" y="595.7" width="2.9" height="2.9" fill="#00ffde"/><rect x="224.8" y="595.7" width="2.9" height="2.9" fill="#00ffd4"/><rect x="227.3" y="595.7" width="2.9" height="2.9" fill="#00ffca"/><rect x="179.8" y="598.2" width="2.9" height="2.9" fill="#ff00ab"/><rect x="182.3" y="598.2" width="2.9" height="2.9" fill="#ff00b2"/><rect x="184.8" y="598.2" width="2.9" height="2.9" fill="#ff00ba"/><rect x="187.3" y="598.2" width="2.9" height="2.9" fill="#ff00c2"/><rect x="189.8" y="598.2" width="2.9" height="2.9" fill="#ff00cc"/><rect x="192.3" y="598.2" width="2.9" height="2.9" fill="#ff00d7"/><rect x="194.8" y="598.2" width="2.9" height="2.9" fill="#ff40e4"/><rect x="197.3" y="598.2" width="2.9" height="2.9" fill="#ff6ff4"/><rect x="199.8" y="598.2" width="2.9" height="2.9" fill="#f796ff"/><rect x="202.3" y="598.2" width="2.9" height="2.9" fill="#e2b2ff"/><rect x="204.8" y="598.2" width="2.9" height="2.9" fill="#cbcbff"/><rect x="207.3" y="598.2" width="2.9" height="2.9" fill="#b2e2ff"/><rect x="209.8" y="598.2" width="2.9" height="2.9" fill="#96f7ff"/><rect x="212.3" y="598.2" width="2.9" height="2.9" fill="#6ffff4"/><rect x="214.8" y="598.2" width="2.9" height="2.9" fill="#40ffe4"/><rect x="217.3" y="598.2" width="2.9" height="2.9" fill="#00ffd7"/><rect x="219.8" y="598.2" width="2.9" height="2.9" fill="#00ffcc"/><rect x="222.3" y="598.2" width="2.9" height="2.9" fill="#00ffc2"/><rect x="224.8" y="598.2" width="2.9" height="2.9" fill="#00ffba"/><rect x="227.3" y="598.2" width="2.9" height="2.9" fill="#00ffb2"/><rect x="177.3" y="600.7" width="2.9" height="2.9" fill="#ff0095"/><rect x="179.8" y="600.7" width="2.9" height="2.9" fill="#ff009a"/><rect x="182.3" y="600.7" width="2.9" height="2.9" fill="#ff00a0"/><rect x="184.8" y="600.7" width="2.9" height="2.9" fill="#ff00a7"/><rect x="187.3" y="600.7" width="2.9" height="2.9" fill="#ff00ae"/><rect x="189.8" y="600.7" width="2.9" height="2.9" fill="#ff00b7"/><rect x="192.3" y="600.7" width="2.9" height="2.9" fill="#ff3ec1"/><rect x="194.8" y="600.7" width="2.9" height="2.9" fill="#ff68cd"/><rect x="197.3" y="600.7" width="2.9" height="2.9" fill="#ff8fda"/><rect x="199.8" y="600.7" width="2.9" height="2.9" fill="#ffb7eb"/><rect x="202.3" y="600.7" width="2.9" height="2.9" fill="#fde1ff"/><rect x="204.8" y="600.7" width="2.9" height="2.9" fill="#e5faff"/><rect x="207.3" y="600.7" width="2.9" height="2.9" fill="#bcffee"/><rect x="209.8" y="600.7" width="2.9" height="2.9" fill="#94ffdc"/><rect x="212.3" y="600.7" width="2.9" height="2.9" fill="#6dffce"/><rect x="214.8" y="600.7" width="2.9" height="2.9" fill="#44ffc2"/><rect x="217.3" y="600.7" width="2.9" height="2.9" fill="#00ffb8"/><rect x="219.8" y="600.7" width="2.9" height="2.9" fill="#00ffaf"/><rect x="222.3" y="600.7" width="2.9" height="2.9" fill="#00ffa8"/><rect x="224.8" y="600.7" width="2.9" height="2.9" fill="#00ffa1"/><rect x="227.3" y="600.7" width="2.9" height="2.9" fill="#00ff9b"/><rect x="174.8" y="603.2" width="2.9" height="2.9" fill="#ff007e"/><rect x="177.3" y="603.2" width="2.9" height="2.9" fill="#ff0083"/><rect x="179.8" y="603.2" width="2.9" height="2.9" fill="#ff0087"/><rect x="182.3" y="603.2" width="2.9" height="2.9" fill="#ff008d"/><rect x="184.8" y="603.2" width="2.9" height="2.9" fill="#ff0092"/><rect x="187.3" y="603.2" width="2.9" height="2.9" fill="#ff0099"/><rect x="189.8" y="603.2" width="2.9" height="2.9" fill="#ff3ba0"/><rect x="192.3" y="603.2" width="2.9" height="2.9" fill="#ff63a9"/><rect x="194.8" y="603.2" width="2.9" height="2.9" fill="#ff85b3"/><rect x="197.3" y="603.2" width="2.9" height="2.9" fill="#ffa9bf"/><rect x="199.8" y="603.2" width="2.9" height="2.9" fill="#ffcece"/><rect x="202.3" y="603.2" width="2.9" height="2.9" fill="#fff9e0"/><rect x="204.8" y="603.2" width="2.9" height="2.9" fill="#d8ffd2"/><rect x="207.3" y="603.2" width="2.9" height="2.9" fill="#b2ffc2"/><rect x="209.8" y="603.2" width="2.9" height="2.9" fill="#8effb6"/><rect x="212.3" y="603.2" width="2.9" height="2.9" fill="#6bffab"/><rect x="214.8" y="603.2" width="2.9" height="2.9" fill="#46ffa2"/><rect x="217.3" y="603.2" width="2.9" height="2.9" fill="#09ff9b"/><rect x="219.8" y="603.2" width="2.9" height="2.9" fill="#00ff94"/><rect x="222.3" y="603.2" width="2.9" height="2.9" fill="#00ff8e"/><rect x="224.8" y="603.2" width="2.9" height="2.9" fill="#00ff89"/><rect x="227.3" y="603.2" width="2.9" height="2.9" fill="#00ff84"/><rect x="174.8" y="605.7" width="2.9" height="2.9" fill="#ff006b"/><rect x="177.3" y="605.7" width="2.9" height="2.9" fill="#ff006f"/><rect x="179.8" y="605.7" width="2.9" height="2.9" fill="#ff0073"/><rect x="182.3" y="605.7" width="2.9" height="2.9" fill="#ff0077"/><rect x="184.8" y="605.7" width="2.9" height="2.9" fill="#ff007c"/><rect x="187.3" y="605.7" width="2.9" height="2.9" fill="#ff3a82"/><rect x="189.8" y="605.7" width="2.9" height="2.9" fill="#ff5e88"/><rect x="192.3" y="605.7" width="2.9" height="2.9" fill="#ff7e8f"/><rect x="194.8" y="605.7" width="2.9" height="2.9" fill="#ff9d97"/><rect x="197.3" y="605.7" width="2.9" height="2.9" fill="#ffbea1"/><rect x="199.8" y="605.7" width="2.9" height="2.9" fill="#ffe3ad"/><rect x="202.3" y="605.7" width="2.9" height="2.9" fill="#f2ffb2"/><rect x="204.8" y="605.7" width="2.9" height="2.9" fill="#ccffa5"/><rect x="207.3" y="605.7" width="2.9" height="2.9" fill="#a9ff9b"/><rect x="209.8" y="605.7" width="2.9" height="2.9" fill="#89ff92"/><rect x="212.3" y="605.7" width="2.9" height="2.9" fill="#6aff8a"/><rect x="214.8" y="605.7" width="2.9" height="2.9" fill="#48ff84"/><rect x="217.3" y="605.7" width="2.9" height="2.9" fill="#19ff7e"/><rect x="219.8" y="605.7" width="2.9" height="2.9" fill="#00ff79"/><rect x="222.3" y="605.7" width="2.9" height="2.9" fill="#00ff74"/><rect x="224.8" y="605.7" width="2.9" height="2.9" fill="#00ff70"/><rect x="227.3" y="605.7" width="2.9" height="2.9" fill="#00ff6c"/><rect x="174.8" y="608.2" width="2.9" height="2.9" fill="#ff0055"/><rect x="177.3" y="608.2" width="2.9" height="2.9" fill="#ff0058"/><rect x="179.8" y="608.2" width="2.9" height="2.9" fill="#ff005b"/><rect x="182.3" y="608.2" width="2.9" height="2.9" fill="#ff005f"/><rect x="184.8" y="608.2" width="2.9" height="2.9" fill="#ff3862"/><rect x="187.3" y="608.2" width="2.9" height="2.9" fill="#ff5a67"/><rect x="189.8" y="608.2" width="2.9" height="2.9" fill="#ff776c"/><rect x="192.3" y="608.2" width="2.9" height="2.9" fill="#ff9471"/><rect x="194.8" y="608.2" width="2.9" height="2.9" fill="#ffb278"/><rect x="197.3" y="608.2" width="2.9" height="2.9" fill="#ffd27f"/><rect x="199.8" y="608.2" width="2.9" height="2.9" fill="#fff589"/><rect x="202.3" y="608.2" width="2.9" height="2.9" fill="#e3ff84"/><rect x="204.8" y="608.2" width="2.9" height="2.9" fill="#c1ff7b"/><rect x="207.3" y="608.2" width="2.9" height="2.9" fill="#a3ff74"/><rect x="209.8" y="608.2" width="2.9" height="2.9" fill="#86ff6e"/><rect x="212.3" y="608.2" width="2.9" height="2.9" fill="#69ff69"/><rect x="214.8" y="608.2" width="2.9" height="2.9" fill="#4aff64"/><rect x="217.3" y="608.2" width="2.9" height="2.9" fill="#22ff60"/><rect x="219.8" y="608.2" width="2.9" height="2.9" fill="#00ff5d"/><rect x="222.3" y="608.2" width="2.9" height="2.9" fill="#00ff5a"/><rect x="224.8" y="608.2" width="2.9" height="2.9" fill="#00ff57"/><rect x="227.3" y="608.2" width="2.9" height="2.9" fill="#00ff54"/><rect x="174.8" y="610.7" width="2.9" height="2.9" fill="#ff003a"/><rect x="177.3" y="610.7" width="2.9" height="2.9" fill="#ff003b"/><rect x="179.8" y="610.7" width="2.9" height="2.9" fill="#ff003e"/><rect x="182.3" y="610.7" width="2.9" height="2.9" fill="#ff3740"/><rect x="184.8" y="610.7" width="2.9" height="2.9" fill="#ff5642"/><rect x="187.3" y="610.7" width="2.9" height="2.9" fill="#ff7245"/><rect x="189.8" y="610.7" width="2.9" height="2.9" fill="#ff8c49"/><rect x="192.3" y="610.7" width="2.9" height="2.9" fill="#ffa74c"/><rect x="194.8" y="610.7" width="2.9" height="2.9" fill="#ffc451"/><rect x="197.3" y="610.7" width="2.9" height="2.9" fill="#ffe356"/><rect x="199.8" y="610.7" width="2.9" height="2.9" fill="#f8ff59"/><rect x="202.3" y="610.7" width="2.9" height="2.9" fill="#d7ff54"/><rect x="204.8" y="610.7" width="2.9" height="2.9" fill="#b9ff4f"/><rect x="207.3" y="610.7" width="2.9" height="2.9" fill="#9dff4b"/><rect x="209.8" y="610.7" width="2.9" height="2.9" fill="#82ff47"/><rect x="212.3" y="610.7" width="2.9" height="2.9" fill="#68ff44"/><rect x="214.8" y="610.7" width="2.9" height="2.9" fill="#4bff41"/><rect x="217.3" y="610.7" width="2.9" height="2.9" fill="#28ff3f"/><rect x="219.8" y="610.7" width="2.9" height="2.9" fill="#00ff3d"/><rect x="222.3" y="610.7" width="2.9" height="2.9" fill="#00ff3b"/><rect x="224.8" y="610.7" width="2.9" height="2.9" fill="#00ff39"/><rect x="227.3" y="610.7" width="2.9" height="2.9" fill="#00ff37"/><rect x="174.8" y="613.2" width="2.9" height="2.9" fill="#ff0000"/><rect x="177.3" y="613.2" width="2.9" height="2.9" fill="#ff0000"/><rect x="179.8" y="613.2" width="2.9" height="2.9" fill="#ff3600"/><rect x="182.3" y="613.2" width="2.9" height="2.9" fill="#ff5300"/><rect x="184.8" y="613.2" width="2.9" height="2.9" fill="#ff6d00"/><rect x="187.3" y="613.2" width="2.9" height="2.9" fill="#ff8600"/><rect x="189.8" y="613.2" width="2.9" height="2.9" fill="#ff9f00"/><rect x="192.3" y="613.2" width="2.9" height="2.9" fill="#ffb900"/><rect x="194.8" y="613.2" width="2.9" height="2.9" fill="#ffd400"/><rect x="197.3" y="613.2" width="2.9" height="2.9" fill="#fff300"/><rect x="199.8" y="613.2" width="2.9" height="2.9" fill="#ebff00"/><rect x="202.3" y="613.2" width="2.9" height="2.9" fill="#cdff00"/><rect x="204.8" y="613.2" width="2.9" height="2.9" fill="#b2ff00"/><rect x="207.3" y="613.2" width="2.9" height="2.9" fill="#98ff00"/><rect x="209.8" y="613.2" width="2.9" height="2.9" fill="#7fff00"/><rect x="212.3" y="613.2" width="2.9" height="2.9" fill="#67ff00"/><rect x="214.8" y="613.2" width="2.9" height="2.9" fill="#4cff00"/><rect x="217.3" y="613.2" width="2.9" height="2.9" fill="#2cff00"/><rect x="219.8" y="613.2" width="2.9" height="2.9" fill="#00ff00"/><rect x="222.3" y="613.2" width="2.9" height="2.9" fill="#00ff00"/><rect x="224.8" y="613.2" width="2.9" height="2.9" fill="#00ff00"/><rect x="227.3" y="613.2" width="2.9" height="2.9" fill="#00ff00"/><rect x="174.8" y="615.7" width="2.9" height="2.9" fill="#ff0000"/><rect x="177.3" y="615.7" width="2.9" height="2.9" fill="#ff3500"/><rect x="179.8" y="615.7" width="2.9" height="2.9" fill="#ff5100"/><rect x="182.3" y="615.7" width="2.9" height="2.9" fill="#ff6900"/><rect x="184.8" y="615.7" width="2.9" height="2.9" fill="#ff8000"/><rect x="187.3" y="615.7" width="2.9" height="2.9" fill="#ff9700"/><rect x="189.8" y="615.7" width="2.9" height="2.9" fill="#ffaf00"/><rect x="192.3" y="615.7" width="2.9" height="2.9" fill="#ffc800"/><rect x="194.8" y="615.7" width="2.9" height="2.9" fill="#ffe300"/><rect x="197.3" y="615.7" width="2.9" height="2.9" fill="#fdff00"/><rect x="199.8" y="615.7" width="2.9" height="2.9" fill="#dfff00"/><rect x="202.3" y="615.7" width="2.9" height="2.9" fill="#c5ff00"/><rect x="204.8" y="615.7" width="2.9" height="2.9" fill="#acff00"/><rect x="207.3" y="615.7" width="2.9" height="2.9" fill="#94ff00"/><rect x="209.8" y="615.7" width="2.9" height="2.9" fill="#7dff00"/><rect x="212.3" y="615.7" width="2.9" height="2.9" fill="#66ff00"/><rect x="214.8" y="615.7" width="2.9" height="2.9" fill="#4dff00"/><rect x="217.3" y="615.7" width="2.9" height="2.9" fill="#30ff00"/><rect x="219.8" y="615.7" width="2.9" height="2.9" fill="#00ff00"/><rect x="222.3" y="615.7" width="2.9" height="2.9" fill="#00ff00"/><rect x="224.8" y="615.7" width="2.9" height="2.9" fill="#00ff00"/><rect x="227.3" y="615.7" width="2.9" height="2.9" fill="#00ff00"/><rect x="174.8" y="618.2" width="2.9" height="2.9" fill="#ff3400"/><rect x="177.3" y="618.2" width="2.9" height="2.9" fill="#ff4e00"/><rect x="179.8" y="618.2" width="2.9" height="2.9" fill="#ff6500"/><rect x="182.3" y="618.2" width="2.9" height="2.9" fill="#ff7b00"/><rect x="184.8" y="618.2" width="2.9" height="2.9" fill="#ff9100"/><rect x="187.3" y="618.2" width="2.9" height="2.9" fill="#ffa700"/><rect x="189.8" y="618.2" width="2.9" height="2.9" fill="#ffbe00"/><rect x="192.3" y="618.2" width="2.9" height="2.9" fill="#ffd600"/><rect x="194.8" y="618.2" width="2.9" height="2.9" fill="#fff100"/><rect x="197.3" y="618.2" width="2.9" height="2.9" fill="#f0ff00"/><rect x="199.8" y="618.2" width="2.9" height="2.9" fill="#d6ff00"/><rect x="202.3" y="618.2" width="2.9" height="2.9" fill="#bdff00"/><rect x="204.8" y="618.2" width="2.9" height="2.9" fill="#a6ff00"/><rect x="207.3" y="618.2" width="2.9" height="2.9" fill="#90ff00"/><rect x="209.8" y="618.2" width="2.9" height="2.9" fill="#7bff00"/><rect x="212.3" y="618.2" width="2.9" height="2.9" fill="#65ff00"/><rect x="214.8" y="618.2" width="2.9" height="2.9" fill="#4eff00"/><rect x="217.3" y="618.2" width="2.9" height="2.9" fill="#33ff00"/><rect x="219.8" y="618.2" width="2.9" height="2.9" fill="#00ff00"/><rect x="222.3" y="618.2" width="2.9" height="2.9" fill="#00ff00"/><rect x="224.8" y="618.2" width="2.9" height="2.9" fill="#00ff00"/><rect x="227.3" y="618.2" width="2.9" height="2.9" fill="#00ff00"/></g></g>
<text x="217.4" y="582.5" font-size="10.5" textLength="14.2" lengthAdjust="spacingAndGlyphs">111</text>
<text x="170.5" y="626.2" font-size="10.5" textLength="14.5" lengthAdjust="spacingAndGlyphs">001</text>
<text x="221.3" y="626.2" font-size="10.5" textLength="14.5" lengthAdjust="spacingAndGlyphs">101</text>
<rect x="316" y="284.1" width="63.1" height="26" fill="#fff"/>
<rect x="319" y="300.7" width="58.5" height="7" fill="url(#cb2)"/>
<text x="319.6" y="297" font-size="11.5" textLength="5.3" lengthAdjust="spacingAndGlyphs">0</text>
<text x="348.9" y="297" font-size="11.5" text-anchor="middle" textLength="10.6" lengthAdjust="spacingAndGlyphs">[°]</text>
<text x="377.1" y="297" font-size="11.5" text-anchor="end" textLength="5.3" lengthAdjust="spacingAndGlyphs">5</text>
<rect x="315.8" y="599.9" width="63.2" height="25.2" fill="#fff"/>
<rect x="319" y="616.1" width="58.6" height="7.4" fill="url(#cb2)"/>
<text x="319.6" y="612.9" font-size="11.5" textLength="5.3" lengthAdjust="spacingAndGlyphs">0</text>
<text x="349" y="612.9" font-size="11.5" text-anchor="middle" textLength="10.6" lengthAdjust="spacingAndGlyphs">[°]</text>
<text x="377.2" y="612.9" font-size="11.5" text-anchor="end" textLength="5.3" lengthAdjust="spacingAndGlyphs">5</text>
<rect x="457" y="272.6" width="67" height="35" fill="#fff" opacity="0.93"/>
<text x="460.9" y="287.1" font-size="13.5" font-weight="bold" fill="#d01c1c" textLength="18.3" lengthAdjust="spacingAndGlyphs">TB</text>
<text x="460.4" y="301.3" font-size="13.5" font-weight="bold" textLength="19.3" lengthAdjust="spacingAndGlyphs">GB</text>
<path d="M482.1 282.3H522" stroke="#d81e1e" stroke-width="3"/>
<path d="M482.1 296.6H522" stroke="#000" stroke-width="3"/>
<rect x="458.9" y="588.2" width="67.8" height="34.6" fill="#fff" opacity="0.93"/>
<text x="463.2" y="603.1" font-size="13.5" font-weight="bold" fill="#d01c1c" textLength="18.3" lengthAdjust="spacingAndGlyphs">TB</text>
<text x="462.7" y="617.5" font-size="13.5" font-weight="bold" textLength="19.3" lengthAdjust="spacingAndGlyphs">GB</text>
<path d="M484.4 598.1H523.9" stroke="#d81e1e" stroke-width="3"/>
<path d="M484.4 612.5H523.9" stroke="#000" stroke-width="3"/>
<path d="M70.4 44.7H525.2" stroke="#000" stroke-width="1.7" stroke-dasharray="8.8 5.25" stroke-dashoffset="0"/>
<path d="M70.2 66.2H527" stroke="#000" stroke-width="2" stroke-dasharray="8.8 5.25" stroke-dashoffset="0"/>
<path d="M69.5 313.2H524.6" stroke="#000" stroke-width="1.8" stroke-dasharray="8.8 5.25" stroke-dashoffset="0"/>
<path d="M71.3 374.2H527.8" stroke="#000" stroke-width="1.8" stroke-dasharray="8.8 5.25" stroke-dashoffset="0"/>
<path d="M69.5 408.5H527.8" stroke="#000" stroke-width="1.8" stroke-dasharray="8.8 5.25" stroke-dashoffset="0"/>
<path d="M71.7 626.6H527.8" stroke="#000" stroke-width="1.8" stroke-dasharray="8.8 5.25" stroke-dashoffset="0"/>
<text x="558.8" y="32.3" font-size="16" font-weight="bold" textLength="19" lengthAdjust="spacingAndGlyphs">(g)</text>
<text x="803.6" y="32.3" font-size="16" font-weight="bold" textLength="20.3" lengthAdjust="spacingAndGlyphs">(h)</text>
<text x="549.9" y="56.5" font-size="11.5" textLength="24" lengthAdjust="spacingAndGlyphs">[001]</text>
<text x="609.8" y="53.9" font-size="11.5" textLength="12.8" lengthAdjust="spacingAndGlyphs">Y0</text>
<text x="673.4" y="111.7" font-size="11.5" textLength="12.8" lengthAdjust="spacingAndGlyphs">X0</text>
<circle cx="616.2" cy="108.2" r="50.6" fill="#0004f6"/>
<g clip-path="url(#pc113)"><circle r="1" fill="url(#b3_0)" transform="translate(587.7 85.1) rotate(0) scale(10.9 10.9)"/><circle r="1" fill="url(#b2_0)" transform="translate(602.5 79.4) rotate(0) scale(10.9 10.9)"/><circle r="1" fill="url(#b2_0)" transform="translate(594.2 99.5) rotate(20) scale(10.1 12.6)"/><circle r="1" fill="url(#b3_0)" transform="translate(603.8 133.9) rotate(20) scale(12.6 10.1)"/><circle r="1" fill="url(#b2_0)" transform="translate(613.7 108.6) rotate(0) scale(9.2 9.2)"/><circle r="1" fill="url(#b3_0)" transform="translate(649.4 103.9) rotate(30) scale(10.9 12.6)"/><circle r="1" fill="url(#b4_0)" transform="translate(628.6 120.3) rotate(0) scale(10.9 10.9)"/><circle r="1" fill="url(#b7_0)" transform="translate(650.5 69) rotate(42) scale(17.7 8.5)"/><circle r="1" fill="url(#b12_0)" transform="translate(583 114.3) rotate(15) scale(9.2 17.7)"/><circle r="1" fill="url(#b14_0)" transform="translate(631.7 92) rotate(28) scale(16.6 9.4)"/><circle r="1" fill="url(#b18_0)" transform="translate(631.7 147.7) rotate(-25) scale(18.7 8.6)"/></g>
<path d="M615.6 57.6V158.8M565.6 107.3H666.8" stroke="#001060" stroke-width="0.7" fill="none" opacity="0.85"/>
<text x="566.2" y="173.6" font-size="14.5" font-weight="bold" fill="#1f3f9c" textLength="6.4" lengthAdjust="spacingAndGlyphs">0</text>
<text x="672.6" y="173.6" font-size="14.5" font-weight="bold" fill="#bc1f2b" text-anchor="end" textLength="30.6" lengthAdjust="spacingAndGlyphs">23.28</text>
<rect x="568" y="177" width="103.2" height="4.7" fill="url(#cb)"/>
<path d="M692.1 53.9L692.1 154.7A344.2 344.2 0 0 0 777.6 139.1Z" fill="#0010ec"/>
<g clip-path="url(#tc114)"><circle r="1" fill="url(#b7_0)" transform="translate(722 136) rotate(16) scale(75 48)"/><circle r="1" fill="url(#b10_14)" transform="translate(742 122) rotate(45) scale(45 30)"/><circle r="1" fill="url(#b1_13)" transform="translate(777 139) rotate(10) scale(24 15)"/><circle r="1" fill="url(#b19_23)" transform="translate(741 115.5) rotate(45) scale(33 18)"/></g>
<path d="M692.1 53.9L777.6 139.1M692.1 154.7A344.2 344.2 0 0 0 777.6 139.1" stroke="#000" stroke-width="0.8" fill="none"/>
<text x="683.5" y="53.9" font-size="10.5" textLength="15" lengthAdjust="spacingAndGlyphs">001</text>
<text x="679.1" y="162.8" font-size="10.5" textLength="15" lengthAdjust="spacingAndGlyphs">101</text>
<text x="772.9" y="148.2" font-size="10.5" textLength="15" lengthAdjust="spacingAndGlyphs">111</text>
<text x="689.5" y="173.6" font-size="14.5" font-weight="bold" fill="#1f3f9c" textLength="6.4" lengthAdjust="spacingAndGlyphs">0</text>
<text x="777.8" y="173.6" font-size="14.5" font-weight="bold" fill="#bc1f2b" text-anchor="end" textLength="23.6" lengthAdjust="spacingAndGlyphs">3.38</text>
<rect x="690.8" y="177" width="86" height="4.7" fill="url(#cb)"/>
<text x="549.3" y="207.5" font-size="11.5" textLength="24" lengthAdjust="spacingAndGlyphs">[001]</text>
<text x="609.9" y="200.1" font-size="11.5" textLength="12.8" lengthAdjust="spacingAndGlyphs">Y0</text>
<text x="673.7" y="258" font-size="11.5" textLength="12.8" lengthAdjust="spacingAndGlyphs">X0</text>
<circle cx="615.6" cy="259.5" r="49.2" fill="#0004f6"/>
<g clip-path="url(#pc115)"><circle r="1" fill="url(#b4_0)" transform="translate(604.3 229.8) rotate(0) scale(12.6 10.9)"/><circle r="1" fill="url(#b2_0)" transform="translate(630.8 272) rotate(0) scale(10.1 10.1)"/><circle r="1" fill="url(#b2_0)" transform="translate(613.6 302.7) rotate(0) scale(10.9 9.2)"/><circle r="1" fill="url(#b5_0)" transform="translate(601.3 283.6) rotate(30) scale(15.1 9.2)"/><circle r="1" fill="url(#b6_0)" transform="translate(648.7 254.8) rotate(0) scale(9.9 12.7)"/><circle r="1" fill="url(#b6_0)" transform="translate(594 253.5) rotate(35) scale(10.6 12.7)"/><circle r="1" fill="url(#b14_0)" transform="translate(584.9 263.4) rotate(20) scale(9.4 15.8)"/><circle r="1" fill="url(#b19_0)" transform="translate(634.5 243.3) rotate(20) scale(15.8 11.5)"/><circle r="1" fill="url(#b20_0)" transform="translate(630.3 297.8) rotate(-25) scale(18 8.6)"/></g>
<path d="M614.8 210.3V308.7M566.4 259H664.8" stroke="#001060" stroke-width="0.7" fill="none" opacity="0.85"/>
<text x="566.2" y="319.9" font-size="14.5" font-weight="bold" fill="#1f3f9c" textLength="6.4" lengthAdjust="spacingAndGlyphs">0</text>
<text x="672.6" y="319.9" font-size="14.5" font-weight="bold" fill="#bc1f2b" text-anchor="end" textLength="30.6" lengthAdjust="spacingAndGlyphs">19.48</text>
<rect x="568.2" y="323.3" width="103.1" height="5.1" fill="url(#cb)"/>
<path d="M695.8 203.3L695.8 301.9A336.6 336.6 0 0 0 779.6 287.2Z" fill="#0010ec"/>
<g clip-path="url(#tc116)"><circle r="1" fill="url(#b7_0)" transform="translate(722 284) rotate(12) scale(78 45)"/><circle r="1" fill="url(#b10_14)" transform="translate(747 270) rotate(45) scale(45 33)"/><circle r="1" fill="url(#b1_13)" transform="translate(779 287) rotate(10) scale(24 15)"/><circle r="1" fill="url(#b16_23)" transform="translate(749.5 264) rotate(45) scale(25.5 15)"/></g>
<path d="M695.8 203.3L779.6 287.2M695.8 301.9A336.6 336.6 0 0 0 779.6 287.2" stroke="#000" stroke-width="0.8" fill="none"/>
<text x="683.5" y="200.8" font-size="10.5" textLength="15" lengthAdjust="spacingAndGlyphs">001</text>
<text x="679.3" y="308.8" font-size="10.5" textLength="15" lengthAdjust="spacingAndGlyphs">101</text>
<text x="772.5" y="297.7" font-size="10.5" textLength="15" lengthAdjust="spacingAndGlyphs">111</text>
<text x="689.6" y="319.9" font-size="14.5" font-weight="bold" fill="#1f3f9c" textLength="6.4" lengthAdjust="spacingAndGlyphs">0</text>
<text x="778" y="319.9" font-size="14.5" font-weight="bold" fill="#bc1f2b" text-anchor="end" textLength="23.6" lengthAdjust="spacingAndGlyphs">3.96</text>
<rect x="690.8" y="323.3" width="85.9" height="5.1" fill="url(#cb)"/>
<text x="552.3" y="354.5" font-size="11.5" textLength="24" lengthAdjust="spacingAndGlyphs">[001]</text>
<text x="609.9" y="346.7" font-size="11.5" textLength="12.8" lengthAdjust="spacingAndGlyphs">Y0</text>
<text x="673.7" y="404.8" font-size="11.5" textLength="12.8" lengthAdjust="spacingAndGlyphs">X0</text>
<circle cx="616.5" cy="404.2" r="49.3" fill="#0004f6"/>
<g clip-path="url(#pc117)"><circle r="1" fill="url(#b2_0)" transform="translate(603.8 369.3) rotate(0) scale(12.6 12.6)"/><circle r="1" fill="url(#b2_0)" transform="translate(634.5 412.2) rotate(0) scale(12.6 12.6)"/><circle r="1" fill="url(#b12_0)" transform="translate(598.4 394.3) rotate(-38) scale(18.4 10.3)"/><circle r="1" fill="url(#b13_0)" transform="translate(649.9 393.3) rotate(42) scale(19.1 10.3)"/><circle r="1" fill="url(#b9_0)" transform="translate(620.5 443.6) rotate(0) scale(24.8 11.3)"/><circle r="1" fill="url(#b20_0)" transform="translate(621.9 443.8) rotate(0) scale(10.8 7.2)"/></g>
<path d="M616.8 354.9V453.5M567.2 403.6H665.8" stroke="#001060" stroke-width="0.7" fill="none" opacity="0.85"/>
<text x="566.2" y="466.2" font-size="14.5" font-weight="bold" fill="#1f3f9c" textLength="6.4" lengthAdjust="spacingAndGlyphs">0</text>
<text x="672" y="466.2" font-size="14.5" font-weight="bold" fill="#bc1f2b" text-anchor="end" textLength="30.6" lengthAdjust="spacingAndGlyphs">22.61</text>
<rect x="568.2" y="469.4" width="103.1" height="5.3" fill="url(#cb)"/>
<path d="M695.8 348.4L695.8 448.5A341.8 341.8 0 0 0 781.6 434.2Z" fill="#0010ec"/>
<g clip-path="url(#tc118)"><circle r="1" fill="url(#b8_0)" transform="translate(704 420) rotate(-26) scale(45 81)"/></g>
<path d="M695.8 348.4L781.6 434.2M695.8 448.5A341.8 341.8 0 0 0 781.6 434.2" stroke="#000" stroke-width="0.8" fill="none"/>
<text x="683.5" y="346.7" font-size="10.5" textLength="15" lengthAdjust="spacingAndGlyphs">001</text>
<text x="679.3" y="455.6" font-size="10.5" textLength="15" lengthAdjust="spacingAndGlyphs">101</text>
<text x="772.5" y="444.8" font-size="10.5" textLength="15" lengthAdjust="spacingAndGlyphs">111</text>
<text x="689.6" y="466.2" font-size="14.5" font-weight="bold" fill="#1f3f9c" textLength="6.4" lengthAdjust="spacingAndGlyphs">0</text>
<text x="777.6" y="466.2" font-size="14.5" font-weight="bold" fill="#bc1f2b" text-anchor="end" textLength="23.6" lengthAdjust="spacingAndGlyphs">5.14</text>
<rect x="690.8" y="469.4" width="85.9" height="5.3" fill="url(#cb)"/>
<text x="550" y="495.3" font-size="11.5" textLength="24" lengthAdjust="spacingAndGlyphs">[001]</text>
<text x="609.8" y="492.4" font-size="11.5" textLength="12.8" lengthAdjust="spacingAndGlyphs">Y0</text>
<text x="674.4" y="550.6" font-size="11.5" textLength="12.8" lengthAdjust="spacingAndGlyphs">X0</text>
<circle cx="617.6" cy="549.9" r="50.4" fill="#0004f6"/>
<g clip-path="url(#pc119)"><circle r="1" fill="url(#b20_0)" transform="translate(604 534.8) rotate(0) scale(8.6 9)"/><circle r="1" fill="url(#b20_0)" transform="translate(657.8 543.3) rotate(-10) scale(7.2 11.5)"/><circle r="1" fill="url(#b20_0)" transform="translate(615.9 587.5) rotate(5) scale(11.5 7.6)"/></g>
<path d="M617.2 499.5V600.3M567.2 549.1H668" stroke="#001060" stroke-width="0.7" fill="none" opacity="0.85"/>
<text x="566.2" y="611.8" font-size="14.5" font-weight="bold" fill="#1f3f9c" textLength="6.4" lengthAdjust="spacingAndGlyphs">0</text>
<text x="672" y="611.8" font-size="14.5" font-weight="bold" fill="#bc1f2b" text-anchor="end" textLength="30.6" lengthAdjust="spacingAndGlyphs">42.93</text>
<rect x="567.7" y="615.4" width="103.3" height="5.6" fill="url(#cb)"/>
<path d="M695.8 491.9L695.8 591.6A340.4 340.4 0 0 0 779.4 576.3Z" fill="#0010ec"/>
<g clip-path="url(#tc120)"><circle r="1" fill="url(#b20_0)" transform="translate(697 539.3) rotate(0) scale(31.5 37.5)"/></g>
<path d="M695.8 491.9L779.4 576.3M695.8 591.6A340.4 340.4 0 0 0 779.4 576.3" stroke="#000" stroke-width="0.8" fill="none"/>
<text x="683.7" y="492.4" font-size="10.5" textLength="15" lengthAdjust="spacingAndGlyphs">001</text>
<text x="679.2" y="601.8" font-size="10.5" textLength="15" lengthAdjust="spacingAndGlyphs">101</text>
<text x="772.3" y="587.6" font-size="10.5" textLength="15" lengthAdjust="spacingAndGlyphs">111</text>
<text x="689.8" y="611.8" font-size="14.5" font-weight="bold" fill="#1f3f9c" textLength="6.4" lengthAdjust="spacingAndGlyphs">0</text>
<text x="778.2" y="611.8" font-size="14.5" font-weight="bold" fill="#bc1f2b" text-anchor="end" textLength="23.6" lengthAdjust="spacingAndGlyphs">9.45</text>
<rect x="691.1" y="615.6" width="85.7" height="5.5" fill="url(#cb)"/>
<text x="641.5" y="648.7" font-size="17.5" textLength="43.5" lengthAdjust="spacingAndGlyphs">1-LSP</text>
<text x="800.4" y="56.5" font-size="11.5" textLength="24" lengthAdjust="spacingAndGlyphs">[001]</text>
<text x="860.9" y="53.9" font-size="11.5" textLength="12.8" lengthAdjust="spacingAndGlyphs">Y0</text>
<text x="924.2" y="111.7" font-size="11.5" textLength="12.8" lengthAdjust="spacingAndGlyphs">X0</text>
<circle cx="866.1" cy="109.5" r="50.6" fill="#0004f6"/>
<g clip-path="url(#pc121)"><circle r="1" fill="url(#b3_0)" transform="translate(835.6 81.2) rotate(30) scale(10.9 12.6)"/><circle r="1" fill="url(#b3_0)" transform="translate(842.1 72.1) rotate(-30) scale(11.8 10.1)"/><circle r="1" fill="url(#b2_0)" transform="translate(821.3 122.9) rotate(0) scale(10.1 12.6)"/><circle r="1" fill="url(#b2_0)" transform="translate(843 98) rotate(0) scale(10.1 10.1)"/><circle r="1" fill="url(#b5_0)" transform="translate(878.6 134.7) rotate(0) scale(10.1 10.1)"/><circle r="1" fill="url(#b7_0)" transform="translate(826.5 89.1) rotate(25) scale(8.5 12)"/><circle r="1" fill="url(#b7_0)" transform="translate(819.5 102.1) rotate(10) scale(8.5 11.3)"/><circle r="1" fill="url(#b6_0)" transform="translate(824.5 97) rotate(20) scale(7.1 9.2)"/><circle r="1" fill="url(#b7_0)" transform="translate(843.4 115.1) rotate(0) scale(7.8 8.5)"/><circle r="1" fill="url(#b8_0)" transform="translate(870.8 83.3) rotate(10) scale(11.3 7.1)"/><circle r="1" fill="url(#b8_0)" transform="translate(853.8 96.9) rotate(0) scale(7.8 8.5)"/><circle r="1" fill="url(#b10_0)" transform="translate(860.4 99.5) rotate(0) scale(8.5 9.2)"/><circle r="1" fill="url(#b10_0)" transform="translate(873.4 68.7) rotate(0) scale(9.9 9.9)"/><circle r="1" fill="url(#b10_0)" transform="translate(874.9 118.5) rotate(-8) scale(7.1 12.7)"/><circle r="1" fill="url(#b10_0)" transform="translate(911.7 115.1) rotate(0) scale(8.5 10.6)"/><circle r="1" fill="url(#b8_0)" transform="translate(903.4 118.5) rotate(0) scale(7.8 7.8)"/><circle r="1" fill="url(#b8_0)" transform="translate(896.3 122.9) rotate(0) scale(7.8 7.8)"/><circle r="1" fill="url(#b8_0)" transform="translate(889 126.3) rotate(0) scale(8.5 7.1)"/><circle r="1" fill="url(#b12_0)" transform="translate(890.3 149) rotate(-20) scale(9.9 8.5)"/><circle r="1" fill="url(#b8_0)" transform="translate(860.4 136) rotate(-30) scale(9.9 7.8)"/><circle r="1" fill="url(#b8_0)" transform="translate(852.8 143.8) rotate(0) scale(7.8 10.6)"/><circle r="1" fill="url(#b12_0)" transform="translate(857.8 152.9) rotate(20) scale(10.6 7.8)"/><circle r="1" fill="url(#b16_0)" transform="translate(836.9 123.5) rotate(0) scale(9.4 10.4)"/><circle r="1" fill="url(#b20_0)" transform="translate(883.3 94.3) rotate(0) scale(9.7 10.4)"/></g>
<path d="M866.1 58.9V160.1M815.5 109.9H916.7" stroke="#001060" stroke-width="0.7" fill="none" opacity="0.85"/>
<text x="817.4" y="173.6" font-size="14.5" font-weight="bold" fill="#1f3f9c" textLength="6.4" lengthAdjust="spacingAndGlyphs">0</text>
<text x="923" y="173.6" font-size="14.5" font-weight="bold" fill="#bc1f2b" text-anchor="end" textLength="30.6" lengthAdjust="spacingAndGlyphs">11.32</text>
<rect x="818.7" y="177" width="102.9" height="4.7" fill="url(#cb)"/>
<path d="M943.5 53.9L943.5 153.6A340.4 340.4 0 0 0 1029.1 138.7Z" fill="#28e41e"/>
<g clip-path="url(#tc122)"><circle r="1" fill="url(#b9_17)" transform="translate(974 93) rotate(45) scale(66 33)"/><circle r="1" fill="url(#b4_17)" transform="translate(949 124) rotate(0) scale(21 51)"/><circle r="1" fill="url(#b1_15)" transform="translate(944.5 152.6) rotate(0) scale(24 24)"/><circle r="1" fill="url(#b2_12)" transform="translate(945.5 121.8) rotate(0) scale(13.5 27)"/><circle r="1" fill="url(#b2_17)" transform="translate(990.5 128.5) rotate(-32) scale(15 33)"/><circle r="1" fill="url(#b10_22)" transform="translate(985 101) rotate(45) scale(33 18)"/><circle r="1" fill="url(#b9_17)" transform="translate(963.1 133.5) rotate(0) scale(27 22.5)"/><circle r="1" fill="url(#b16_18)" transform="translate(1013.4 126.5) rotate(45) scale(19.5 13.5)"/><circle r="1" fill="url(#b19_18)" transform="translate(956 70.9) rotate(45) scale(22.5 12.6)"/></g>
<path d="M943.5 53.9L1029.1 138.7M943.5 153.6A340.4 340.4 0 0 0 1029.1 138.7" stroke="#000" stroke-width="0.8" fill="none"/>
<text x="934.4" y="53.9" font-size="10.5" textLength="15" lengthAdjust="spacingAndGlyphs">001</text>
<text x="929.9" y="162.7" font-size="10.5" textLength="15" lengthAdjust="spacingAndGlyphs">101</text>
<text x="1024.4" y="148.4" font-size="10.5" textLength="15" lengthAdjust="spacingAndGlyphs">111</text>
<text x="940.9" y="173.6" font-size="14.5" font-weight="bold" fill="#1f3f9c" textLength="6.4" lengthAdjust="spacingAndGlyphs">0</text>
<text x="1028.5" y="173.6" font-size="14.5" font-weight="bold" fill="#bc1f2b" text-anchor="end" textLength="23.6" lengthAdjust="spacingAndGlyphs">2.95</text>
<rect x="942.2" y="177.1" width="85.6" height="4.7" fill="url(#cb)"/>
<text x="800.3" y="203.3" font-size="11.5" textLength="24" lengthAdjust="spacingAndGlyphs">[001]</text>
<text x="861.2" y="200.1" font-size="11.5" textLength="12.8" lengthAdjust="spacingAndGlyphs">Y0</text>
<text x="924.5" y="258" font-size="11.5" textLength="12.8" lengthAdjust="spacingAndGlyphs">X0</text>
<circle cx="866.4" cy="254.5" r="51" fill="#0004f6"/>
<g clip-path="url(#pc123)"><circle r="1" fill="url(#b4_0)" transform="translate(826.3 231.5) rotate(0) scale(10.9 10.9)"/><circle r="1" fill="url(#b4_0)" transform="translate(869.8 218) rotate(0) scale(10.9 10.9)"/><circle r="1" fill="url(#b3_0)" transform="translate(839 236) rotate(0) scale(10.1 10.1)"/><circle r="1" fill="url(#b2_0)" transform="translate(861.2 246.3) rotate(0) scale(10.9 10.9)"/><circle r="1" fill="url(#b2_0)" transform="translate(866 275.7) rotate(0) scale(10.1 12.6)"/><circle r="1" fill="url(#b2_0)" transform="translate(871 297.8) rotate(0) scale(10.9 10.9)"/><circle r="1" fill="url(#b2_0)" transform="translate(827 247) rotate(0) scale(10.1 10.1)"/><circle r="1" fill="url(#b7_0)" transform="translate(842.8 216.8) rotate(0) scale(8.5 8.5)"/><circle r="1" fill="url(#b9_0)" transform="translate(835.9 225.4) rotate(30) scale(8.5 9.9)"/><circle r="1" fill="url(#b7_0)" transform="translate(848.2 268.3) rotate(0) scale(7.8 7.8)"/><circle r="1" fill="url(#b7_0)" transform="translate(882 268.3) rotate(0) scale(8.5 9.9)"/><circle r="1" fill="url(#b7_0)" transform="translate(853.8 285.5) rotate(0) scale(9.9 8.5)"/><circle r="1" fill="url(#b7_0)" transform="translate(834.2 289.2) rotate(30) scale(9.2 8.5)"/><circle r="1" fill="url(#b10_0)" transform="translate(891.1 294.1) rotate(-25) scale(10.6 8.5)"/><circle r="1" fill="url(#b11_0)" transform="translate(875.9 259) rotate(0) scale(9.9 9.9)"/><circle r="1" fill="url(#b12_0)" transform="translate(837.4 267.9) rotate(0) scale(9.2 9.2)"/><circle r="1" fill="url(#b12_0)" transform="translate(856.3 257.3) rotate(0) scale(11.3 9.2)"/><circle r="1" fill="url(#b17_0)" transform="translate(883.3 238.9) rotate(0) scale(10.1 10.1)"/><circle r="1" fill="url(#b20_0)" transform="translate(881.3 210.7) rotate(15) scale(11.5 8.6)"/><circle r="1" fill="url(#b20_0)" transform="translate(907.1 270.3) rotate(20) scale(9.4 13.7)"/></g>
<path d="M864.8 203.5V305.5M815.4 253.6H917.4" stroke="#001060" stroke-width="0.7" fill="none" opacity="0.85"/>
<text x="818.2" y="320.3" font-size="14.5" font-weight="bold" fill="#1f3f9c" textLength="6.4" lengthAdjust="spacingAndGlyphs">0</text>
<text x="923.8" y="320.3" font-size="14.5" font-weight="bold" fill="#bc1f2b" text-anchor="end" textLength="30.6" lengthAdjust="spacingAndGlyphs">12.17</text>
<rect x="819.4" y="323.5" width="102.6" height="5" fill="url(#cb)"/>
<path d="M943.3 201.6L943.3 299.5A334.3 334.3 0 0 0 1027.2 285Z" fill="#23e120"/>
<g clip-path="url(#tc124)"><circle r="1" fill="url(#b0_16)" transform="translate(943.3 203) rotate(-20) scale(27 51)"/><circle r="1" fill="url(#b1_16)" transform="translate(948 290) rotate(0) scale(33 25.5)"/><circle r="1" fill="url(#b9_16)" transform="translate(986 251) rotate(45) scale(48 27)"/><circle r="1" fill="url(#b16_20)" transform="translate(977.7 242.6) rotate(45) scale(24 15)"/><circle r="1" fill="url(#b15_19)" transform="translate(1009.5 272.7) rotate(45) scale(19.5 13.5)"/></g>
<path d="M943.3 201.6L1027.2 285M943.3 299.5A334.3 334.3 0 0 0 1027.2 285" stroke="#000" stroke-width="0.8" fill="none"/>
<text x="935.2" y="200.1" font-size="10.5" textLength="15" lengthAdjust="spacingAndGlyphs">001</text>
<text x="930.3" y="309.3" font-size="10.5" textLength="15" lengthAdjust="spacingAndGlyphs">101</text>
<text x="1024.3" y="294.8" font-size="10.5" textLength="15" lengthAdjust="spacingAndGlyphs">111</text>
<text x="940.9" y="320.3" font-size="14.5" font-weight="bold" fill="#1f3f9c" textLength="6.4" lengthAdjust="spacingAndGlyphs">0</text>
<text x="1028.2" y="320.3" font-size="14.5" font-weight="bold" fill="#bc1f2b" text-anchor="end" textLength="23.6" lengthAdjust="spacingAndGlyphs">3.14</text>
<rect x="942.1" y="323.5" width="85.9" height="4.9" fill="url(#cb)"/>
<text x="800.3" y="350.1" font-size="11.5" textLength="24" lengthAdjust="spacingAndGlyphs">[001]</text>
<text x="861.2" y="346.7" font-size="11.5" textLength="12.8" lengthAdjust="spacingAndGlyphs">Y0</text>
<text x="924.5" y="404.4" font-size="11.5" textLength="12.8" lengthAdjust="spacingAndGlyphs">X0</text>
<circle cx="866.1" cy="403.4" r="50.7" fill="#0004f6"/>
<g clip-path="url(#pc125)"><circle r="1" fill="url(#b6_0)" transform="translate(842.8 449) rotate(30) scale(14.2 6.4)"/><circle r="1" fill="url(#b12_0)" transform="translate(884.5 359.5) rotate(25) scale(15.6 7.8)"/><circle r="1" fill="url(#b16_0)" transform="translate(907.8 422) rotate(20) scale(8.3 18)"/><circle r="1" fill="url(#b20_0)" transform="translate(859.2 403.1) rotate(0) scale(9.4 8.6)"/></g>
<path d="M865.6 352.7V454.1M815.4 403.1H916.8" stroke="#001060" stroke-width="0.7" fill="none" opacity="0.85"/>
<text x="818.2" y="466.4" font-size="14.5" font-weight="bold" fill="#1f3f9c" textLength="6.4" lengthAdjust="spacingAndGlyphs">0</text>
<text x="923.4" y="466.4" font-size="14.5" font-weight="bold" fill="#bc1f2b" text-anchor="end" textLength="30.6" lengthAdjust="spacingAndGlyphs">42.74</text>
<rect x="819.4" y="469.8" width="102.6" height="5" fill="url(#cb)"/>
<path d="M943.3 347.2L943.3 448.5A345.9 345.9 0 0 0 1029.7 433.5Z" fill="#0010ec"/>
<g clip-path="url(#tc126)"><circle r="1" fill="url(#b9_0)" transform="translate(968 398) rotate(34) scale(34.5 57)"/></g>
<path d="M943.3 347.2L1029.7 433.5M943.3 448.5A345.9 345.9 0 0 0 1029.7 433.5" stroke="#000" stroke-width="0.8" fill="none"/>
<text x="935.2" y="346.7" font-size="10.5" textLength="15" lengthAdjust="spacingAndGlyphs">001</text>
<text x="930.3" y="455.9" font-size="10.5" textLength="15" lengthAdjust="spacingAndGlyphs">101</text>
<text x="1024.3" y="444.1" font-size="10.5" textLength="15" lengthAdjust="spacingAndGlyphs">111</text>
<text x="940.9" y="466.4" font-size="14.5" font-weight="bold" fill="#1f3f9c" textLength="6.4" lengthAdjust="spacingAndGlyphs">0</text>
<text x="1028.2" y="466.4" font-size="14.5" font-weight="bold" fill="#bc1f2b" text-anchor="end" textLength="23.6" lengthAdjust="spacingAndGlyphs">9.06</text>
<rect x="942.1" y="469.4" width="85.9" height="5.3" fill="url(#cb)"/>
<text x="800.5" y="495.3" font-size="11.5" textLength="24" lengthAdjust="spacingAndGlyphs">[001]</text>
<text x="860.6" y="492.4" font-size="11.5" textLength="12.8" lengthAdjust="spacingAndGlyphs">Y0</text>
<text x="925" y="550.6" font-size="11.5" textLength="12.8" lengthAdjust="spacingAndGlyphs">X0</text>
<circle cx="866.4" cy="549.3" r="51.6" fill="#0004f6"/>
<g clip-path="url(#pc127)"><circle r="1" fill="url(#b6_0)" transform="translate(840.1 595.5) rotate(32) scale(12.7 6.4)"/><circle r="1" fill="url(#b17_0)" transform="translate(888.8 505.2) rotate(28) scale(13.7 7.2)"/><circle r="1" fill="url(#b17_0)" transform="translate(908.6 572.3) rotate(28) scale(7.9 15.1)"/><circle r="1" fill="url(#b20_0)" transform="translate(860.4 549.8) rotate(0) scale(8.3 8.3)"/></g>
<path d="M867 497.7V600.9M814.8 549.1H918" stroke="#001060" stroke-width="0.7" fill="none" opacity="0.85"/>
<text x="817.7" y="612" font-size="14.5" font-weight="bold" fill="#1f3f9c" textLength="6.4" lengthAdjust="spacingAndGlyphs">0</text>
<text x="923.2" y="612" font-size="14.5" font-weight="bold" fill="#bc1f2b" text-anchor="end" textLength="30.6" lengthAdjust="spacingAndGlyphs">52.04</text>
<rect x="819" y="615.7" width="102.8" height="5.3" fill="url(#cb)"/>
<path d="M945.1 495L945.1 593.9A337.7 337.7 0 0 0 1028.5 577.6Z" fill="#0010ec"/>
<g clip-path="url(#tc128)"><circle r="1" fill="url(#b9_0)" transform="translate(962.5 554) rotate(10) scale(34.5 40.5)"/></g>
<path d="M945.1 495L1028.5 577.6M945.1 593.9A337.7 337.7 0 0 0 1028.5 577.6" stroke="#000" stroke-width="0.8" fill="none"/>
<text x="934.9" y="492.4" font-size="10.5" textLength="15" lengthAdjust="spacingAndGlyphs">001</text>
<text x="930.1" y="601.8" font-size="10.5" textLength="15" lengthAdjust="spacingAndGlyphs">101</text>
<text x="1024.5" y="588.6" font-size="10.5" textLength="15" lengthAdjust="spacingAndGlyphs">111</text>
<text x="941.2" y="612.4" font-size="14.5" font-weight="bold" fill="#1f3f9c" textLength="6.4" lengthAdjust="spacingAndGlyphs">0</text>
<text x="1032.4" y="612.4" font-size="14.5" font-weight="bold" fill="#bc1f2b" text-anchor="end" textLength="30.6" lengthAdjust="spacingAndGlyphs">13.27</text>
<rect x="942" y="615.8" width="85.7" height="5.3" fill="url(#cb)"/>
<text x="899.8" y="648.8" font-size="17.5" textLength="50" lengthAdjust="spacingAndGlyphs">10-LSP</text>
</svg>
</body></html>
